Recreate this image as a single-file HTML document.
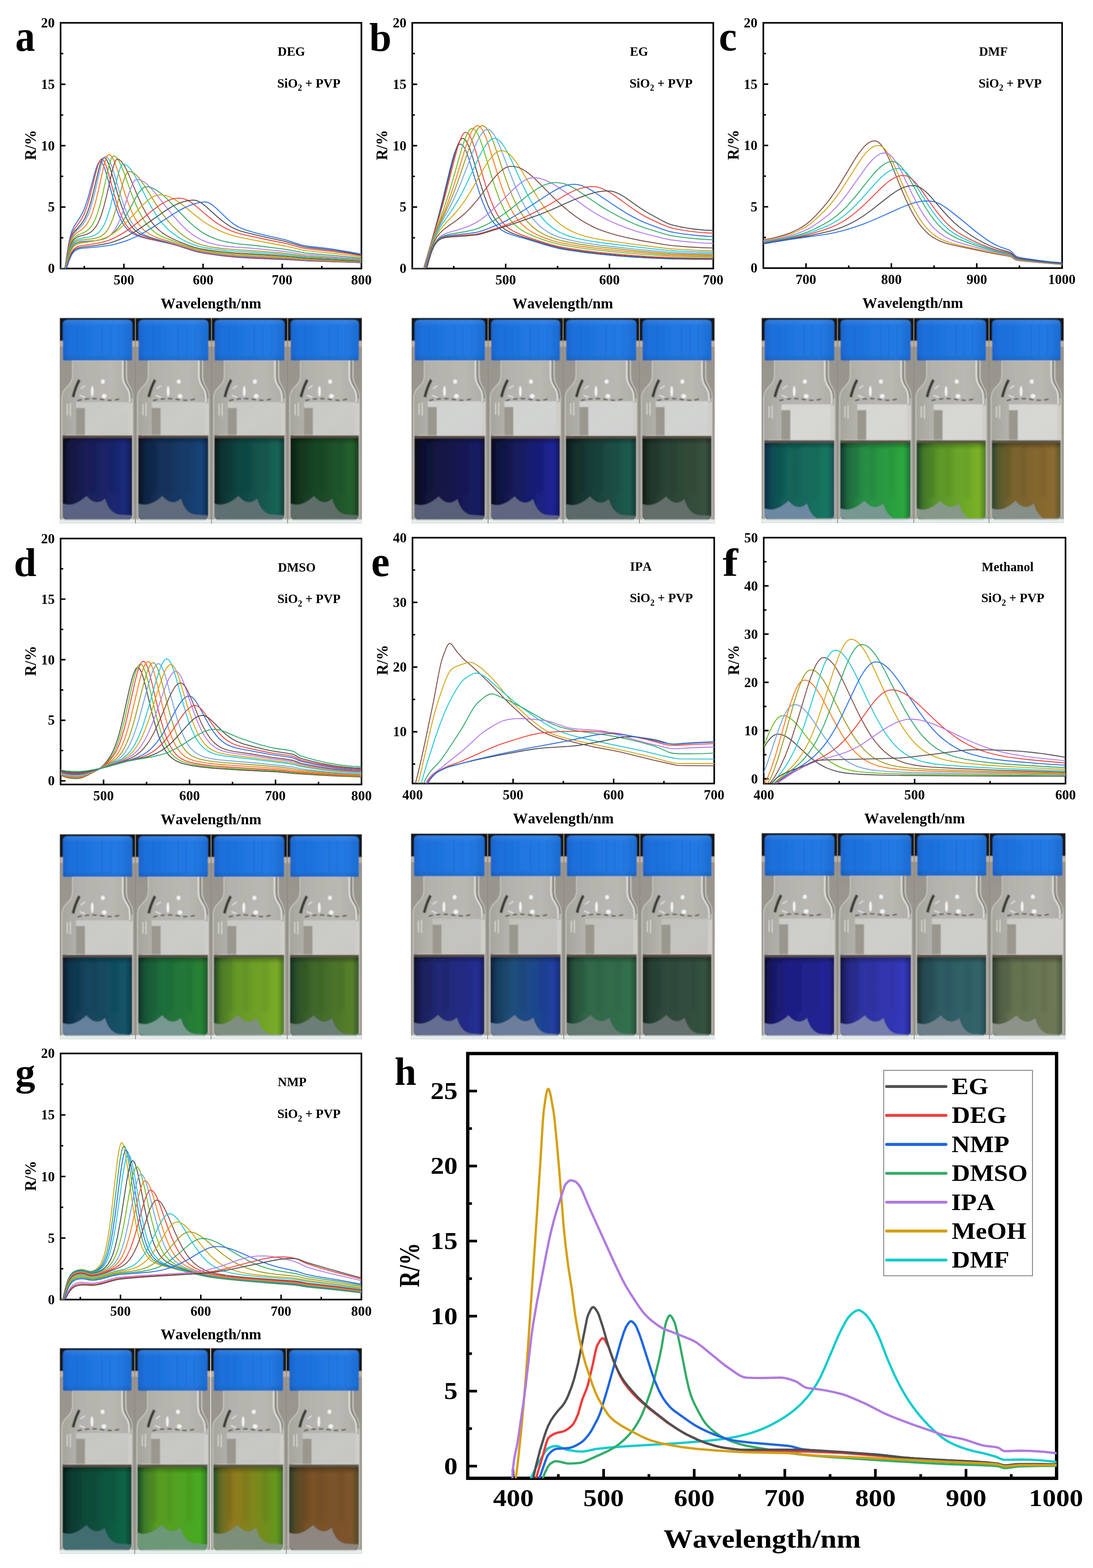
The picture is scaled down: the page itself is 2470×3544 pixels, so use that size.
<!DOCTYPE html>
<html><head><meta charset="utf-8"><title>Figure</title>
<style>
html,body{margin:0;padding:0;background:#fff;}
body{width:2470px;height:3544px;overflow:hidden;position:relative;}
svg{position:absolute;left:0;top:0;display:block;}
text{font-family:'Liberation Serif', 'Times New Roman', serif;font-weight:bold;font-kerning:none;}
</style></head><body>
<svg width="2470" height="3544" viewBox="0 0 2470 3544">
<rect width="2470" height="3544" fill="#fff"/>
<g id="ax-a">
<path d="M280.02,606.90V595.90M458.91,606.90V595.90M637.81,606.90V595.90M190.57,606.90V600.90M369.46,606.90V600.90M548.36,606.90V600.90M727.25,606.90V600.90M136.90,468.07H147.90M136.90,329.25H147.90M136.90,190.43H147.90M136.90,537.49H142.90M136.90,398.66H142.90M136.90,259.84H142.90M136.90,121.01H142.90" stroke="#000" stroke-width="3.4" fill="none"/>
<rect x="136.90" y="51.60" width="679.80" height="555.30" fill="none" stroke="#000" stroke-width="3.6"/>
<text transform="translate(108.26,617.38) scale(0.9700,1)" font-size="32.00" fill="#000">0</text>
<text transform="translate(108.22,478.40) scale(0.9700,1)" font-size="32.00" fill="#000">5</text>
<text transform="translate(92.74,339.73) scale(0.9700,1)" font-size="32.00" fill="#000">10</text>
<text transform="translate(92.70,200.83) scale(0.9700,1)" font-size="32.00" fill="#000">15</text>
<text transform="translate(92.74,62.08) scale(0.9700,1)" font-size="32.00" fill="#000">20</text>
<text transform="translate(256.71,643.18) scale(0.9700,1)" font-size="32.00" fill="#000">500</text>
<text transform="translate(435.69,643.18) scale(0.9700,1)" font-size="32.00" fill="#000">600</text>
<text transform="translate(614.23,643.18) scale(0.9700,1)" font-size="32.00" fill="#000">700</text>
<text transform="translate(793.50,643.18) scale(0.9700,1)" font-size="32.00" fill="#000">800</text>
<text transform="translate(363.01,696.99) scale(0.9880,1)" font-size="34.00" fill="#000">Wavelength/nm</text>
<text transform="translate(80.54,362.07) rotate(-90) scale(0.9640,1)" font-size="35.40">R/%</text>
<text transform="translate(34.62,115.00) scale(0.8933,1)" font-size="100.16" fill="#000">a</text>
<text transform="translate(627.60,126.06) scale(0.9500,1)" font-size="30.00" fill="#000">DEG</text>
<text transform="translate(626.50,197.75) scale(0.96,1)" font-size="30">SiO<tspan font-size="20" dy="7.5">2</tspan><tspan dy="-7.5"> + PVP</tspan></text>
</g>
<g id="ax-b">
<path d="M1142.73,606.90V595.90M1377.31,606.90V595.90M1025.43,606.90V600.90M1260.02,606.90V600.90M1494.61,606.90V600.90M931.60,468.07H942.60M931.60,329.25H942.60M931.60,190.43H942.60M931.60,537.49H937.60M931.60,398.66H937.60M931.60,259.84H937.60M931.60,121.01H937.60" stroke="#000" stroke-width="3.4" fill="none"/>
<rect x="931.60" y="51.60" width="680.30" height="555.30" fill="none" stroke="#000" stroke-width="3.6"/>
<text transform="translate(902.96,617.38) scale(0.9700,1)" font-size="32.00" fill="#000">0</text>
<text transform="translate(902.92,478.40) scale(0.9700,1)" font-size="32.00" fill="#000">5</text>
<text transform="translate(887.44,339.73) scale(0.9700,1)" font-size="32.00" fill="#000">10</text>
<text transform="translate(887.40,200.83) scale(0.9700,1)" font-size="32.00" fill="#000">15</text>
<text transform="translate(887.44,62.08) scale(0.9700,1)" font-size="32.00" fill="#000">20</text>
<text transform="translate(1119.42,643.18) scale(0.9700,1)" font-size="32.00" fill="#000">500</text>
<text transform="translate(1354.09,643.18) scale(0.9700,1)" font-size="32.00" fill="#000">600</text>
<text transform="translate(1588.32,643.18) scale(0.9700,1)" font-size="32.00" fill="#000">700</text>
<text transform="translate(1157.96,696.99) scale(0.9880,1)" font-size="34.00" fill="#000">Wavelength/nm</text>
<text transform="translate(875.24,362.07) rotate(-90) scale(0.9640,1)" font-size="35.40">R/%</text>
<text transform="translate(834.45,115.00) scale(0.9825,1)" font-size="91.88" fill="#000">b</text>
<text transform="translate(1423.51,126.06) scale(0.9500,1)" font-size="30.00" fill="#000">EG</text>
<text transform="translate(1422.40,197.75) scale(0.96,1)" font-size="30">SiO<tspan font-size="20" dy="7.5">2</tspan><tspan dy="-7.5"> + PVP</tspan></text>
</g>
<g id="ax-c">
<path d="M1821.46,606.00V595.00M2014.37,606.00V595.00M2207.29,606.00V595.00M1917.91,606.00V600.00M2110.83,606.00V600.00M2303.74,606.00V600.00M1725.00,467.40H1736.00M1725.00,328.80H1736.00M1725.00,190.20H1736.00M1725.00,536.70H1731.00M1725.00,398.10H1731.00M1725.00,259.50H1731.00M1725.00,120.90H1731.00" stroke="#000" stroke-width="3.4" fill="none"/>
<rect x="1725.00" y="51.60" width="675.20" height="554.40" fill="none" stroke="#000" stroke-width="3.6"/>
<text transform="translate(1696.36,616.48) scale(0.9700,1)" font-size="32.00" fill="#000">0</text>
<text transform="translate(1696.32,477.72) scale(0.9700,1)" font-size="32.00" fill="#000">5</text>
<text transform="translate(1680.84,339.28) scale(0.9700,1)" font-size="32.00" fill="#000">10</text>
<text transform="translate(1680.80,200.61) scale(0.9700,1)" font-size="32.00" fill="#000">15</text>
<text transform="translate(1680.84,62.08) scale(0.9700,1)" font-size="32.00" fill="#000">20</text>
<text transform="translate(1797.88,642.28) scale(0.9700,1)" font-size="32.00" fill="#000">700</text>
<text transform="translate(1991.17,642.28) scale(0.9700,1)" font-size="32.00" fill="#000">800</text>
<text transform="translate(2184.17,642.28) scale(0.9700,1)" font-size="32.00" fill="#000">900</text>
<text transform="translate(2368.51,642.28) scale(0.9700,1)" font-size="32.00" fill="#000">1000</text>
<text transform="translate(1948.81,696.09) scale(0.9880,1)" font-size="34.00" fill="#000">Wavelength/nm</text>
<text transform="translate(1668.64,361.62) rotate(-90) scale(0.9640,1)" font-size="35.40">R/%</text>
<text transform="translate(1624.62,114.40) scale(0.9722,1)" font-size="94.23" fill="#000">c</text>
<text transform="translate(2212.50,125.84) scale(0.9500,1)" font-size="30.00" fill="#000">DMF</text>
<text transform="translate(2211.40,197.75) scale(0.96,1)" font-size="30">SiO<tspan font-size="20" dy="7.5">2</tspan><tspan dy="-7.5"> + PVP</tspan></text>
</g>
<g id="ax-d">
<path d="M234.04,1773.10V1762.10M428.33,1773.10V1762.10M622.61,1773.10V1762.10M331.19,1773.10V1767.10M525.47,1773.10V1767.10M719.76,1773.10V1767.10M136.90,1764.88H147.90M136.90,1627.96H147.90M136.90,1491.04H147.90M136.90,1354.12H147.90M136.90,1696.42H142.90M136.90,1559.50H142.90M136.90,1422.58H142.90M136.90,1285.66H142.90" stroke="#000" stroke-width="3.4" fill="none"/>
<rect x="136.90" y="1217.20" width="680.00" height="555.90" fill="none" stroke="#000" stroke-width="3.6"/>
<text transform="translate(108.26,1775.37) scale(0.9700,1)" font-size="32.00" fill="#000">0</text>
<text transform="translate(108.22,1638.28) scale(0.9700,1)" font-size="32.00" fill="#000">5</text>
<text transform="translate(92.74,1501.53) scale(0.9700,1)" font-size="32.00" fill="#000">10</text>
<text transform="translate(92.70,1364.53) scale(0.9700,1)" font-size="32.00" fill="#000">15</text>
<text transform="translate(92.74,1227.68) scale(0.9700,1)" font-size="32.00" fill="#000">20</text>
<text transform="translate(210.73,1809.38) scale(0.9700,1)" font-size="32.00" fill="#000">500</text>
<text transform="translate(405.11,1809.38) scale(0.9700,1)" font-size="32.00" fill="#000">600</text>
<text transform="translate(599.04,1809.38) scale(0.9700,1)" font-size="32.00" fill="#000">700</text>
<text transform="translate(793.70,1809.38) scale(0.9700,1)" font-size="32.00" fill="#000">800</text>
<text transform="translate(363.11,1863.19) scale(0.9880,1)" font-size="34.00" fill="#000">Wavelength/nm</text>
<text transform="translate(80.54,1527.97) rotate(-90) scale(0.9640,1)" font-size="35.40">R/%</text>
<text transform="translate(31.28,1301.90) scale(1.0075,1)" font-size="91.01" fill="#000">d</text>
<text transform="translate(627.90,1291.66) scale(0.9500,1)" font-size="30.00" fill="#000">DMSO</text>
<text transform="translate(626.80,1363.35) scale(0.96,1)" font-size="30">SiO<tspan font-size="20" dy="7.5">2</tspan><tspan dy="-7.5"> + PVP</tspan></text>
</g>
<g id="ax-e">
<path d="M1159.47,1770.90V1759.90M1386.73,1770.90V1759.90M1045.83,1770.90V1764.90M1273.10,1770.90V1764.90M1500.37,1770.90V1764.90M932.20,1653.93H943.20M932.20,1507.72H943.20M932.20,1361.51H943.20M932.20,1727.04H938.20M932.20,1580.83H938.20M932.20,1434.62H938.20M932.20,1288.41H938.20" stroke="#000" stroke-width="3.4" fill="none"/>
<rect x="932.20" y="1215.30" width="681.80" height="555.60" fill="none" stroke="#000" stroke-width="3.6"/>
<text transform="translate(888.04,1664.42) scale(0.9700,1)" font-size="32.00" fill="#000">10</text>
<text transform="translate(888.04,1518.21) scale(0.9700,1)" font-size="32.00" fill="#000">20</text>
<text transform="translate(888.04,1371.99) scale(0.9700,1)" font-size="32.00" fill="#000">30</text>
<text transform="translate(888.04,1225.78) scale(0.9700,1)" font-size="32.00" fill="#000">40</text>
<text transform="translate(909.30,1807.18) scale(0.9700,1)" font-size="32.00" fill="#000">400</text>
<text transform="translate(1136.16,1807.18) scale(0.9700,1)" font-size="32.00" fill="#000">500</text>
<text transform="translate(1363.51,1807.18) scale(0.9700,1)" font-size="32.00" fill="#000">600</text>
<text transform="translate(1590.42,1807.18) scale(0.9700,1)" font-size="32.00" fill="#000">700</text>
<text transform="translate(1159.31,1860.99) scale(0.9880,1)" font-size="34.00" fill="#000">Wavelength/nm</text>
<text transform="translate(875.84,1525.92) rotate(-90) scale(0.9640,1)" font-size="35.40">R/%</text>
<text transform="translate(838.68,1301.90) scale(0.9769,1)" font-size="96.55" fill="#000">e</text>
<text transform="translate(1423.79,1289.70) scale(0.9500,1)" font-size="30.00" fill="#000">IPA</text>
<text transform="translate(1423.15,1361.45) scale(0.96,1)" font-size="30">SiO<tspan font-size="20" dy="7.5">2</tspan><tspan dy="-7.5"> + PVP</tspan></text>
</g>
<g id="ax-f">
<path d="M2066.90,1771.20V1760.20M1896.40,1771.20V1765.20M2237.40,1771.20V1765.20M1725.90,1760.30H1736.90M1725.90,1651.28H1736.90M1725.90,1542.26H1736.90M1725.90,1433.24H1736.90M1725.90,1324.22H1736.90M1725.90,1705.79H1731.90M1725.90,1596.77H1731.90M1725.90,1487.75H1731.90M1725.90,1378.73H1731.90M1725.90,1269.71H1731.90" stroke="#000" stroke-width="3.4" fill="none"/>
<rect x="1725.90" y="1215.20" width="682.00" height="556.00" fill="none" stroke="#000" stroke-width="3.6"/>
<text transform="translate(1697.26,1770.78) scale(0.9700,1)" font-size="32.00" fill="#000">0</text>
<text transform="translate(1681.74,1661.76) scale(0.9700,1)" font-size="32.00" fill="#000">10</text>
<text transform="translate(1681.74,1552.74) scale(0.9700,1)" font-size="32.00" fill="#000">20</text>
<text transform="translate(1681.74,1443.72) scale(0.9700,1)" font-size="32.00" fill="#000">30</text>
<text transform="translate(1681.74,1334.70) scale(0.9700,1)" font-size="32.00" fill="#000">40</text>
<text transform="translate(1681.74,1225.68) scale(0.9700,1)" font-size="32.00" fill="#000">50</text>
<text transform="translate(1703.00,1807.48) scale(0.9700,1)" font-size="32.00" fill="#000">400</text>
<text transform="translate(2043.59,1807.48) scale(0.9700,1)" font-size="32.00" fill="#000">500</text>
<text transform="translate(2384.68,1807.48) scale(0.9700,1)" font-size="32.00" fill="#000">600</text>
<text transform="translate(1953.11,1861.29) scale(0.9880,1)" font-size="34.00" fill="#000">Wavelength/nm</text>
<text transform="translate(1669.54,1526.02) rotate(-90) scale(0.9640,1)" font-size="35.40">R/%</text>
<text transform="translate(1632.99,1300.60) scale(1.1643,1)" font-size="89.62" fill="#000">f</text>
<text transform="translate(2218.51,1290.62) scale(0.9500,1)" font-size="30.00" fill="#000">Methanol</text>
<text transform="translate(2217.40,1361.35) scale(0.96,1)" font-size="30">SiO<tspan font-size="20" dy="7.5">2</tspan><tspan dy="-7.5"> + PVP</tspan></text>
</g>
<g id="ax-g">
<path d="M272.28,2937.30V2926.30M453.75,2937.30V2926.30M635.23,2937.30V2926.30M181.54,2937.30V2931.30M363.02,2937.30V2931.30M544.49,2937.30V2931.30M725.96,2937.30V2931.30M136.90,2798.23H147.90M136.90,2659.15H147.90M136.90,2520.07H147.90M136.90,2867.76H142.90M136.90,2728.69H142.90M136.90,2589.61H142.90M136.90,2450.54H142.90" stroke="#000" stroke-width="3.4" fill="none"/>
<rect x="136.90" y="2381.00" width="679.80" height="556.30" fill="none" stroke="#000" stroke-width="3.6"/>
<text transform="translate(108.26,2947.78) scale(0.9700,1)" font-size="32.00" fill="#000">0</text>
<text transform="translate(108.22,2808.55) scale(0.9700,1)" font-size="32.00" fill="#000">5</text>
<text transform="translate(92.74,2669.63) scale(0.9700,1)" font-size="32.00" fill="#000">10</text>
<text transform="translate(92.70,2530.48) scale(0.9700,1)" font-size="32.00" fill="#000">15</text>
<text transform="translate(92.74,2391.48) scale(0.9700,1)" font-size="32.00" fill="#000">20</text>
<text transform="translate(248.97,2973.58) scale(0.9700,1)" font-size="32.00" fill="#000">500</text>
<text transform="translate(430.53,2973.58) scale(0.9700,1)" font-size="32.00" fill="#000">600</text>
<text transform="translate(611.65,2973.58) scale(0.9700,1)" font-size="32.00" fill="#000">700</text>
<text transform="translate(793.50,2973.58) scale(0.9700,1)" font-size="32.00" fill="#000">800</text>
<text transform="translate(363.01,3027.39) scale(0.9880,1)" font-size="34.00" fill="#000">Wavelength/nm</text>
<text transform="translate(80.54,2691.97) rotate(-90) scale(0.9640,1)" font-size="35.40">R/%</text>
<text transform="translate(34.52,2452.68) scale(1.0362,1)" font-size="87.07" fill="#000">g</text>
<text transform="translate(627.86,2455.24) scale(0.9500,1)" font-size="30.00" fill="#000">NMP</text>
<text transform="translate(626.80,2527.15) scale(0.96,1)" font-size="30">SiO<tspan font-size="20" dy="7.5">2</tspan><tspan dy="-7.5"> + PVP</tspan></text>
</g>
<g id="ax-h">
<path d="M1159.36,3341.25V3320.25M1364.08,3341.25V3320.25M1568.81,3341.25V3320.25M1773.53,3341.25V3320.25M1978.25,3341.25V3320.25M2182.98,3341.25V3320.25M1261.72,3341.25V3331.75M1466.45,3341.25V3331.75M1671.17,3341.25V3331.75M1875.89,3341.25V3331.75M2080.62,3341.25V3331.75M2285.34,3341.25V3331.75M1057.00,3313.78H1078.00M1057.00,3144.22H1078.00M1057.00,2974.66H1078.00M1057.00,2805.10H1078.00M1057.00,2635.54H1078.00M1057.00,2465.98H1078.00M1057.00,3229.00H1066.50M1057.00,3059.44H1066.50M1057.00,2889.88H1066.50M1057.00,2720.32H1066.50M1057.00,2550.76H1066.50" stroke="#000" stroke-width="6" fill="none"/>
<rect x="1057.00" y="2381.20" width="1330.70" height="960.05" fill="none" stroke="#000" stroke-width="7.5"/>
<text transform="translate(1003.50,3331.67) scale(1.1200,1)" font-size="54.60" fill="#000">0</text>
<text transform="translate(1003.41,3161.83) scale(1.1200,1)" font-size="54.60" fill="#000">5</text>
<text transform="translate(972.93,2992.55) scale(1.1200,1)" font-size="54.60" fill="#000">10</text>
<text transform="translate(972.84,2822.86) scale(1.1200,1)" font-size="54.60" fill="#000">15</text>
<text transform="translate(972.93,2653.43) scale(1.1200,1)" font-size="54.60" fill="#000">20</text>
<text transform="translate(972.84,2483.79) scale(1.1200,1)" font-size="54.60" fill="#000">25</text>
<text transform="translate(1114.14,3403.91) scale(1.1350,1)" font-size="54.00" fill="#000">400</text>
<text transform="translate(1318.06,3403.91) scale(1.1350,1)" font-size="54.00" fill="#000">500</text>
<text transform="translate(1522.96,3403.91) scale(1.1350,1)" font-size="54.00" fill="#000">600</text>
<text transform="translate(1726.98,3403.91) scale(1.1350,1)" font-size="54.00" fill="#000">700</text>
<text transform="translate(1932.44,3403.91) scale(1.1350,1)" font-size="54.00" fill="#000">800</text>
<text transform="translate(2137.34,3403.91) scale(1.1350,1)" font-size="54.00" fill="#000">900</text>
<text transform="translate(2325.12,3403.91) scale(1.1350,1)" font-size="54.00" fill="#000">1000</text>
<text transform="translate(1499.41,3497.84) scale(1.1250,1)" font-size="58.50" fill="#000">Wavelength/nm</text>
<text transform="translate(946.51,2909.46) rotate(-90) scale(0.7600,1)" font-size="66.00">R/%</text>
<text transform="translate(891.80,2452.25) scale(0.9848,1)" font-size="89.72" fill="#000">h</text>
</g>
<clipPath id="cp-a"><rect x="136.9" y="51.6" width="679.8" height="555.3"/></clipPath>
<g clip-path="url(#cp-a)" fill="none" stroke-width="2.1" stroke-linejoin="round" stroke-linecap="round">
<path d="M133.3,606.9 145.8,606.9 147.6,600.3 151.2,574.7 154.8,552.8 158.4,536.1 161.9,524.1 163.7,519.5 167.3,512.1 181.6,489.9 187.0,479.9 190.6,471.8 194.1,462.4 199.5,445.6 213.8,392.1 217.4,380.2 221.0,371.0 222.8,367.9 224.6,366.0 226.3,365.3 228.1,365.8 229.9,367.3 231.7,369.8 233.5,373.1 237.1,382.1 242.4,399.6 253.2,439.4 260.3,463.8 267.5,484.0 272.9,496.3 276.4,503.1 280.0,508.8 283.6,513.7 289.0,519.6 292.5,522.8 297.9,526.6 303.3,529.6 310.4,532.7 319.4,535.9 331.9,539.3 387.4,551.4 401.7,555.6 432.1,565.4 448.2,569.9 457.1,571.7 469.6,573.8 501.8,578.2 535.8,581.6 571.6,583.8 661.1,587.4 696.8,589.7 820.3,593.7" stroke="#2b6fe6"/>
<path d="M133.3,606.9 145.8,606.9 147.6,601.1 151.2,577.3 154.8,557.0 156.6,548.7 160.2,535.5 161.9,530.4 165.5,522.4 169.1,516.5 179.8,501.8 183.4,496.3 188.8,486.3 192.4,478.0 197.7,463.0 203.1,444.6 215.6,393.8 221.0,374.3 224.6,365.0 226.3,362.0 228.1,360.2 229.9,359.8 231.7,360.5 233.5,362.3 235.3,364.9 237.1,368.3 240.7,377.4 246.0,394.9 258.5,441.1 263.9,459.3 271.1,480.1 278.2,496.6 281.8,503.3 285.4,509.0 289.0,513.8 294.3,519.7 297.9,522.8 303.3,526.7 308.6,529.7 315.8,532.8 324.7,535.9 339.1,539.7 378.4,548.5 389.1,551.2 432.1,564.8 448.2,569.3 457.1,571.1 467.9,572.9 500.1,577.3 532.3,580.6 568.0,582.8 659.3,586.7 696.8,589.3 820.3,593.5" stroke="#f0443c"/>
<path d="M133.3,606.9 145.8,606.9 147.6,601.9 151.2,579.4 154.8,560.1 158.4,545.5 161.9,535.0 165.5,527.8 169.1,522.5 181.6,508.6 187.0,501.4 192.4,492.0 195.9,484.2 201.3,469.6 206.7,451.5 212.0,430.3 222.8,384.4 226.3,371.4 229.9,361.7 231.7,358.5 233.5,356.6 235.3,356.2 237.1,356.9 238.9,358.4 240.7,360.7 242.4,363.8 246.0,371.9 251.4,387.6 265.7,437.6 272.9,460.7 280.0,480.2 287.2,495.9 294.3,507.9 297.9,512.7 303.3,518.6 306.9,521.8 312.2,525.9 317.6,529.1 324.7,532.5 335.5,536.3 346.2,539.5 390.9,550.7 430.3,563.3 444.6,567.4 460.7,570.7 494.7,575.6 519.7,578.3 544.8,580.2 657.5,585.6 691.5,588.2 820.3,593.0" stroke="#505050"/>
<path d="M133.3,606.9 145.8,606.9 147.6,602.4 151.2,580.5 154.8,561.7 158.4,547.4 161.9,537.3 165.5,530.4 169.1,525.4 172.7,521.6 183.4,511.5 188.8,505.0 194.1,496.4 199.5,484.8 204.9,469.8 210.2,451.2 215.6,429.4 226.3,382.4 229.9,369.0 233.5,359.1 235.3,355.8 237.1,353.9 238.9,353.4 240.7,354.0 242.4,355.5 244.2,357.6 247.8,363.8 251.4,372.3 256.8,388.3 271.1,437.0 278.2,459.3 285.4,478.4 292.5,493.9 296.1,500.3 301.5,508.5 305.1,513.1 310.4,518.8 314.0,522.0 319.4,526.0 324.7,529.2 331.9,532.6 339.1,535.4 348.0,538.4 389.1,549.4 428.5,562.1 442.8,566.2 458.9,569.7 491.1,574.4 516.2,577.1 541.2,579.1 655.7,584.8 691.5,587.6 820.3,592.7" stroke="#74a4e0"/>
<path d="M133.3,606.9 145.8,606.9 147.6,603.3 153.0,572.9 156.6,557.0 160.2,545.5 163.7,537.6 167.3,532.2 170.9,528.5 174.5,525.6 185.2,518.3 188.8,515.3 192.4,511.6 195.9,507.1 199.5,501.4 204.9,490.4 208.5,481.2 212.0,470.4 217.4,451.1 222.8,428.5 233.5,379.7 237.1,365.9 240.7,355.6 242.4,352.2 244.2,350.2 246.0,349.5 247.8,349.9 249.6,351.0 251.4,352.7 255.0,358.0 258.5,365.4 265.7,385.0 281.8,436.3 289.0,457.1 297.9,479.3 305.1,493.7 308.6,499.8 314.0,507.6 319.4,514.2 324.7,519.5 330.1,523.9 337.3,528.7 342.6,531.6 349.8,534.9 362.3,539.5 389.1,547.4 424.9,559.3 441.0,564.2 450.0,566.4 458.9,568.2 489.3,572.5 512.6,575.1 535.8,577.0 648.5,583.0 666.4,584.2 691.5,586.5 820.3,592.0" stroke="#ff7b1c"/>
<path d="M133.3,606.9 145.8,606.9 147.6,604.4 153.0,575.8 156.6,560.8 160.2,549.9 161.9,545.9 165.5,539.9 169.1,535.9 172.7,533.2 178.0,530.4 190.6,525.2 195.9,522.0 199.5,519.1 203.1,515.5 206.7,511.0 210.2,505.4 213.8,498.4 217.4,490.0 221.0,480.0 226.3,461.9 231.7,440.2 242.4,391.4 247.8,369.6 251.4,359.0 253.2,355.4 255.0,353.3 256.8,352.6 258.5,352.9 260.3,353.7 263.9,356.8 267.5,361.8 272.9,372.2 280.0,389.9 296.1,434.8 305.1,457.8 314.0,477.8 323.0,494.2 326.5,499.7 331.9,507.1 339.1,515.4 344.4,520.6 349.8,525.0 356.9,529.8 364.1,533.8 371.3,537.1 414.2,553.0 439.2,561.2 457.1,565.4 487.5,569.9 507.2,572.0 530.5,573.9 643.2,580.4 664.6,582.0 691.5,584.8 820.3,591.1" stroke="#6cbc22"/>
<path d="M133.3,606.9 145.8,606.9 147.6,605.2 153.0,577.7 156.6,563.3 160.2,552.9 161.9,549.0 165.5,543.2 169.1,539.5 174.5,536.1 179.8,534.1 195.9,529.5 201.3,527.0 204.9,524.8 210.2,520.3 213.8,516.2 217.4,511.2 221.0,504.9 224.6,497.2 228.1,488.1 231.7,477.2 235.3,464.8 240.7,443.4 253.2,387.7 256.8,374.5 260.3,364.9 262.1,361.8 263.9,360.1 265.7,359.8 269.3,360.9 272.9,363.5 276.4,367.5 281.8,375.9 285.4,382.7 290.7,394.3 310.4,441.3 321.2,465.0 326.5,475.5 331.9,485.1 337.3,493.8 342.6,501.6 348.0,508.5 355.2,516.3 360.5,521.2 367.7,526.9 374.8,531.6 383.8,536.5 394.5,541.7 405.2,546.4 428.5,555.2 439.2,558.7 450.0,561.5 458.9,563.4 471.4,565.4 498.3,568.8 532.3,571.7 580.6,574.4 641.4,578.3 662.9,580.2 684.3,582.7 693.3,583.5 820.3,590.3" stroke="#80504a"/>
<path d="M133.3,606.9 145.8,606.9 147.6,606.3 153.0,580.3 156.6,566.6 158.4,561.1 161.9,552.8 163.7,549.8 167.3,545.4 170.9,542.6 176.3,540.2 181.6,538.9 201.3,535.7 208.5,533.8 213.8,531.6 219.2,528.5 222.8,525.6 228.1,519.8 231.7,514.6 235.3,508.1 238.9,500.3 242.4,490.9 246.0,479.8 251.4,460.1 263.9,406.8 269.3,386.5 272.9,376.8 274.6,373.6 276.4,371.6 278.2,370.9 280.0,371.0 283.6,372.1 289.0,375.6 294.3,381.3 299.7,388.7 308.6,404.0 331.9,449.4 344.4,472.3 355.2,489.3 360.5,496.8 367.7,505.7 373.0,511.6 380.2,518.7 387.4,524.9 396.3,531.7 405.2,537.6 414.2,542.7 423.1,547.2 432.1,551.0 446.4,556.0 458.9,559.1 480.4,562.8 503.6,565.6 530.5,567.8 577.0,570.4 639.6,575.2 661.1,577.3 682.5,580.2 693.3,581.2 755.9,584.8 820.3,589.0" stroke="#20c8d4"/>
<path d="M133.3,606.9 147.6,606.9 153.0,582.4 156.6,569.1 158.4,563.8 160.2,559.3 163.7,552.8 165.5,550.4 169.1,547.0 174.5,544.1 179.8,542.7 208.5,539.7 215.6,538.4 222.8,536.2 228.1,533.8 233.5,530.2 238.9,525.0 242.4,520.4 246.0,514.6 251.4,503.3 255.0,494.2 258.5,483.7 265.7,459.1 276.4,418.3 281.8,400.9 285.4,392.6 287.2,389.9 289.0,388.2 290.7,387.6 296.1,388.3 299.7,389.8 303.3,392.0 308.6,396.5 315.8,404.6 321.2,411.9 328.3,422.5 351.6,460.2 364.1,479.0 376.6,495.7 383.8,504.1 390.9,511.8 403.5,523.8 410.6,529.7 417.8,534.9 424.9,539.6 432.1,543.7 439.2,547.2 446.4,550.2 457.1,553.8 471.4,557.2 487.5,559.9 505.4,562.1 532.3,564.3 578.8,567.0 637.8,572.1 659.3,574.5 682.5,577.9 693.3,579.1 755.9,583.0 820.3,587.8" stroke="#9c9c20"/>
<path d="M133.3,606.9 147.6,606.9 154.8,578.0 158.4,566.8 160.2,562.4 163.7,555.9 165.5,553.6 169.1,550.3 174.5,547.5 179.8,546.1 187.0,545.4 215.6,543.7 224.6,542.5 231.7,541.0 238.9,538.5 244.2,535.7 249.6,531.2 253.2,527.5 258.5,520.4 262.1,514.6 267.5,504.1 271.1,496.0 278.2,476.9 292.5,433.3 297.9,419.1 301.5,411.9 303.3,409.2 305.1,407.2 306.9,406.0 308.6,405.6 312.2,405.8 315.8,406.6 319.4,407.9 323.0,409.6 330.1,414.5 337.3,421.0 349.8,435.1 378.4,471.6 394.5,491.2 408.8,507.0 421.3,519.1 433.9,529.3 444.6,536.4 455.3,542.2 467.9,547.2 478.6,550.5 489.3,553.0 501.8,555.3 516.2,557.1 534.0,558.8 560.9,560.4 577.0,561.7 637.8,567.9 657.5,570.5 682.5,574.7 691.5,575.8 757.7,580.7 820.3,586.1" stroke="#b27af0"/>
<path d="M133.3,606.9 147.6,606.9 149.4,602.1 154.8,580.2 156.6,574.2 160.2,564.6 161.9,561.0 165.5,555.6 167.3,553.7 170.9,550.9 176.3,548.5 181.6,547.4 213.8,544.4 222.8,542.9 229.9,541.2 237.1,538.8 244.2,535.5 251.4,530.4 256.8,525.8 262.1,520.4 267.5,514.0 272.9,506.8 278.2,498.7 287.2,483.5 306.9,446.8 314.0,435.2 319.4,428.4 323.0,425.1 326.5,423.0 330.1,422.0 333.7,422.1 337.3,422.7 344.4,425.0 351.6,428.6 358.7,433.3 367.7,440.5 376.6,448.7 387.4,459.7 419.6,493.8 430.3,504.2 441.0,513.5 453.5,522.9 464.3,529.5 476.8,535.7 491.1,541.2 500.1,543.9 509.0,546.1 528.7,549.8 539.4,551.2 578.8,555.1 639.6,562.8 659.3,566.1 687.9,571.5 700.4,572.9 759.5,577.7 820.3,584.0" stroke="#34aa6a"/>
<path d="M133.3,606.9 147.6,606.9 149.4,604.4 154.8,583.5 158.4,572.5 160.2,568.0 161.9,564.3 165.5,558.7 167.3,556.7 170.9,553.7 176.3,551.1 181.6,549.7 208.5,545.6 224.6,542.0 238.9,537.0 244.2,534.7 249.6,531.6 256.8,527.1 263.9,521.9 271.1,516.1 278.2,509.8 292.5,495.5 321.2,464.8 333.7,453.0 340.8,447.7 348.0,443.7 355.2,441.2 360.5,440.3 367.7,440.7 376.6,442.5 383.8,445.1 392.7,449.6 399.9,454.0 408.8,460.4 448.2,492.1 458.9,500.0 469.6,507.2 482.2,514.5 494.7,520.8 509.0,526.8 523.3,531.6 534.0,534.7 543.0,536.7 609.2,549.6 645.0,556.1 687.9,566.0 700.4,567.5 759.5,573.4 820.3,581.0" stroke="#d4a418"/>
<path d="M133.3,606.9 149.4,606.9 154.8,588.3 160.2,573.8 161.9,570.2 165.5,564.7 169.1,561.1 172.7,558.7 178.0,556.5 183.4,555.3 212.0,551.3 229.9,547.8 244.2,543.7 258.5,537.7 274.6,529.0 283.6,523.4 292.5,517.2 308.6,504.9 344.4,475.8 355.2,467.8 364.1,461.7 374.8,455.6 383.8,451.7 389.1,450.0 394.5,448.8 403.5,447.8 410.6,448.2 416.0,449.4 421.3,451.5 428.5,455.3 433.9,458.8 441.0,464.2 473.2,491.7 482.2,498.6 491.1,504.9 501.8,511.6 512.6,517.3 523.3,522.1 534.0,526.0 550.1,530.2 605.6,542.1 645.0,550.0 680.7,559.7 687.9,561.2 698.6,562.8 736.2,566.6 757.7,569.3 788.1,573.5 820.3,578.6" stroke="#f0443c"/>
<path d="M133.3,606.9 149.4,606.9 151.2,602.6 156.6,585.7 160.2,577.0 161.9,573.5 163.7,570.5 167.3,566.1 169.1,564.4 172.7,562.0 178.0,559.9 183.4,558.7 217.4,554.8 238.9,551.1 246.0,549.5 255.0,546.9 271.1,541.0 280.0,537.0 289.0,532.6 308.6,521.3 326.5,509.4 371.3,477.8 382.0,471.0 390.9,465.8 403.5,459.8 414.2,455.9 424.9,453.4 435.7,452.2 439.2,452.4 444.6,453.5 450.0,455.8 455.3,458.9 464.3,465.8 492.9,491.6 507.2,503.0 516.2,509.1 525.1,514.3 534.0,518.7 543.0,522.0 553.7,525.1 584.1,532.5 645.0,545.8 680.7,556.3 687.9,558.0 698.6,559.6 736.2,563.7 755.9,566.3 786.3,570.9 820.3,576.8" stroke="#505050"/>
<path d="M133.3,606.9 149.4,606.9 151.2,604.0 156.6,588.0 160.2,579.6 161.9,576.1 163.7,573.2 167.3,568.8 170.9,565.9 174.5,563.9 179.8,562.2 185.2,561.3 224.6,557.8 247.8,554.5 258.5,552.3 267.5,550.0 285.4,544.2 296.1,539.9 306.9,535.1 317.6,529.7 328.3,523.9 348.0,512.0 392.7,483.1 405.2,475.7 416.0,470.0 428.5,464.4 439.2,460.7 451.8,457.6 462.5,456.3 466.1,456.6 471.4,458.3 475.0,460.1 480.4,463.7 489.3,471.3 514.4,495.3 523.3,502.8 530.5,508.0 535.8,511.3 541.2,514.1 548.4,517.2 555.5,519.8 571.6,524.7 587.7,529.0 645.0,542.1 680.7,553.4 687.9,555.2 698.6,556.9 734.4,560.9 755.9,563.9 786.3,568.9 820.3,575.3" stroke="#2b6fe6"/>
</g>
<clipPath id="cp-b"><rect x="931.6" y="51.6" width="680.3" height="555.3"/></clipPath>
<g clip-path="url(#cp-b)" fill="none" stroke-width="2.1" stroke-linejoin="round" stroke-linecap="round">
<path d="M926.9,606.9 957.4,606.9 973.8,550.4 990.2,491.2 999.6,454.4 1016.1,385.8 1023.1,358.9 1027.8,344.1 1032.5,333.1 1034.8,329.3 1037.2,326.8 1039.5,325.7 1041.9,325.9 1044.2,327.2 1046.5,329.6 1048.9,333.1 1053.6,342.6 1060.6,362.0 1077.0,415.9 1086.4,444.6 1091.1,457.3 1095.8,468.7 1102.8,483.5 1107.5,491.8 1112.2,498.9 1116.9,505.0 1121.6,510.2 1126.3,514.5 1133.3,519.8 1138.0,522.7 1145.1,526.2 1152.1,529.0 1161.5,532.2 1189.6,540.3 1234.2,554.0 1253.0,559.2 1264.7,561.9 1278.8,564.5 1321.0,570.7 1353.9,574.5 1396.1,578.5 1431.3,581.2 1468.8,583.3 1515.7,585.2 1569.7,586.0 1616.6,586.3" stroke="#2b6fe6"/>
<path d="M926.9,606.9 957.4,606.9 985.6,510.7 994.9,477.3 1004.3,441.1 1023.1,364.7 1030.1,339.7 1034.8,326.6 1037.2,321.5 1039.5,317.5 1041.9,314.7 1044.2,313.1 1046.5,312.9 1048.9,313.9 1051.2,315.9 1053.6,319.0 1055.9,323.1 1060.6,333.7 1067.7,354.3 1084.1,409.9 1093.5,439.3 1098.2,452.4 1102.8,464.2 1109.9,479.5 1114.6,488.2 1119.3,495.7 1124.0,502.1 1128.7,507.5 1133.3,512.2 1140.4,517.9 1145.1,520.9 1152.1,524.7 1161.5,528.7 1173.2,532.8 1224.8,549.3 1248.3,556.1 1262.4,559.5 1274.1,561.8 1295.2,565.3 1318.7,568.6 1351.5,572.5 1396.1,576.7 1431.3,579.5 1471.1,582.0 1518.1,584.0 1572.0,584.9 1616.6,585.2" stroke="#505050"/>
<path d="M926.9,606.9 957.4,606.9 959.8,600.0 973.8,551.8 992.6,490.1 999.6,465.9 1009.0,431.1 1027.8,356.5 1034.8,331.2 1039.5,317.3 1044.2,306.8 1046.5,303.1 1048.9,300.6 1051.2,299.2 1053.6,299.1 1055.9,300.1 1058.3,302.1 1060.6,305.3 1063.0,309.3 1067.7,320.0 1074.7,340.7 1093.5,405.5 1100.5,428.2 1109.9,454.6 1114.6,466.0 1119.3,476.1 1124.0,484.9 1128.7,492.7 1133.3,499.3 1138.0,505.0 1142.7,509.9 1149.8,515.9 1154.5,519.2 1161.5,523.2 1175.6,529.5 1194.3,536.4 1222.5,545.9 1245.9,553.0 1260.0,556.6 1271.8,559.0 1295.2,562.9 1318.7,566.3 1351.5,570.2 1398.4,574.8 1436.0,577.8 1478.2,580.5 1522.8,582.4 1574.4,583.4 1616.6,583.7" stroke="#f0443c"/>
<path d="M926.9,606.9 957.4,606.9 959.8,601.0 971.5,561.6 978.5,539.8 1002.0,474.5 1011.4,446.6 1020.7,415.8 1041.9,341.3 1048.9,319.4 1053.6,307.3 1058.3,298.0 1060.6,294.7 1063.0,292.3 1065.3,290.8 1067.7,290.4 1070.0,290.9 1072.4,292.5 1074.7,294.9 1079.4,302.5 1084.1,313.0 1088.8,325.9 1093.5,340.4 1109.9,395.4 1119.3,424.8 1128.7,450.4 1133.3,461.5 1138.0,471.5 1142.7,480.4 1147.4,488.2 1152.1,495.1 1159.1,503.7 1163.8,508.5 1170.9,514.5 1177.9,519.5 1187.3,525.1 1201.4,531.8 1217.8,538.4 1236.6,544.8 1253.0,549.6 1267.1,553.0 1283.5,556.0 1306.9,559.8 1328.1,562.7 1363.2,566.8 1414.8,571.7 1445.3,574.2 1497.0,577.8 1515.7,578.8 1550.9,579.8 1616.6,580.7" stroke="#6cbc22"/>
<path d="M926.9,606.9 957.4,606.9 959.8,601.8 971.5,562.7 980.9,535.1 987.9,517.1 1009.0,466.3 1020.7,434.3 1030.1,405.4 1051.2,335.9 1058.3,315.1 1065.3,298.4 1070.0,290.4 1072.4,287.5 1074.7,285.5 1077.0,284.3 1079.4,284.0 1081.7,284.6 1084.1,286.1 1086.4,288.4 1088.8,291.6 1093.5,300.2 1098.2,311.4 1105.2,331.6 1124.0,392.6 1133.3,421.3 1140.4,440.5 1145.1,452.0 1149.8,462.5 1154.5,471.9 1159.1,480.4 1166.2,491.2 1170.9,497.4 1177.9,505.5 1185.0,512.1 1192.0,517.8 1199.0,522.5 1206.1,526.6 1217.8,532.5 1231.9,538.2 1245.9,543.0 1260.0,547.0 1271.8,549.6 1292.9,553.5 1314.0,556.9 1335.1,559.8 1367.9,563.5 1424.2,569.0 1504.0,575.4 1520.4,576.2 1560.3,577.5 1616.6,578.3" stroke="#ff7b1c"/>
<path d="M926.9,606.9 957.4,606.9 959.8,602.5 971.5,563.2 980.9,536.2 990.2,513.8 1013.7,464.0 1025.4,435.7 1037.2,403.4 1060.6,333.3 1067.7,314.5 1074.7,299.2 1079.4,291.6 1081.7,288.7 1084.1,286.4 1086.4,284.9 1088.8,284.1 1091.1,284.1 1093.5,284.8 1095.8,286.2 1098.2,288.4 1102.8,294.9 1105.2,299.0 1109.9,309.0 1114.6,320.7 1119.3,333.7 1140.4,397.0 1149.8,423.0 1156.8,440.6 1161.5,451.3 1170.9,470.0 1175.6,478.1 1182.6,488.9 1187.3,495.2 1194.3,503.5 1201.4,510.6 1208.4,516.6 1215.4,521.7 1224.8,527.4 1234.2,532.1 1243.6,536.1 1255.3,540.2 1267.1,543.5 1285.8,547.6 1306.9,551.4 1325.7,554.4 1346.8,557.2 1433.6,566.4 1506.3,572.7 1522.8,573.6 1562.6,575.1 1616.6,576.0" stroke="#9c9c20"/>
<path d="M926.9,606.9 957.4,606.9 959.8,603.3 969.1,571.4 973.8,556.8 978.5,543.5 983.2,531.8 992.6,511.8 1016.1,469.2 1023.1,455.3 1030.1,440.3 1041.9,412.5 1067.7,344.8 1077.0,322.5 1084.1,308.7 1088.8,301.5 1093.5,296.3 1095.8,294.5 1098.2,293.3 1100.5,292.7 1102.8,292.7 1105.2,293.3 1107.5,294.5 1109.9,296.3 1114.6,301.7 1116.9,305.1 1121.6,313.5 1126.3,323.3 1133.3,340.2 1154.5,396.1 1166.2,425.3 1177.9,450.9 1185.0,464.4 1189.6,472.6 1194.3,480.1 1201.4,490.2 1208.4,499.0 1215.4,506.6 1222.5,513.1 1229.5,518.7 1236.6,523.5 1243.6,527.5 1253.0,532.0 1262.4,535.7 1271.8,538.6 1283.5,541.6 1299.9,545.2 1318.7,548.7 1356.2,554.1 1438.3,563.2 1511.0,570.1 1567.3,572.6 1616.6,573.5" stroke="#74a4e0"/>
<path d="M926.9,606.9 957.4,606.9 959.8,604.5 966.8,580.3 973.8,558.3 980.9,539.7 987.9,524.8 992.6,516.4 997.3,508.9 1018.4,478.8 1025.4,468.2 1037.2,448.6 1044.2,435.6 1053.6,416.9 1081.7,356.5 1088.8,342.7 1093.5,334.5 1100.5,324.1 1105.2,318.9 1109.9,315.2 1112.2,314.0 1116.9,312.9 1119.3,313.0 1121.6,313.6 1124.0,314.6 1128.7,318.0 1131.0,320.3 1135.7,326.0 1142.7,337.0 1147.4,345.6 1154.5,359.8 1180.3,416.0 1192.0,440.0 1203.7,461.3 1215.4,479.6 1220.1,486.1 1227.2,494.8 1231.9,500.0 1238.9,507.0 1243.6,511.1 1250.6,516.5 1257.7,521.2 1264.7,525.1 1274.1,529.3 1283.5,532.8 1292.9,535.8 1304.6,538.9 1316.3,541.5 1330.4,544.2 1363.2,549.1 1443.0,558.8 1511.0,566.2 1532.1,567.5 1567.3,569.1 1616.6,570.2" stroke="#20c8d4"/>
<path d="M926.9,606.9 957.4,606.9 959.8,605.6 969.1,574.4 976.2,554.2 983.2,538.1 990.2,525.6 994.9,518.9 1002.0,510.2 1023.1,487.8 1032.5,477.1 1039.5,468.3 1046.5,458.8 1053.6,448.5 1063.0,433.6 1095.8,376.8 1102.8,365.7 1107.5,359.1 1114.6,350.6 1121.6,344.5 1126.3,341.9 1128.7,341.1 1133.3,340.4 1135.7,340.5 1140.4,341.6 1142.7,342.6 1147.4,345.4 1154.5,351.6 1159.1,356.8 1163.8,362.8 1170.9,372.9 1177.9,384.1 1206.1,432.1 1217.8,451.0 1231.9,471.3 1243.6,485.7 1255.3,497.9 1267.1,507.8 1278.8,515.7 1292.9,523.2 1304.6,528.1 1316.3,532.2 1328.1,535.5 1342.1,538.8 1367.9,543.2 1433.6,552.3 1501.6,560.9 1518.1,562.6 1572.0,565.6 1616.6,566.7" stroke="#d4a418"/>
<path d="M926.9,606.9 959.8,606.9 969.1,576.7 976.2,557.4 983.2,542.5 987.9,534.8 992.6,528.6 997.3,523.6 1004.3,517.3 1030.1,499.1 1039.5,491.9 1048.9,483.9 1058.3,474.9 1067.7,464.8 1077.0,453.9 1086.4,441.9 1112.2,407.6 1121.6,396.5 1128.7,389.3 1135.7,383.4 1142.7,379.0 1149.8,376.5 1154.5,375.9 1159.1,376.0 1163.8,376.6 1170.9,378.3 1180.3,382.4 1189.6,388.2 1199.0,395.4 1208.4,403.7 1257.7,453.2 1271.8,466.1 1285.8,477.8 1302.2,490.2 1318.7,501.1 1335.1,510.2 1344.5,514.7 1353.9,518.7 1365.6,523.1 1379.7,527.5 1398.4,532.7 1417.2,537.3 1450.0,544.1 1501.6,552.8 1520.4,555.2 1555.6,558.1 1588.4,559.9 1616.6,560.7" stroke="#80504a"/>
<path d="M926.9,606.9 959.8,606.9 962.1,603.1 971.5,573.9 978.5,556.8 980.9,552.2 985.6,544.7 990.2,539.0 994.9,534.7 1002.0,530.2 1009.0,527.1 1016.1,524.7 1041.9,517.4 1058.3,511.5 1072.4,505.0 1081.7,499.5 1088.8,494.7 1095.8,489.3 1109.9,477.2 1126.3,461.8 1159.1,428.9 1173.2,416.3 1182.6,409.6 1189.6,405.8 1196.7,403.1 1203.7,401.8 1208.4,401.7 1213.1,402.1 1222.5,403.9 1231.9,407.0 1243.6,412.4 1255.3,419.1 1267.1,426.8 1283.5,438.4 1323.4,467.8 1337.4,477.2 1349.2,484.4 1363.2,492.2 1377.3,499.1 1398.4,508.3 1419.5,516.4 1438.3,522.8 1457.1,528.3 1499.3,538.7 1515.7,542.1 1539.2,545.1 1567.3,547.8 1593.1,549.5 1616.6,550.3" stroke="#b27af0"/>
<path d="M926.9,606.9 959.8,606.9 962.1,606.3 971.5,576.0 976.2,563.6 978.5,558.4 983.2,549.8 987.9,543.5 992.6,538.9 997.3,535.6 1004.3,532.4 1013.7,529.8 1051.2,523.6 1070.0,519.5 1081.7,515.8 1093.5,510.8 1105.2,504.6 1119.3,496.5 1138.0,484.3 1154.5,472.1 1194.3,440.2 1203.7,433.3 1213.1,427.2 1222.5,421.8 1231.9,417.5 1241.3,414.4 1250.6,412.8 1260.0,412.7 1269.4,414.0 1278.8,416.6 1290.5,421.7 1297.6,425.5 1306.9,431.3 1351.5,462.0 1365.6,471.0 1377.3,477.9 1398.4,489.4 1417.2,498.8 1436.0,507.1 1454.7,514.3 1499.3,528.2 1511.0,531.3 1520.4,533.2 1543.9,536.5 1569.7,539.4 1593.1,541.1 1616.6,541.9" stroke="#34aa6a"/>
<path d="M926.9,606.9 962.1,606.9 964.4,601.2 969.1,585.2 973.8,571.1 976.2,565.1 980.9,555.0 983.2,551.0 987.9,544.8 992.6,540.4 997.3,537.4 1004.3,534.6 1013.7,532.5 1058.3,527.8 1072.4,525.9 1079.4,524.5 1086.4,522.6 1095.8,519.5 1121.6,509.2 1131.0,505.1 1142.7,499.5 1163.8,487.8 1187.3,473.2 1238.9,439.4 1255.3,429.5 1264.7,424.7 1274.1,420.8 1283.5,418.0 1290.5,416.8 1299.9,416.5 1306.9,417.5 1316.3,420.1 1325.7,424.1 1332.7,427.8 1342.1,433.5 1400.8,472.6 1414.8,481.4 1428.9,489.5 1443.0,496.8 1457.1,503.2 1494.6,517.3 1506.3,521.3 1515.7,523.9 1525.1,525.7 1543.9,528.7 1562.6,531.0 1581.4,532.9 1600.2,534.1 1616.6,534.6" stroke="#2b6fe6"/>
<path d="M926.9,606.9 962.1,606.9 964.4,604.3 969.1,587.5 973.8,572.7 976.2,566.4 980.9,556.0 983.2,552.0 987.9,545.7 992.6,541.5 997.3,538.7 1004.3,536.2 1013.7,534.6 1060.6,530.8 1072.4,529.7 1079.4,528.7 1086.4,527.1 1095.8,524.4 1135.7,511.4 1152.1,505.3 1170.9,497.4 1192.0,487.8 1215.4,476.5 1236.6,465.2 1278.8,440.4 1292.9,433.1 1302.2,429.1 1311.6,425.9 1321.0,423.6 1328.1,422.4 1337.4,421.7 1346.8,422.3 1356.2,424.6 1367.9,429.5 1377.3,434.5 1386.7,440.4 1428.9,471.0 1440.7,478.9 1450.0,484.7 1459.4,490.0 1468.8,494.8 1494.6,506.7 1508.7,512.4 1518.1,515.3 1525.1,517.0 1541.5,520.0 1557.9,522.5 1574.4,524.5 1588.4,525.8 1602.5,526.6 1616.6,527.0" stroke="#f0443c"/>
<path d="M926.9,606.9 964.4,606.9 969.1,589.5 973.8,574.0 976.2,567.4 980.9,556.7 983.2,552.6 987.9,546.3 992.6,542.2 997.3,539.6 1004.3,537.4 1013.7,535.9 1053.6,533.1 1074.7,531.3 1084.1,529.6 1093.5,527.1 1149.8,509.6 1220.1,484.7 1245.9,474.2 1295.2,452.2 1318.7,443.2 1330.4,439.2 1342.1,435.8 1351.5,433.6 1360.9,432.2 1370.3,431.5 1379.7,431.8 1384.4,432.6 1389.0,434.0 1398.4,437.9 1405.5,441.7 1412.5,446.1 1447.7,470.8 1464.1,481.2 1497.0,499.2 1506.3,503.7 1515.7,507.4 1522.8,509.4 1536.8,512.6 1550.9,515.2 1565.0,517.4 1590.8,520.1 1616.6,521.1" stroke="#505050"/>
</g>
<clipPath id="cp-c"><rect x="1725.0" y="51.6" width="675.2" height="554.4"/></clipPath>
<g clip-path="url(#cp-c)" fill="none" stroke-width="2.1" stroke-linejoin="round" stroke-linecap="round">
<path d="M1721.1,543.0 1740.4,539.4 1757.8,535.3 1773.2,530.8 1786.7,526.0 1800.2,519.9 1811.8,513.5 1821.5,507.2 1831.1,499.4 1842.7,488.1 1860.0,469.0 1869.7,457.4 1879.3,444.5 1887.0,433.4 1896.7,418.4 1933.3,357.8 1941.1,346.2 1948.8,336.1 1956.5,327.8 1960.4,324.6 1964.2,321.9 1968.1,320.0 1971.9,318.8 1977.7,318.5 1981.6,319.4 1983.5,320.4 1985.4,321.7 1989.3,325.2 1995.1,332.5 1998.9,338.8 2002.8,345.9 2008.6,357.9 2014.4,371.1 2037.5,428.4 2047.2,451.1 2056.8,471.5 2066.5,489.3 2076.1,504.4 2085.7,516.6 2095.4,526.4 2101.2,531.3 2107.0,535.5 2114.7,540.1 2124.3,544.8 2134.0,548.4 2143.6,551.4 2162.9,556.0 2232.4,570.4 2251.7,574.2 2280.6,579.1 2284.5,580.4 2286.4,581.4 2294.1,586.8 2296.0,587.7 2299.9,588.8 2309.5,590.0 2344.3,593.3 2404.1,598.2" stroke="#80504a"/>
<path d="M1721.1,544.2 1740.4,540.7 1757.8,537.0 1773.2,533.0 1788.7,528.0 1802.2,522.6 1813.7,516.9 1825.3,510.0 1835.0,502.8 1846.5,492.7 1863.9,476.0 1873.5,465.5 1885.1,451.4 1894.8,438.3 1904.4,424.1 1941.1,366.8 1948.8,355.8 1956.5,346.1 1964.2,338.2 1968.1,335.0 1971.9,332.5 1975.8,330.5 1979.6,329.3 1985.4,328.7 1989.3,329.4 1991.2,330.1 1993.2,331.2 1997.0,334.2 2002.8,340.8 2006.7,346.5 2010.5,353.0 2016.3,364.0 2022.1,376.3 2047.2,434.5 2056.8,455.6 2066.5,474.7 2076.1,491.3 2085.7,505.4 2095.4,516.9 2105.0,526.2 2110.8,530.8 2116.6,534.8 2124.3,539.3 2132.0,543.0 2141.7,546.8 2151.3,549.9 2166.8,553.9 2232.4,568.9 2253.6,573.3 2280.6,578.2 2284.5,579.5 2286.4,580.6 2294.1,586.2 2296.0,587.1 2299.9,588.2 2311.5,589.7 2346.2,593.1 2404.1,597.9" stroke="#d4a418"/>
<path d="M1721.1,545.9 1744.3,542.0 1765.5,537.7 1784.8,532.9 1800.2,528.2 1813.7,523.2 1825.3,518.0 1836.9,511.3 1850.4,502.1 1863.9,492.2 1875.5,482.5 1885.1,473.3 1896.7,460.7 1906.3,449.0 1917.9,433.7 1956.5,379.1 1964.2,369.3 1971.9,360.8 1979.6,353.8 1983.5,351.0 1987.4,348.8 1991.2,347.1 1995.1,346.1 2000.9,345.7 2004.7,346.4 2006.7,347.1 2012.4,350.9 2018.2,356.9 2025.9,367.9 2031.7,377.8 2037.5,388.8 2062.6,441.0 2072.2,459.9 2083.8,480.4 2093.5,495.1 2103.1,507.5 2112.8,517.8 2122.4,526.2 2132.0,532.9 2139.8,537.4 2149.4,541.9 2159.1,545.6 2170.6,549.3 2207.3,559.6 2236.2,567.2 2253.6,571.3 2276.7,575.7 2282.5,577.2 2286.4,579.1 2294.1,585.1 2296.0,586.1 2299.9,587.2 2313.4,589.0 2348.1,592.6 2404.1,597.3" stroke="#b27af0"/>
<path d="M1721.1,547.6 1750.1,542.8 1775.2,538.0 1796.4,533.1 1813.7,528.3 1825.3,524.3 1836.9,519.4 1862.0,506.7 1871.6,501.2 1883.2,493.4 1892.8,485.9 1902.5,477.4 1914.1,465.9 1923.7,455.3 1933.3,444.0 1971.9,395.7 1979.6,387.0 1987.4,379.4 1995.1,373.1 2002.8,368.4 2006.7,366.8 2010.5,365.7 2014.4,365.1 2018.2,365.1 2020.2,365.4 2024.0,366.5 2029.8,370.0 2035.6,375.4 2043.3,385.1 2049.1,393.9 2054.9,403.5 2080.0,449.1 2089.6,465.7 2101.2,483.8 2110.8,496.9 2120.5,508.1 2130.1,517.6 2139.8,525.4 2149.4,531.8 2159.1,537.0 2170.6,542.1 2188.0,548.6 2209.2,555.9 2228.5,562.0 2245.9,567.0 2259.4,570.3 2276.7,573.9 2282.5,575.5 2286.4,577.5 2294.1,583.9 2296.0,584.9 2299.9,586.2 2313.4,588.1 2348.1,591.9 2377.1,594.6 2404.1,596.7" stroke="#34aa6a"/>
<path d="M1721.1,548.6 1752.0,543.6 1779.0,538.7 1800.2,534.3 1819.5,529.5 1835.0,524.6 1860.0,514.8 1871.6,509.9 1881.3,504.9 1892.8,498.0 1902.5,491.4 1912.1,483.8 1923.7,473.6 1933.3,464.2 1943.0,454.0 1983.5,408.7 1991.2,401.0 1998.9,394.1 2008.6,387.2 2016.3,383.4 2024.0,381.2 2027.9,380.9 2031.7,381.0 2037.5,382.5 2043.3,385.9 2049.1,390.9 2056.8,399.7 2062.6,407.6 2068.4,416.3 2093.5,456.9 2103.1,471.7 2114.7,487.9 2124.3,499.7 2134.0,509.9 2143.6,518.6 2153.3,525.8 2162.9,531.8 2174.5,537.8 2188.0,544.0 2205.4,551.1 2222.7,557.5 2236.2,562.1 2249.7,566.1 2261.3,569.1 2276.7,572.5 2282.5,574.2 2286.4,576.3 2294.1,583.0 2296.0,584.1 2299.9,585.4 2315.3,587.6 2350.0,591.6 2377.1,594.2 2404.1,596.3" stroke="#20c8d4"/>
<path d="M1721.1,549.6 1782.9,539.3 1806.0,534.8 1823.4,531.0 1836.9,527.3 1865.8,518.4 1877.4,514.1 1889.0,509.1 1900.6,503.1 1912.1,496.1 1921.8,489.4 1933.3,480.3 1943.0,472.0 1954.6,461.3 1993.2,423.1 2002.8,414.5 2010.5,408.5 2020.2,402.4 2027.9,399.0 2035.6,397.0 2043.3,396.7 2049.1,397.8 2053.0,399.4 2056.8,401.8 2062.6,406.4 2070.3,414.3 2081.9,429.1 2107.0,465.0 2116.6,478.1 2128.2,492.5 2139.8,504.9 2149.4,513.9 2159.1,521.5 2168.7,528.0 2180.3,534.7 2191.9,540.8 2205.4,547.2 2218.9,553.1 2232.4,558.4 2253.6,565.4 2276.7,571.1 2282.5,572.9 2286.4,575.2 2294.1,582.1 2296.0,583.3 2299.9,584.6 2315.3,587.0 2350.0,591.2 2377.1,593.8 2404.1,595.9" stroke="#f0443c"/>
<path d="M1721.1,550.8 1802.2,537.4 1831.1,532.2 1873.5,523.0 1887.0,519.2 1900.6,514.5 1914.1,508.9 1925.6,503.3 1937.2,496.8 1948.8,489.6 1958.4,483.0 1970.0,474.4 2012.4,441.1 2022.1,434.4 2029.8,429.6 2039.5,424.7 2047.2,421.8 2056.8,419.8 2064.5,419.6 2068.4,419.9 2072.2,420.8 2078.0,423.1 2083.8,426.6 2091.5,432.8 2097.3,438.3 2105.0,446.5 2130.1,475.7 2141.7,488.5 2153.3,500.2 2164.8,510.5 2178.3,521.0 2193.8,531.7 2207.3,540.2 2222.7,548.7 2236.2,555.1 2249.7,560.6 2259.4,563.8 2276.7,568.5 2282.5,570.6 2286.4,573.0 2294.1,580.5 2296.0,581.7 2299.9,583.2 2317.2,586.1 2350.0,590.3 2377.1,593.1 2404.1,595.1" stroke="#505050"/>
<path d="M1721.1,552.1 1752.0,546.6 1782.9,541.6 1865.8,529.8 1883.2,526.5 1902.5,522.0 1929.5,514.1 1956.5,504.4 1981.6,493.9 2033.7,470.4 2045.2,465.6 2056.8,461.3 2068.4,457.8 2080.0,455.3 2089.6,454.3 2099.3,454.4 2107.0,455.2 2114.7,457.1 2122.4,460.2 2132.0,465.6 2139.8,470.9 2149.4,478.1 2174.5,498.1 2207.3,525.1 2226.6,539.4 2240.1,548.0 2251.7,554.2 2261.3,558.4 2278.7,564.5 2282.5,566.3 2286.4,569.1 2294.1,577.7 2298.0,580.0 2301.8,581.3 2311.5,583.2 2346.2,588.4 2375.1,591.8 2404.1,594.0" stroke="#2b6fe6"/>
</g>
<clipPath id="cp-d"><rect x="136.9" y="1217.2" width="680.0" height="555.9"/></clipPath>
<g clip-path="url(#cp-d)" fill="none" stroke-width="2.1" stroke-linejoin="round" stroke-linecap="round">
<path d="M133.0,1750.3 138.8,1753.1 146.6,1756.1 152.4,1757.7 160.2,1759.1 168.0,1759.8 175.8,1759.7 179.6,1759.3 185.5,1757.8 191.3,1755.6 199.1,1751.9 216.6,1742.6 222.4,1738.9 228.2,1734.3 234.0,1728.9 239.9,1722.4 243.8,1717.4 249.6,1708.6 255.4,1697.8 261.2,1683.9 265.1,1672.6 269.0,1659.6 274.8,1637.2 292.3,1558.0 298.2,1534.5 302.0,1522.1 305.9,1513.4 307.9,1510.7 309.8,1509.2 311.8,1508.9 313.7,1509.8 315.6,1511.8 317.6,1515.0 319.5,1519.2 323.4,1530.2 329.2,1551.5 342.8,1608.5 348.7,1631.1 356.4,1657.1 360.3,1668.1 364.2,1677.7 368.1,1686.1 372.0,1693.3 375.9,1699.4 379.8,1704.5 383.6,1708.9 389.5,1714.1 395.3,1718.1 401.1,1721.2 407.0,1723.7 414.7,1726.3 430.3,1729.9 453.6,1733.4 484.7,1736.6 543.0,1740.4 624.6,1744.4 667.3,1748.5 725.6,1752.3 776.1,1754.8 820.8,1756.1" stroke="#505050"/>
<path d="M133.0,1749.8 138.8,1752.5 146.6,1755.4 152.4,1757.0 160.2,1758.4 168.0,1759.0 175.8,1758.9 179.6,1758.5 185.5,1757.1 191.3,1755.0 199.1,1751.4 216.6,1742.5 224.3,1737.7 232.1,1731.7 237.9,1726.4 243.8,1720.3 249.6,1713.0 255.4,1704.3 259.3,1697.0 265.1,1683.5 269.0,1672.6 274.8,1653.1 280.7,1630.2 298.2,1551.0 304.0,1527.5 307.9,1515.1 311.8,1506.2 313.7,1503.4 315.6,1501.7 317.6,1501.2 319.5,1501.8 321.5,1503.7 323.4,1506.6 325.4,1510.6 329.2,1521.3 335.1,1542.4 348.7,1600.1 356.4,1630.7 364.2,1656.5 370.0,1672.4 373.9,1681.3 377.8,1689.0 381.7,1695.5 385.6,1701.1 389.5,1705.7 395.3,1711.4 401.1,1715.7 407.0,1719.0 412.8,1721.6 418.6,1723.7 426.4,1725.8 434.2,1727.5 455.5,1730.9 482.7,1733.8 527.4,1737.0 624.6,1742.4 677.0,1747.5 729.5,1751.3 778.0,1753.9 820.8,1755.2" stroke="#6cbc22"/>
<path d="M133.0,1749.2 138.8,1751.9 146.6,1754.7 152.4,1756.2 160.2,1757.6 168.0,1758.2 175.8,1758.2 181.6,1757.4 187.4,1755.8 197.1,1751.8 216.6,1742.3 226.3,1736.5 234.0,1730.9 241.8,1724.3 249.6,1716.5 255.4,1709.4 261.2,1700.3 265.1,1692.6 271.0,1678.5 274.8,1667.2 280.7,1647.4 286.5,1624.3 304.0,1545.5 309.8,1522.2 313.7,1509.6 317.6,1500.5 319.5,1497.5 321.5,1495.5 323.4,1494.6 325.4,1494.9 327.3,1496.4 329.2,1499.0 333.1,1507.3 337.0,1519.0 342.8,1541.2 356.4,1599.5 362.3,1622.7 370.0,1649.7 373.9,1661.2 377.8,1671.3 381.7,1680.2 385.6,1687.8 389.5,1694.3 393.4,1699.8 397.2,1704.4 403.1,1710.0 407.0,1712.9 412.8,1716.5 418.6,1719.2 424.4,1721.4 438.0,1724.9 457.5,1728.1 482.7,1731.0 519.6,1733.8 624.6,1740.3 642.0,1741.9 679.0,1746.0 733.4,1750.3 780.0,1753.0 820.8,1754.3" stroke="#f0443c"/>
<path d="M133.0,1748.4 138.8,1751.0 146.6,1753.7 152.4,1755.2 160.2,1756.5 168.0,1757.1 175.8,1757.1 179.6,1756.7 185.5,1755.4 191.3,1753.4 199.1,1750.2 218.5,1741.3 226.3,1737.0 237.9,1729.6 247.6,1722.6 255.4,1716.3 261.2,1710.1 267.1,1701.9 272.9,1691.4 278.7,1678.1 282.6,1667.5 288.4,1649.1 294.3,1627.8 313.7,1545.7 319.5,1523.6 323.4,1511.6 327.3,1502.5 329.2,1499.3 331.2,1497.0 333.1,1495.7 335.1,1495.5 337.0,1496.3 339.0,1498.2 340.9,1501.1 342.8,1505.0 346.7,1515.4 350.6,1528.4 354.5,1543.3 368.1,1599.8 373.9,1622.2 381.7,1648.3 385.6,1659.5 389.5,1669.4 393.4,1678.0 397.2,1685.5 401.1,1691.9 405.0,1697.3 408.9,1701.9 414.7,1707.3 418.6,1710.2 424.4,1713.7 434.2,1717.8 447.8,1721.4 465.2,1724.3 486.6,1726.9 511.9,1729.0 576.0,1733.2 626.5,1737.0 661.5,1740.7 680.9,1743.6 737.2,1748.7 780.0,1751.4 820.8,1752.8" stroke="#ff7b1c"/>
<path d="M133.0,1747.6 138.8,1750.1 146.6,1752.6 152.4,1754.0 160.2,1755.3 168.0,1755.9 175.8,1755.9 181.6,1755.2 187.4,1753.8 195.2,1751.0 216.6,1742.0 230.2,1735.2 257.4,1719.3 263.2,1714.7 269.0,1708.8 274.8,1701.1 280.7,1691.3 286.5,1679.1 292.3,1664.3 298.2,1646.8 304.0,1626.7 323.4,1549.9 331.2,1522.6 335.1,1511.9 339.0,1503.9 340.9,1501.1 342.8,1499.1 344.8,1498.1 346.7,1497.9 348.7,1498.8 350.6,1500.7 352.6,1503.5 356.4,1511.7 360.3,1522.9 366.2,1543.6 379.8,1597.5 385.6,1619.2 393.4,1644.6 401.1,1665.3 405.0,1673.9 408.9,1681.4 412.8,1687.8 416.7,1693.2 420.6,1697.8 426.4,1703.4 430.3,1706.3 436.1,1709.8 445.8,1713.9 455.5,1716.7 471.1,1719.8 488.6,1722.0 511.9,1724.2 572.1,1728.6 630.4,1733.6 661.5,1737.2 680.9,1740.7 737.2,1746.6 780.0,1749.7 820.8,1751.2" stroke="#9c9c20"/>
<path d="M133.0,1746.8 138.8,1749.1 146.6,1751.5 152.4,1752.9 160.2,1754.1 168.0,1754.6 175.8,1754.6 181.6,1754.0 187.4,1752.7 197.1,1749.4 220.4,1740.0 257.4,1722.3 263.2,1719.0 267.1,1716.3 272.9,1711.5 276.8,1707.5 282.6,1700.4 288.4,1691.4 294.3,1680.4 300.1,1667.0 305.9,1651.2 313.7,1626.6 335.1,1547.9 342.8,1522.9 346.7,1513.1 350.6,1505.8 352.6,1503.2 354.5,1501.3 356.4,1500.3 358.4,1500.1 360.3,1500.8 362.3,1502.5 364.2,1505.0 368.1,1512.6 372.0,1522.9 377.8,1542.2 391.4,1593.4 399.2,1620.9 407.0,1644.7 412.8,1659.7 416.7,1668.3 420.6,1675.8 424.4,1682.3 428.3,1687.9 432.2,1692.6 438.0,1698.3 441.9,1701.4 447.8,1705.1 457.5,1709.5 467.2,1712.5 478.8,1715.0 494.4,1717.2 515.8,1719.4 568.2,1723.6 638.2,1730.6 663.4,1733.8 680.9,1737.7 710.0,1741.4 737.2,1744.4 780.0,1747.9 801.4,1748.9 820.8,1749.5" stroke="#74a4e0"/>
<path d="M133.0,1745.2 138.8,1747.3 146.6,1749.6 154.4,1751.1 162.2,1752.1 169.9,1752.4 177.7,1752.3 183.5,1751.5 189.4,1750.1 197.1,1747.6 218.5,1739.8 245.7,1728.2 265.1,1720.7 272.9,1716.7 278.7,1712.9 284.6,1708.3 290.4,1702.6 298.2,1693.0 304.0,1683.8 309.8,1672.7 315.6,1659.6 321.5,1644.3 329.2,1620.8 337.0,1594.4 352.6,1538.8 360.3,1514.6 366.2,1500.8 370.0,1494.3 372.0,1492.0 373.9,1490.5 375.9,1489.6 377.8,1489.4 379.8,1490.2 381.7,1491.7 383.6,1494.2 387.5,1501.4 391.4,1511.2 397.2,1529.7 412.8,1586.6 420.6,1613.3 428.3,1636.3 434.2,1650.9 441.9,1666.8 445.8,1673.3 449.7,1678.9 453.6,1683.8 459.4,1689.8 463.3,1693.0 469.1,1697.0 476.9,1701.0 486.6,1704.5 496.3,1706.8 509.9,1709.1 564.3,1715.1 651.8,1725.9 663.4,1727.7 677.0,1731.8 680.9,1732.7 708.1,1736.9 735.3,1740.6 758.6,1743.1 780.0,1744.9 801.4,1746.1 820.8,1746.6" stroke="#20c8d4"/>
<path d="M133.0,1744.7 138.8,1746.7 146.6,1748.9 154.4,1750.4 162.2,1751.3 169.9,1751.7 177.7,1751.5 183.5,1750.8 189.4,1749.5 197.1,1747.2 218.5,1739.7 245.7,1728.9 261.2,1723.7 269.0,1720.6 276.8,1716.9 284.6,1712.3 290.4,1708.1 296.2,1702.9 304.0,1694.2 309.8,1686.0 317.6,1672.5 323.4,1660.2 329.2,1646.1 337.0,1624.5 344.8,1600.4 360.3,1549.8 368.1,1527.6 373.9,1514.4 377.8,1508.0 381.7,1503.8 383.6,1502.6 385.6,1502.0 387.5,1502.2 389.5,1503.1 391.4,1504.8 393.4,1507.2 397.2,1514.1 401.1,1523.4 407.0,1540.4 422.5,1592.5 430.3,1616.8 438.0,1637.9 445.8,1655.4 453.6,1669.3 457.5,1675.0 461.4,1679.9 469.1,1687.9 473.0,1691.0 478.8,1694.8 484.7,1697.8 492.4,1700.7 500.2,1702.9 509.9,1704.8 525.5,1707.1 564.3,1711.6 611.0,1718.0 655.6,1723.7 663.4,1725.0 677.0,1729.5 680.9,1730.5 717.8,1736.6 745.0,1740.2 772.2,1742.9 797.5,1744.7 820.8,1745.4" stroke="#d4a418"/>
<path d="M133.0,1744.1 138.8,1746.0 146.6,1748.0 154.4,1749.4 162.2,1750.3 169.9,1750.7 177.7,1750.6 183.5,1749.9 189.4,1748.7 197.1,1746.6 218.5,1739.6 245.7,1729.6 263.2,1724.1 274.8,1719.9 282.6,1716.5 290.4,1712.4 298.2,1707.4 304.0,1702.7 311.8,1694.9 317.6,1687.6 325.4,1675.7 331.2,1665.0 337.0,1652.6 344.8,1633.9 352.6,1612.8 370.0,1562.5 375.9,1547.2 379.8,1538.1 385.6,1527.1 389.5,1521.8 393.4,1518.5 395.3,1517.7 397.2,1517.3 399.2,1517.6 401.1,1518.6 403.1,1520.3 405.0,1522.6 408.9,1529.0 412.8,1537.4 418.6,1552.6 434.2,1598.8 441.9,1620.5 449.7,1639.5 457.5,1655.4 465.2,1668.2 473.0,1678.1 480.8,1685.5 484.7,1688.4 490.5,1692.0 496.3,1694.8 502.2,1697.0 509.9,1699.2 517.7,1700.8 531.3,1703.0 566.3,1707.5 612.9,1714.6 657.6,1720.6 665.4,1722.3 677.0,1726.8 680.9,1727.8 719.8,1734.7 747.0,1738.6 772.2,1741.3 797.5,1743.1 820.8,1743.9" stroke="#b27af0"/>
<path d="M133.0,1743.6 146.6,1747.4 154.4,1748.7 162.2,1749.6 169.9,1750.0 177.7,1749.9 183.5,1749.3 189.4,1748.2 197.1,1746.2 216.6,1740.4 245.7,1730.4 265.1,1724.8 278.7,1720.4 288.4,1716.7 296.2,1713.3 304.0,1709.1 309.8,1705.2 317.6,1698.9 325.4,1690.9 333.1,1680.9 339.0,1672.0 346.7,1658.2 354.5,1642.2 362.3,1624.5 379.8,1582.5 385.6,1569.7 389.5,1562.1 395.3,1552.7 399.2,1548.1 403.1,1545.1 405.0,1544.1 407.0,1543.6 408.9,1543.6 410.8,1544.2 412.8,1545.3 416.7,1549.2 420.6,1554.9 424.4,1562.1 430.3,1574.9 451.6,1626.9 459.4,1643.3 467.2,1657.2 475.0,1668.6 482.7,1677.4 490.5,1684.1 494.4,1686.8 500.2,1690.0 506.0,1692.6 511.9,1694.6 519.6,1696.7 527.4,1698.3 566.3,1703.9 612.9,1711.5 647.9,1716.1 661.5,1718.4 665.4,1719.5 677.0,1724.3 680.9,1725.5 702.3,1729.7 723.6,1733.5 748.9,1737.2 774.2,1740.1 797.5,1741.8 820.8,1742.6" stroke="#80504a"/>
<path d="M133.0,1742.7 146.6,1746.0 154.4,1747.3 162.2,1748.1 177.7,1748.4 189.4,1746.9 199.1,1744.7 218.5,1739.5 247.6,1730.7 296.2,1716.9 311.8,1711.3 323.4,1705.6 331.2,1700.6 339.0,1694.4 346.7,1686.8 354.5,1677.6 362.3,1666.9 372.0,1651.4 397.2,1605.1 407.0,1589.3 412.8,1581.8 416.7,1577.9 420.6,1575.1 422.5,1574.2 426.4,1573.1 430.3,1573.6 434.2,1575.7 438.0,1579.3 441.9,1584.1 449.7,1596.5 473.0,1639.4 480.8,1651.7 488.6,1662.0 496.3,1670.5 504.1,1677.1 511.9,1682.2 519.6,1686.0 531.3,1689.9 544.9,1693.0 611.0,1705.3 647.9,1710.5 661.5,1712.9 665.4,1714.2 677.0,1719.8 680.9,1721.1 704.2,1726.3 725.6,1730.5 750.8,1734.5 774.2,1737.4 797.5,1739.3 820.8,1740.1" stroke="#2b6fe6"/>
<path d="M133.0,1742.0 148.6,1745.4 164.1,1747.1 177.7,1747.3 183.5,1746.9 191.3,1745.8 218.5,1739.3 278.7,1722.6 307.9,1715.1 321.5,1710.9 333.1,1706.0 342.8,1700.6 350.6,1695.3 358.4,1688.8 366.2,1681.2 373.9,1672.3 381.7,1662.2 389.5,1651.2 408.9,1622.0 418.6,1609.1 424.4,1602.8 430.3,1598.0 436.1,1595.2 440.0,1594.4 443.9,1594.9 447.8,1596.6 451.6,1599.5 455.5,1603.3 463.3,1613.1 478.8,1635.9 486.6,1646.7 494.4,1656.3 502.2,1664.4 508.0,1669.6 515.8,1675.3 523.5,1679.7 531.3,1683.1 539.1,1685.8 550.7,1688.8 599.3,1699.1 618.7,1702.7 647.9,1706.8 661.5,1709.3 665.4,1710.6 677.0,1716.8 680.9,1718.2 704.2,1723.8 727.5,1728.6 752.8,1732.9 776.1,1735.8 799.4,1737.7 820.8,1738.4" stroke="#f0443c"/>
<path d="M133.0,1741.2 148.6,1744.2 164.1,1745.8 179.6,1745.9 193.2,1744.3 214.6,1739.9 236.0,1734.7 286.5,1721.0 323.4,1712.9 335.1,1709.7 344.8,1706.3 354.5,1702.1 364.2,1696.8 373.9,1690.2 381.7,1683.9 389.5,1676.7 397.2,1668.7 426.4,1635.9 432.2,1630.1 438.0,1625.0 443.9,1621.0 447.8,1619.0 453.6,1617.2 457.5,1616.9 461.4,1617.4 465.2,1618.9 469.1,1621.2 473.0,1624.0 480.8,1631.0 504.1,1654.3 511.9,1661.0 517.7,1665.5 525.5,1670.6 533.2,1674.7 541.0,1678.1 548.8,1680.9 572.1,1687.6 603.2,1695.0 620.7,1698.3 647.9,1702.2 661.5,1704.8 665.4,1706.2 677.0,1713.0 680.9,1714.6 704.2,1720.6 727.5,1725.9 752.8,1730.5 776.1,1733.6 799.4,1735.6 820.8,1736.3" stroke="#505050"/>
<path d="M133.0,1739.8 148.6,1742.2 166.0,1743.6 181.6,1743.6 197.1,1742.0 212.7,1739.4 241.8,1733.5 278.7,1722.8 290.4,1719.9 340.9,1711.1 360.3,1706.8 370.0,1703.9 377.8,1701.2 385.6,1697.9 395.3,1693.1 412.8,1683.0 443.9,1662.9 457.5,1655.3 465.2,1652.1 471.1,1650.3 478.8,1648.8 484.7,1648.3 492.4,1649.0 502.2,1651.6 509.9,1654.5 531.3,1663.7 543.0,1668.4 568.2,1677.2 589.6,1683.7 603.2,1687.3 616.8,1690.4 626.5,1692.1 649.8,1695.4 661.5,1697.8 665.4,1699.4 675.1,1706.0 679.0,1708.2 694.5,1713.0 713.9,1718.3 743.1,1724.9 770.3,1729.4 795.5,1732.0 820.8,1733.0" stroke="#34aa6a"/>
</g>
<clipPath id="cp-e"><rect x="932.2" y="1215.3" width="681.8" height="555.6"/></clipPath>
<g clip-path="url(#cp-e)" fill="none" stroke-width="2.1" stroke-linejoin="round" stroke-linecap="round">
<path d="M934.5,1785.7 939.0,1769.8 943.6,1752.1 950.4,1723.3 957.2,1692.4 979.9,1584.3 991.3,1523.1 995.8,1501.7 998.1,1492.9 1000.4,1485.8 1007.2,1467.5 1009.5,1462.3 1011.7,1458.2 1014.0,1455.4 1016.3,1454.2 1018.6,1454.8 1020.8,1456.6 1023.1,1459.4 1032.2,1472.6 1045.8,1487.9 1052.7,1494.3 1068.6,1507.7 1082.2,1520.5 1107.2,1545.1 1143.6,1582.4 1159.5,1598.0 1193.6,1629.6 1204.9,1639.5 1211.7,1644.9 1218.6,1649.7 1225.4,1653.7 1229.9,1656.0 1243.6,1661.7 1259.5,1667.4 1275.4,1672.2 1295.8,1677.6 1339.0,1687.6 1386.7,1696.5 1402.6,1699.8 1475.4,1717.7 1529.9,1729.8 1534.5,1730.3 1550.4,1730.5 1614.0,1730.8" stroke="#80504a"/>
<path d="M941.3,1784.2 950.4,1749.1 973.1,1647.7 982.2,1610.9 989.0,1588.1 1000.4,1554.4 1007.2,1536.2 1011.7,1525.9 1016.3,1517.8 1018.6,1514.6 1020.8,1512.3 1023.1,1510.6 1029.9,1506.8 1036.7,1504.1 1052.7,1498.8 1057.2,1497.7 1061.7,1497.1 1066.3,1497.3 1070.8,1499.1 1082.2,1506.2 1091.3,1513.2 1104.9,1525.7 1114.0,1535.1 1125.4,1548.3 1152.6,1581.4 1161.7,1591.5 1168.6,1598.3 1198.1,1624.7 1216.3,1639.5 1225.4,1646.0 1232.2,1650.4 1241.3,1655.6 1248.1,1658.8 1257.2,1662.2 1266.3,1665.1 1286.7,1670.6 1339.0,1682.0 1391.3,1692.5 1423.1,1699.5 1477.6,1712.4 1507.2,1720.7 1520.8,1723.8 1529.9,1725.2 1534.5,1725.6 1614.0,1725.6" stroke="#d4a418"/>
<path d="M948.1,1782.4 966.3,1721.1 984.5,1664.6 993.6,1638.9 1000.4,1621.1 1007.2,1604.7 1014.0,1590.0 1023.1,1572.6 1032.2,1556.6 1039.0,1546.2 1043.6,1540.4 1048.1,1535.8 1050.4,1534.0 1061.7,1526.4 1068.6,1523.1 1073.1,1521.7 1075.4,1521.4 1079.9,1521.7 1084.5,1523.3 1093.6,1528.0 1098.1,1530.9 1104.9,1536.4 1120.8,1550.8 1164.0,1587.7 1175.4,1596.3 1214.0,1623.8 1229.9,1634.2 1245.8,1643.6 1259.5,1650.4 1273.1,1656.0 1293.6,1662.4 1316.3,1668.1 1379.9,1682.1 1454.9,1697.8 1500.4,1708.9 1520.8,1713.1 1532.2,1715.0 1536.7,1715.3 1614.0,1715.8" stroke="#20c8d4"/>
<path d="M954.9,1778.5 957.2,1770.9 959.5,1765.8 964.0,1756.9 968.6,1749.5 973.1,1743.3 977.7,1737.9 991.3,1723.7 995.8,1718.4 1007.2,1702.5 1023.1,1678.5 1043.6,1646.6 1050.4,1635.0 1064.0,1610.2 1068.6,1602.6 1073.1,1595.9 1077.7,1590.4 1079.9,1588.1 1093.6,1576.3 1098.1,1573.0 1102.7,1570.5 1107.2,1568.9 1109.5,1568.5 1114.0,1568.6 1120.8,1570.5 1145.8,1581.9 1177.6,1597.7 1223.1,1623.6 1239.0,1632.0 1248.1,1636.3 1257.2,1640.1 1266.3,1643.4 1273.1,1645.3 1291.3,1649.4 1309.5,1652.7 1368.6,1661.2 1386.7,1664.1 1402.6,1667.1 1423.1,1671.6 1450.4,1678.4 1477.6,1686.1 1486.7,1689.4 1509.5,1699.4 1516.3,1701.6 1520.8,1702.6 1534.5,1703.6 1559.5,1703.6 1589.0,1703.2 1614.0,1702.2" stroke="#34aa6a"/>
<path d="M957.2,1788.7 959.5,1778.0 961.7,1770.9 966.3,1763.2 970.8,1757.1 975.4,1752.1 979.9,1748.0 995.8,1736.6 1011.7,1723.3 1043.6,1698.3 1054.9,1688.3 1079.9,1665.0 1089.0,1657.2 1095.8,1652.0 1114.0,1640.6 1127.6,1633.1 1139.0,1628.4 1148.1,1626.2 1164.0,1624.2 1179.9,1624.1 1204.9,1625.6 1234.5,1628.9 1245.8,1631.7 1275.4,1642.2 1282.2,1644.3 1289.0,1645.9 1307.2,1648.0 1350.4,1650.9 1359.5,1651.9 1368.6,1653.6 1459.5,1678.8 1500.4,1688.8 1514.0,1691.5 1520.8,1692.1 1527.6,1692.2 1568.5,1689.9 1614.0,1688.4" stroke="#b27af0"/>
<path d="M959.5,1788.6 961.7,1777.8 964.0,1770.9 968.6,1763.5 973.1,1757.5 977.7,1752.5 984.5,1746.7 991.3,1742.3 1002.7,1736.1 1014.0,1731.1 1034.5,1723.9 1045.8,1719.3 1104.9,1692.8 1118.6,1687.0 1132.2,1681.8 1143.6,1677.9 1184.5,1665.2 1200.4,1661.1 1216.3,1657.8 1225.4,1656.5 1239.0,1655.1 1268.6,1653.3 1318.6,1652.6 1348.1,1653.7 1384.5,1656.4 1404.9,1659.4 1461.7,1671.5 1500.4,1682.0 1509.5,1683.8 1516.3,1684.7 1527.6,1685.0 1541.3,1683.9 1568.5,1682.5 1614.0,1680.8" stroke="#f0443c"/>
<path d="M961.7,1788.6 964.0,1777.9 966.3,1770.9 970.8,1763.4 975.4,1757.3 979.9,1752.3 986.7,1746.5 993.6,1742.2 1004.9,1736.7 1014.0,1733.3 1023.1,1730.7 1052.7,1723.0 1077.7,1717.2 1120.8,1708.2 1186.7,1696.1 1209.5,1692.6 1227.6,1690.5 1284.5,1687.0 1304.9,1685.1 1323.1,1682.2 1368.6,1673.6 1400.4,1667.0 1409.5,1665.7 1418.6,1665.0 1429.9,1665.1 1441.3,1666.0 1454.9,1667.8 1477.6,1671.5 1486.7,1673.5 1509.5,1680.3 1516.3,1681.7 1520.8,1682.3 1527.6,1682.3 1541.3,1681.0 1577.6,1678.7 1614.0,1677.3" stroke="#505050"/>
<path d="M961.7,1788.6 964.0,1777.9 966.3,1770.9 970.8,1763.4 977.7,1754.7 984.5,1748.2 991.3,1743.5 1002.7,1737.7 1011.7,1734.1 1023.1,1730.7 1070.8,1718.1 1100.4,1710.9 1132.2,1703.7 1191.3,1691.5 1279.9,1675.2 1325.4,1665.1 1343.6,1661.6 1359.5,1659.4 1373.1,1658.3 1386.7,1658.3 1400.4,1659.4 1418.6,1662.1 1459.5,1669.3 1500.4,1678.9 1509.5,1680.5 1518.5,1681.5 1527.6,1681.6 1541.3,1680.2 1570.8,1678.4 1614.0,1676.6" stroke="#2b6fe6"/>
</g>
<clipPath id="cp-f"><rect x="1725.9" y="1215.2" width="682.0" height="556.0"/></clipPath>
<g clip-path="url(#cp-f)" fill="none" stroke-width="2.1" stroke-linejoin="round" stroke-linecap="round">
<path d="M1719.1,1702.1 1725.9,1690.1 1732.7,1679.2 1739.5,1670.2 1743.0,1666.6 1746.4,1663.7 1749.8,1661.5 1753.2,1660.1 1756.6,1659.5 1760.0,1659.4 1763.4,1659.8 1770.2,1661.7 1777.1,1665.1 1783.9,1669.6 1794.1,1677.9 1821.4,1703.4 1831.6,1712.3 1845.2,1722.8 1855.5,1729.3 1865.7,1734.6 1879.4,1740.1 1893.0,1744.0 1910.0,1747.1 1930.5,1749.3 1954.4,1750.6 1988.5,1751.7 2036.2,1752.6 2186.2,1753.8 2414.7,1754.5" stroke="#505050"/>
<path d="M1719.1,1703.5 1736.1,1660.6 1743.0,1645.6 1749.8,1633.2 1753.2,1628.2 1756.6,1624.0 1760.0,1620.9 1763.4,1618.8 1766.8,1617.8 1770.2,1617.5 1773.6,1617.8 1777.1,1618.7 1780.5,1620.2 1787.3,1624.5 1794.1,1630.4 1800.9,1637.5 1807.7,1645.6 1831.6,1676.3 1845.2,1692.8 1858.9,1707.2 1869.1,1716.2 1879.4,1723.7 1886.2,1727.9 1893.0,1731.5 1899.8,1734.5 1906.6,1737.0 1913.5,1739.1 1923.7,1741.6 1940.7,1744.3 1961.2,1746.2 1991.9,1747.8 2036.2,1749.1 2097.6,1750.1 2216.9,1751.3 2414.7,1752.8" stroke="#6cbc22"/>
<path d="M1719.1,1762.2 1725.9,1746.8 1732.7,1728.9 1756.6,1657.4 1763.4,1638.3 1770.2,1621.6 1777.1,1608.1 1780.5,1602.8 1783.9,1598.5 1787.3,1595.4 1790.7,1593.5 1794.1,1592.7 1797.5,1592.6 1800.9,1593.1 1804.3,1594.3 1807.7,1596.0 1814.6,1601.0 1821.4,1607.8 1828.2,1616.0 1835.0,1625.1 1862.3,1664.9 1872.5,1678.9 1886.2,1695.5 1896.4,1706.0 1903.2,1712.1 1910.0,1717.4 1916.9,1722.1 1923.7,1726.0 1930.5,1729.4 1937.3,1732.2 1951.0,1736.5 1968.0,1739.9 1988.5,1742.3 2015.8,1744.3 2049.8,1745.6 2104.4,1746.9 2237.4,1749.0 2414.7,1751.0" stroke="#74a4e0"/>
<path d="M1719.1,1774.5 1725.9,1774.5 1732.7,1761.8 1736.1,1754.2 1743.0,1736.6 1749.8,1716.1 1756.6,1693.5 1780.5,1609.1 1787.3,1587.3 1794.1,1568.4 1797.5,1560.3 1800.9,1553.3 1804.3,1547.4 1807.7,1542.9 1811.2,1539.6 1814.6,1537.8 1818.0,1537.2 1821.4,1537.4 1824.8,1538.4 1828.2,1540.1 1831.6,1542.5 1838.4,1549.2 1845.2,1558.0 1852.1,1568.5 1858.9,1580.3 1886.2,1631.7 1899.8,1655.7 1906.6,1666.7 1913.5,1676.7 1923.7,1690.1 1933.9,1701.3 1940.7,1707.6 1947.6,1713.1 1954.4,1717.7 1961.2,1721.7 1968.0,1725.0 1978.2,1729.1 1985.1,1731.2 1995.3,1733.8 2012.3,1736.9 2036.2,1739.5 2066.9,1741.4 2114.6,1743.1 2240.8,1746.1 2414.7,1749.0" stroke="#ff7b1c"/>
<path d="M1719.1,1774.5 1732.7,1774.5 1739.5,1762.6 1743.0,1755.4 1749.8,1738.8 1760.0,1708.9 1770.2,1674.4 1794.1,1589.1 1800.9,1567.0 1807.7,1547.7 1814.6,1532.0 1818.0,1525.8 1821.4,1520.9 1824.8,1517.3 1828.2,1515.1 1831.6,1514.3 1835.0,1514.3 1838.4,1515.1 1841.8,1516.7 1845.2,1519.0 1848.7,1522.0 1852.1,1525.6 1855.5,1529.8 1862.3,1539.7 1869.1,1551.2 1875.9,1563.9 1903.2,1618.5 1913.5,1637.9 1927.1,1661.1 1933.9,1671.3 1940.7,1680.6 1951.0,1692.7 1957.8,1699.5 1964.6,1705.5 1971.4,1710.7 1978.2,1715.1 1985.1,1718.9 1995.3,1723.6 2002.1,1726.1 2012.3,1729.2 2029.4,1732.8 2053.3,1735.8 2080.5,1737.8 2121.5,1739.7 2244.2,1743.5 2414.7,1747.2" stroke="#9c9c20"/>
<path d="M1719.1,1774.5 1736.1,1774.5 1743.0,1766.5 1749.8,1757.0 1756.6,1745.8 1763.4,1732.9 1773.6,1710.5 1780.5,1693.3 1787.3,1674.5 1800.9,1632.4 1824.8,1553.2 1831.6,1532.7 1838.4,1514.8 1841.8,1507.2 1845.2,1500.6 1848.7,1495.2 1852.1,1491.0 1855.5,1488.1 1858.9,1486.5 1862.3,1486.3 1865.7,1486.9 1869.1,1488.2 1872.5,1490.3 1875.9,1493.1 1882.8,1500.6 1886.2,1505.2 1893.0,1516.0 1899.8,1528.3 1906.6,1541.9 1933.9,1600.1 1944.1,1620.9 1957.8,1645.9 1964.6,1657.1 1971.4,1667.3 1978.2,1676.6 1985.1,1684.8 1991.9,1692.2 1998.7,1698.7 2005.5,1704.4 2012.3,1709.3 2019.2,1713.5 2026.0,1717.1 2032.8,1720.1 2043.0,1723.8 2049.8,1725.7 2060.1,1728.1 2080.5,1731.4 2107.8,1734.0 2152.2,1736.4 2247.6,1740.5 2414.7,1745.2" stroke="#80504a"/>
<path d="M1719.1,1774.5 1739.5,1774.5 1743.0,1771.4 1749.8,1764.6 1756.6,1757.0 1766.8,1744.1 1777.1,1729.2 1787.3,1711.6 1794.1,1698.1 1800.9,1683.0 1807.7,1666.1 1814.6,1647.6 1824.8,1617.1 1848.7,1540.7 1855.5,1520.4 1862.3,1502.5 1869.1,1487.7 1872.5,1481.8 1875.9,1476.9 1879.4,1473.3 1882.8,1470.9 1886.2,1469.7 1889.6,1469.7 1893.0,1470.5 1896.4,1472.0 1899.8,1474.2 1903.2,1477.0 1906.6,1480.5 1910.0,1484.6 1916.9,1494.3 1923.7,1505.8 1933.9,1525.5 1964.6,1590.8 1978.2,1618.2 1991.9,1642.6 1998.7,1653.6 2005.5,1663.6 2015.8,1676.9 2022.6,1684.6 2029.4,1691.3 2036.2,1697.3 2043.0,1702.4 2049.8,1706.9 2056.7,1710.7 2063.5,1714.0 2073.7,1718.0 2080.5,1720.2 2090.8,1722.9 2111.2,1726.6 2135.1,1729.3 2186.2,1732.9 2251.0,1736.5 2315.8,1739.1 2414.7,1742.5" stroke="#20c8d4"/>
<path d="M1719.1,1774.5 1743.0,1774.5 1753.2,1766.2 1770.2,1751.3 1780.5,1742.1 1790.7,1732.0 1797.5,1724.5 1804.3,1716.0 1814.6,1700.9 1824.8,1682.5 1831.6,1668.1 1838.4,1651.9 1845.2,1634.1 1858.9,1594.2 1886.2,1508.3 1896.4,1480.5 1903.2,1465.4 1906.6,1459.2 1910.0,1454.0 1913.5,1449.9 1916.9,1447.0 1920.3,1445.4 1923.7,1444.9 1927.1,1445.3 1930.5,1446.4 1933.9,1448.2 1937.3,1450.6 1940.7,1453.7 1947.6,1461.7 1951.0,1466.4 1957.8,1477.4 1964.6,1489.9 1974.8,1510.7 2002.1,1571.2 2015.8,1600.1 2029.4,1626.1 2036.2,1637.8 2043.0,1648.6 2053.3,1663.0 2060.1,1671.4 2066.9,1678.9 2073.7,1685.6 2080.5,1691.5 2087.4,1696.6 2094.2,1701.1 2101.0,1704.9 2111.2,1709.7 2118.1,1712.4 2128.3,1715.6 2138.5,1718.2 2152.2,1720.9 2179.4,1724.8 2216.9,1728.4 2264.7,1731.9 2329.5,1735.3 2414.7,1739.2" stroke="#d4a418"/>
<path d="M1719.1,1774.5 1743.0,1774.5 1746.4,1773.2 1794.1,1736.3 1804.3,1727.7 1811.2,1721.2 1818.0,1714.0 1828.2,1701.2 1838.4,1685.8 1845.2,1673.9 1852.1,1660.6 1862.3,1638.1 1875.9,1603.7 1906.6,1518.6 1913.5,1501.4 1920.3,1486.2 1927.1,1473.6 1930.5,1468.5 1933.9,1464.2 1937.3,1460.9 1940.7,1458.6 1944.1,1457.2 1947.6,1456.9 1951.0,1457.2 1954.4,1458.1 1957.8,1459.6 1961.2,1461.7 1964.6,1464.4 1971.4,1471.2 1974.8,1475.3 1981.7,1484.9 1988.5,1495.8 1998.7,1514.4 2029.4,1575.3 2043.0,1601.1 2056.7,1624.6 2070.3,1645.1 2080.5,1658.4 2087.4,1666.2 2094.2,1673.3 2101.0,1679.7 2107.8,1685.3 2114.6,1690.3 2121.5,1694.7 2128.3,1698.6 2138.5,1703.5 2148.7,1707.5 2159.0,1710.7 2179.4,1715.7 2206.7,1720.3 2237.4,1723.9 2274.9,1727.1 2332.9,1730.9 2414.7,1735.5" stroke="#34aa6a"/>
<path d="M1719.1,1774.5 1746.4,1774.5 1780.5,1750.2 1811.2,1730.9 1824.8,1721.5 1838.4,1710.4 1845.2,1704.0 1852.1,1697.0 1862.3,1685.0 1869.1,1675.9 1875.9,1665.9 1886.2,1649.0 1893.0,1636.5 1903.2,1616.3 1937.3,1544.3 1944.1,1531.3 1951.0,1519.8 1957.8,1510.1 1964.6,1502.7 1968.0,1500.0 1971.4,1498.0 1974.8,1496.7 1978.2,1496.1 1981.7,1496.2 1985.1,1496.7 1988.5,1497.6 1995.3,1500.8 2002.1,1505.7 2005.5,1508.7 2012.3,1515.6 2019.2,1523.6 2029.4,1537.2 2039.6,1552.1 2063.5,1588.6 2077.1,1608.7 2090.8,1627.4 2101.0,1640.1 2114.6,1655.2 2121.5,1661.9 2131.7,1670.9 2145.3,1681.0 2152.2,1685.4 2162.4,1691.3 2169.2,1694.7 2179.4,1699.1 2189.7,1702.9 2199.9,1706.1 2220.3,1711.2 2244.2,1715.5 2268.1,1718.6 2302.2,1721.9 2349.9,1725.7 2414.7,1730.2" stroke="#2b6fe6"/>
<path d="M1719.1,1774.5 1746.4,1774.5 1749.8,1773.4 1777.1,1754.7 1790.7,1746.1 1807.7,1736.8 1858.9,1710.6 1872.5,1702.7 1882.8,1695.7 1893.0,1687.7 1903.2,1678.4 1910.0,1671.4 1920.3,1659.9 1927.1,1651.5 1937.3,1638.1 1968.0,1595.3 1974.8,1586.6 1981.7,1578.7 1988.5,1571.9 1991.9,1569.0 1998.7,1564.3 2005.5,1561.1 2012.3,1559.5 2015.8,1559.3 2022.6,1559.8 2026.0,1560.4 2032.8,1562.4 2043.0,1567.1 2053.3,1573.5 2060.1,1578.6 2070.3,1587.2 2080.5,1596.5 2121.5,1635.5 2131.7,1644.4 2145.3,1655.5 2162.4,1668.0 2176.0,1676.7 2189.7,1684.2 2206.7,1692.1 2220.3,1697.3 2237.4,1702.6 2254.5,1706.8 2274.9,1710.7 2298.8,1714.0 2326.1,1717.1 2363.6,1720.6 2414.7,1724.9" stroke="#f0443c"/>
<path d="M1719.1,1774.5 1749.8,1774.5 1790.7,1747.4 1804.3,1739.5 1818.0,1732.4 1835.0,1724.6 1848.7,1719.4 1858.9,1716.0 1886.2,1708.5 1899.8,1704.4 1913.5,1699.5 1923.7,1695.2 1933.9,1690.3 1947.6,1682.4 1961.2,1673.4 1991.9,1652.1 2005.5,1643.7 2015.8,1638.0 2026.0,1633.0 2036.2,1629.1 2046.4,1626.5 2053.3,1625.6 2063.5,1625.6 2077.1,1627.1 2087.4,1629.4 2101.0,1633.6 2114.6,1638.8 2128.3,1644.7 2182.8,1670.7 2206.7,1681.1 2220.3,1686.4 2234.0,1691.2 2257.9,1698.2 2271.5,1701.4 2285.1,1704.2 2319.2,1709.7 2360.2,1714.7 2414.7,1720.1" stroke="#b27af0"/>
<path d="M1739.5,1774.5 1749.8,1763.4 1756.6,1757.3 1763.4,1752.8 1770.2,1749.1 1783.9,1743.1 1814.6,1731.7 1835.0,1722.8 1845.2,1719.5 1852.1,1718.2 1875.9,1717.2 1991.9,1714.8 2032.8,1713.3 2053.3,1711.5 2107.8,1705.0 2169.2,1696.7 2186.2,1695.1 2199.9,1694.6 2230.6,1694.8 2271.5,1696.0 2288.6,1696.7 2309.0,1698.2 2332.9,1700.6 2356.8,1703.5 2380.6,1707.1 2407.9,1711.7" stroke="#505050"/>
</g>
<clipPath id="cp-g"><rect x="136.9" y="2381.0" width="679.8" height="556.3"/></clipPath>
<g clip-path="url(#cp-g)" fill="none" stroke-width="2.1" stroke-linejoin="round" stroke-linecap="round">
<path d="M133.3,2937.3 140.5,2937.3 142.3,2934.0 147.8,2910.7 151.4,2898.1 153.2,2893.0 155.0,2888.7 158.7,2882.1 160.5,2879.6 164.1,2875.9 167.8,2873.5 171.4,2871.9 176.8,2870.3 182.3,2869.3 187.7,2869.6 202.2,2873.3 207.7,2873.2 211.3,2872.1 216.7,2869.2 222.2,2864.4 225.8,2859.7 227.6,2856.6 231.3,2849.0 234.9,2838.7 238.5,2825.1 244.0,2797.4 247.6,2773.6 251.2,2745.8 262.1,2649.2 265.7,2619.9 269.4,2597.2 271.2,2589.5 273.0,2584.5 274.8,2582.7 276.6,2583.7 278.4,2587.3 280.3,2593.2 283.9,2610.9 287.5,2634.3 296.6,2700.7 302.0,2737.3 307.5,2768.3 312.9,2793.0 316.6,2806.1 320.2,2816.9 323.8,2825.6 327.4,2832.6 331.1,2838.2 334.7,2842.7 340.2,2847.9 345.6,2851.8 351.0,2854.7 356.5,2857.2 363.7,2859.8 371.0,2861.9 443.6,2880.6 459.9,2884.3 474.4,2886.9 505.3,2890.9 541.6,2894.6 608.7,2900.5 665.0,2904.8 674.1,2906.0 694.0,2909.2 761.2,2915.9 819.2,2922.6" stroke="#d4a418"/>
<path d="M133.3,2937.3 140.5,2937.3 142.3,2934.3 147.8,2911.2 151.4,2898.7 153.2,2893.6 155.0,2889.3 158.7,2882.6 160.5,2880.2 164.1,2876.5 167.8,2874.1 171.4,2872.5 176.8,2871.0 182.3,2870.0 187.7,2870.3 198.6,2873.4 204.0,2874.5 207.7,2874.4 213.1,2872.8 216.7,2871.2 220.4,2869.0 225.8,2864.1 229.5,2859.3 231.3,2856.4 234.9,2849.0 238.5,2839.2 242.2,2826.4 247.6,2800.7 251.2,2778.8 254.9,2753.1 267.6,2648.2 271.2,2621.8 274.8,2602.1 276.6,2595.5 278.4,2591.6 280.3,2590.5 282.1,2591.8 283.9,2595.4 285.7,2601.1 289.3,2617.8 293.0,2639.5 303.9,2713.3 309.3,2746.6 314.7,2774.7 320.2,2797.1 323.8,2809.2 327.4,2819.1 331.1,2827.2 334.7,2833.8 338.3,2839.1 342.0,2843.4 347.4,2848.4 352.9,2852.2 358.3,2855.2 365.6,2858.2 385.5,2864.3 443.6,2880.1 461.7,2884.2 476.3,2886.7 507.1,2890.6 543.4,2894.3 608.7,2899.9 665.0,2904.2 674.1,2905.4 694.0,2908.6 761.2,2915.4 819.2,2922.1" stroke="#34aa6a"/>
<path d="M133.3,2937.3 140.5,2937.3 142.3,2934.7 147.8,2911.6 151.4,2899.2 153.2,2894.2 155.0,2889.8 158.7,2883.2 160.5,2880.7 164.1,2877.1 167.8,2874.6 171.4,2873.1 176.8,2871.6 182.3,2870.7 187.7,2871.0 200.4,2874.7 204.0,2875.4 209.5,2875.1 214.9,2873.5 218.6,2871.9 222.2,2869.9 227.6,2865.5 233.1,2858.8 236.7,2852.5 238.5,2848.6 242.2,2839.1 244.0,2833.4 247.6,2819.7 251.2,2802.7 254.9,2782.3 260.3,2745.5 273.0,2647.3 276.6,2624.1 280.3,2607.5 282.1,2602.5 283.9,2599.9 285.7,2599.9 287.5,2601.9 289.3,2605.9 291.2,2611.7 294.8,2627.9 298.4,2648.4 309.3,2717.3 314.7,2748.6 320.2,2775.2 325.6,2796.8 329.3,2808.6 332.9,2818.4 336.5,2826.5 340.2,2833.2 343.8,2838.6 349.2,2844.9 352.9,2848.2 358.3,2852.1 365.6,2856.0 372.8,2858.9 385.5,2863.1 407.3,2869.6 429.1,2875.7 447.2,2880.5 461.7,2883.7 476.3,2886.3 505.3,2890.0 541.6,2893.7 606.9,2899.3 666.8,2903.9 694.0,2908.1 761.2,2914.9 819.2,2921.7" stroke="#2b6fe6"/>
<path d="M133.3,2937.3 140.5,2937.3 142.3,2935.0 147.8,2912.2 151.4,2899.8 153.2,2894.7 155.0,2890.4 158.7,2883.8 160.5,2881.3 164.1,2877.6 167.8,2875.2 171.4,2873.7 176.8,2872.2 182.3,2871.3 187.7,2871.7 200.4,2875.5 204.0,2876.2 209.5,2876.1 216.7,2874.2 224.0,2870.7 227.6,2868.3 231.3,2865.1 236.7,2858.5 242.2,2848.8 245.8,2839.9 249.4,2828.6 253.0,2814.5 256.7,2797.3 260.3,2777.1 263.9,2753.9 276.6,2662.5 280.3,2639.5 283.9,2621.7 285.7,2615.4 287.5,2611.3 289.3,2609.5 291.2,2609.8 293.0,2612.0 294.8,2615.9 298.4,2628.3 303.9,2655.3 314.7,2719.2 320.2,2748.8 327.4,2781.8 332.9,2801.4 336.5,2812.1 340.2,2821.1 343.8,2828.6 347.4,2834.8 351.0,2839.9 356.5,2845.9 360.1,2849.0 365.6,2852.8 372.8,2856.6 381.9,2860.2 396.4,2865.2 416.4,2871.4 449.0,2880.4 463.6,2883.6 476.3,2885.8 505.3,2889.6 541.6,2893.3 606.9,2898.8 666.8,2903.3 694.0,2907.5 761.2,2914.4 819.2,2921.3" stroke="#20c8d4"/>
<path d="M133.3,2937.3 140.5,2937.3 142.3,2935.7 147.8,2913.1 153.2,2895.8 155.0,2891.5 158.7,2884.9 160.5,2882.4 164.1,2878.7 167.8,2876.3 171.4,2874.8 176.8,2873.3 182.3,2872.5 187.7,2872.9 200.4,2876.8 205.9,2877.8 209.5,2877.6 213.1,2877.0 220.4,2875.0 225.8,2872.7 229.5,2870.8 233.1,2868.5 236.7,2865.6 240.3,2861.9 244.0,2857.4 249.4,2848.3 254.9,2835.4 258.5,2824.2 262.1,2810.6 265.7,2794.4 273.0,2754.9 285.7,2673.3 291.2,2643.9 294.8,2630.5 296.6,2626.3 298.4,2624.0 300.2,2623.6 302.0,2624.8 303.9,2627.5 305.7,2631.5 309.3,2643.1 314.7,2667.2 327.4,2732.8 332.9,2758.4 340.2,2787.3 345.6,2804.8 349.2,2814.4 352.9,2822.7 356.5,2829.7 361.9,2838.1 365.6,2842.6 371.0,2847.9 376.4,2852.0 381.9,2855.4 389.1,2859.0 400.0,2863.6 412.7,2868.2 427.3,2872.9 441.8,2877.2 454.5,2880.4 467.2,2883.2 478.1,2885.0 507.1,2888.8 541.6,2892.3 605.1,2897.5 666.8,2902.1 694.0,2906.4 763.0,2913.6 819.2,2920.5" stroke="#505050"/>
<path d="M133.3,2937.3 140.5,2937.3 142.3,2936.3 147.8,2914.0 153.2,2896.8 155.0,2892.5 158.7,2885.9 162.3,2881.4 165.9,2878.4 169.6,2876.5 173.2,2875.2 182.3,2873.5 187.7,2874.0 200.4,2878.0 205.9,2879.0 213.1,2878.5 220.4,2876.7 225.8,2874.9 231.3,2872.5 236.7,2869.5 240.3,2867.0 244.0,2864.1 247.6,2860.5 251.2,2856.2 254.9,2850.8 260.3,2840.2 263.9,2831.1 267.6,2820.1 271.2,2807.1 274.8,2792.0 280.3,2765.2 293.0,2692.1 298.4,2663.8 302.0,2649.4 303.9,2644.0 305.7,2640.1 307.5,2637.8 309.3,2637.2 311.1,2637.9 312.9,2639.9 314.7,2643.1 316.6,2647.3 320.2,2658.5 325.6,2680.4 338.3,2738.7 343.8,2761.8 351.0,2788.3 358.3,2809.4 361.9,2818.0 365.6,2825.4 369.2,2831.8 374.6,2839.6 378.3,2843.8 383.7,2849.1 389.1,2853.3 396.4,2857.9 405.5,2862.5 414.6,2866.3 425.4,2870.4 438.1,2874.5 450.8,2878.1 461.7,2880.8 472.6,2883.0 483.5,2884.8 510.7,2888.2 545.2,2891.6 605.1,2896.5 666.8,2901.0 694.0,2905.4 763.0,2912.6 819.2,2919.6" stroke="#6cbc22"/>
<path d="M133.3,2937.3 140.5,2937.3 142.3,2936.8 147.8,2914.9 153.2,2897.9 155.0,2893.6 158.7,2887.0 162.3,2882.4 165.9,2879.5 169.6,2877.5 173.2,2876.3 182.3,2874.6 187.7,2875.1 200.4,2879.1 205.9,2880.2 213.1,2879.8 222.2,2877.8 229.5,2875.4 234.9,2873.1 240.3,2870.4 245.8,2867.1 251.2,2863.1 254.9,2859.7 258.5,2855.7 262.1,2850.9 267.6,2841.6 271.2,2833.8 276.6,2819.0 280.3,2806.8 283.9,2792.7 289.3,2768.3 302.0,2703.5 307.5,2678.7 311.1,2665.9 312.9,2661.1 314.7,2657.4 316.6,2655.1 318.4,2654.2 320.2,2654.5 322.0,2655.8 323.8,2658.1 327.4,2665.4 331.1,2675.7 336.5,2695.1 349.2,2746.2 356.5,2773.1 363.7,2795.9 371.0,2814.3 374.6,2822.0 380.1,2831.7 383.7,2837.1 389.1,2844.0 394.6,2849.5 400.0,2854.1 405.5,2857.9 412.7,2862.1 420.0,2865.6 429.1,2869.4 440.0,2873.3 450.8,2876.6 470.8,2881.5 492.6,2885.0 519.8,2888.2 552.5,2891.3 666.8,2899.9 694.0,2904.3 763.0,2911.7 819.2,2918.8" stroke="#74a4e0"/>
<path d="M133.3,2937.3 142.3,2937.3 147.8,2915.8 153.2,2898.8 155.0,2894.6 158.7,2887.9 162.3,2883.4 165.9,2880.4 169.6,2878.5 173.2,2877.2 182.3,2875.6 187.7,2876.1 200.4,2880.1 205.9,2881.2 213.1,2880.8 224.0,2878.5 231.3,2876.2 238.5,2873.3 245.8,2869.8 251.2,2866.8 256.7,2863.1 260.3,2860.2 265.7,2854.8 269.4,2850.4 274.8,2842.1 278.4,2835.0 283.9,2821.6 287.5,2810.7 291.2,2798.2 296.6,2776.8 311.1,2712.0 316.6,2690.6 320.2,2679.6 322.0,2675.3 323.8,2672.1 325.6,2670.0 327.4,2669.0 329.3,2669.1 331.1,2670.0 332.9,2671.7 336.5,2677.4 340.2,2685.8 345.6,2701.8 361.9,2758.8 369.2,2782.0 376.4,2801.9 380.1,2810.5 385.5,2821.9 389.1,2828.5 394.6,2837.0 398.2,2841.8 403.7,2848.0 409.1,2853.2 414.6,2857.5 420.0,2861.1 427.3,2865.2 441.8,2871.5 450.8,2874.6 459.9,2877.3 476.3,2881.0 499.8,2884.7 527.1,2887.9 561.5,2891.0 666.8,2898.7 674.1,2899.7 694.0,2903.2 763.0,2910.7 819.2,2918.0" stroke="#ff7b1c"/>
<path d="M133.3,2937.3 142.3,2937.3 149.6,2910.7 153.2,2900.1 155.0,2895.9 156.9,2892.2 160.5,2886.7 164.1,2883.0 167.8,2880.6 173.2,2878.4 182.3,2876.8 187.7,2877.3 200.4,2881.3 205.9,2882.4 213.1,2882.1 224.0,2880.0 231.3,2877.8 240.3,2874.5 249.4,2870.7 258.5,2866.3 263.9,2863.1 269.4,2859.5 274.8,2854.9 278.4,2851.0 283.9,2843.6 287.5,2837.4 293.0,2825.9 296.6,2816.9 300.2,2806.6 305.7,2789.2 322.0,2729.4 327.4,2711.6 331.1,2701.9 334.7,2694.8 336.5,2692.4 338.3,2690.8 340.2,2690.1 342.0,2690.2 343.8,2690.9 347.4,2694.0 351.0,2699.4 354.7,2706.6 361.9,2724.8 376.4,2766.7 385.5,2791.1 394.6,2812.0 398.2,2819.2 403.7,2828.9 407.3,2834.6 412.7,2842.1 416.4,2846.5 421.8,2852.2 427.3,2857.0 432.7,2861.0 438.1,2864.5 445.4,2868.4 458.1,2873.6 470.8,2877.4 487.1,2880.8 508.9,2884.1 534.3,2887.0 568.8,2890.1 666.8,2897.1 674.1,2898.1 694.0,2901.7 764.8,2909.6 819.2,2916.9" stroke="#f0443c"/>
<path d="M133.3,2937.3 142.3,2937.3 149.6,2911.9 153.2,2901.5 155.0,2897.2 156.9,2893.6 160.5,2888.1 164.1,2884.4 167.8,2881.9 173.2,2879.8 182.3,2878.2 187.7,2878.6 200.4,2882.5 205.9,2883.6 213.1,2883.4 224.0,2881.4 233.1,2878.8 242.2,2875.7 260.3,2868.8 271.2,2864.3 276.6,2861.6 280.3,2859.2 287.5,2853.1 293.0,2846.8 298.4,2838.7 303.9,2828.8 309.3,2817.0 318.4,2793.2 334.7,2744.8 338.3,2735.1 342.0,2726.6 345.6,2719.8 349.2,2715.1 351.0,2713.6 352.9,2712.8 354.7,2712.6 358.3,2713.6 361.9,2716.4 365.6,2720.7 371.0,2729.7 378.3,2744.8 394.6,2783.5 403.7,2803.5 412.7,2820.9 421.8,2835.3 430.9,2846.9 436.3,2852.7 441.8,2857.6 447.2,2861.8 452.7,2865.3 463.6,2870.9 474.4,2874.9 487.1,2878.2 501.7,2880.9 519.8,2883.5 543.4,2886.1 574.3,2888.9 666.8,2895.4 674.1,2896.4 694.0,2900.2 764.8,2908.2 819.2,2915.7" stroke="#80504a"/>
<path d="M133.3,2937.3 142.3,2937.3 144.2,2933.5 147.8,2920.5 151.4,2909.1 153.2,2904.2 156.9,2896.5 158.7,2893.4 162.3,2888.8 165.9,2885.7 169.6,2883.7 173.2,2882.4 176.8,2881.6 184.1,2880.8 189.5,2881.6 200.4,2884.9 205.9,2886.0 213.1,2885.8 222.2,2884.4 233.1,2881.6 260.3,2873.2 280.3,2868.7 287.5,2866.6 293.0,2864.5 298.4,2861.8 303.9,2858.4 307.5,2855.7 314.7,2849.0 320.2,2842.7 325.6,2835.3 331.1,2826.7 340.2,2810.1 360.1,2769.1 367.4,2756.3 371.0,2751.1 374.6,2747.1 378.3,2744.4 381.9,2743.2 385.5,2743.4 387.3,2744.0 391.0,2745.7 396.4,2750.1 401.9,2756.2 410.9,2769.1 432.7,2805.2 441.8,2819.2 450.8,2831.8 459.9,2842.7 469.0,2851.7 478.1,2858.9 489.0,2865.6 499.8,2870.6 508.9,2873.8 519.8,2876.7 532.5,2879.2 547.0,2881.4 567.0,2883.8 588.8,2885.8 666.8,2891.5 674.1,2892.5 686.8,2895.3 694.0,2896.5 764.8,2905.1 819.2,2913.0" stroke="#20c8d4"/>
<path d="M133.3,2937.3 142.3,2937.3 144.2,2934.6 147.8,2921.9 151.4,2910.7 153.2,2905.9 156.9,2898.2 158.7,2895.2 162.3,2890.6 165.9,2887.5 169.6,2885.4 173.2,2884.1 176.8,2883.2 184.1,2882.5 189.5,2883.3 200.4,2886.3 205.9,2887.4 213.1,2887.3 220.4,2886.3 231.3,2883.7 253.0,2877.1 262.1,2874.8 269.4,2873.3 285.7,2870.9 296.6,2868.4 307.5,2864.7 312.9,2862.1 318.4,2858.9 325.6,2853.6 331.1,2848.7 336.5,2843.1 343.8,2834.2 354.7,2818.3 376.4,2782.8 383.7,2772.8 389.1,2767.1 392.8,2764.4 396.4,2762.6 400.0,2762.0 405.5,2762.9 410.9,2765.2 416.4,2768.9 421.8,2773.7 427.3,2779.5 432.7,2785.9 454.5,2813.8 463.6,2824.8 474.4,2836.7 483.5,2845.2 492.6,2852.6 503.5,2859.8 514.4,2865.6 525.3,2870.1 534.3,2873.0 545.2,2875.8 557.9,2878.4 570.6,2880.4 605.1,2884.1 655.9,2887.8 668.6,2889.1 694.0,2894.1 766.6,2903.3 819.2,2911.3" stroke="#d4a418"/>
<path d="M133.3,2937.3 142.3,2937.3 144.2,2936.1 151.4,2913.2 153.2,2908.5 156.9,2900.9 160.5,2895.4 164.1,2891.5 167.8,2889.0 171.4,2887.3 176.8,2885.8 184.1,2885.0 189.5,2885.7 200.4,2888.5 205.9,2889.5 211.3,2889.5 218.6,2888.7 229.5,2886.4 253.0,2879.6 263.9,2877.0 271.2,2875.9 296.6,2873.2 312.9,2870.4 325.6,2866.9 332.9,2864.1 338.3,2861.5 345.6,2857.4 351.0,2853.7 356.5,2849.5 363.7,2843.0 374.6,2831.6 400.0,2802.1 409.1,2793.2 414.6,2789.0 418.2,2786.8 423.6,2784.8 427.3,2784.2 432.7,2784.7 440.0,2786.7 447.2,2790.1 454.5,2794.6 465.4,2802.9 501.7,2833.6 514.4,2843.1 525.3,2850.3 534.3,2855.5 545.2,2860.9 556.1,2865.4 567.0,2869.2 583.3,2873.6 603.3,2877.4 623.2,2880.1 668.6,2884.5 674.1,2885.5 686.8,2888.7 694.0,2890.1 768.4,2900.3 819.2,2908.5" stroke="#9c9c20"/>
<path d="M133.3,2937.3 144.2,2937.3 151.4,2915.6 156.9,2903.6 158.7,2900.6 162.3,2896.0 165.9,2892.8 169.6,2890.7 173.2,2889.3 176.8,2888.4 184.1,2887.6 189.5,2888.2 200.4,2890.7 205.9,2891.6 211.3,2891.6 216.7,2891.1 229.5,2888.6 253.0,2881.8 263.9,2879.3 271.2,2878.2 302.0,2875.7 320.2,2873.6 336.5,2870.7 349.2,2867.2 358.3,2863.8 365.6,2860.5 372.8,2856.5 381.9,2850.7 394.6,2841.2 423.6,2816.3 430.9,2810.5 436.3,2806.7 441.8,2803.5 447.2,2801.1 452.7,2799.5 456.3,2799.1 463.6,2799.4 470.8,2800.7 478.1,2802.9 487.1,2806.6 501.7,2814.3 539.8,2837.7 559.7,2848.7 570.6,2854.1 581.5,2858.7 592.4,2862.8 603.3,2866.2 616.0,2869.6 628.7,2872.3 670.4,2879.1 686.8,2883.7 695.8,2885.7 772.1,2897.3 819.2,2905.5" stroke="#34aa6a"/>
<path d="M133.3,2937.3 144.2,2937.3 146.0,2933.3 149.6,2922.8 153.2,2913.6 155.0,2909.7 158.7,2903.3 162.3,2898.7 165.9,2895.5 169.6,2893.4 173.2,2891.9 180.5,2890.5 185.9,2890.3 191.3,2891.0 204.0,2893.5 209.5,2893.8 214.9,2893.5 227.6,2891.2 254.9,2883.6 267.6,2881.0 334.7,2875.6 352.9,2873.2 367.4,2870.3 376.4,2867.8 387.3,2864.3 398.2,2860.1 407.3,2856.0 423.6,2847.4 454.5,2829.0 467.2,2822.7 472.6,2820.6 478.1,2818.9 487.1,2817.5 494.4,2817.5 503.5,2818.5 510.7,2819.9 519.8,2822.3 528.9,2825.4 539.8,2829.7 585.1,2849.6 606.9,2857.6 619.6,2861.6 632.3,2865.0 670.4,2873.4 690.4,2880.0 710.4,2884.0 777.5,2895.2 819.2,2903.0" stroke="#2b6fe6"/>
<path d="M133.3,2937.3 146.0,2937.3 153.2,2920.8 156.9,2914.1 160.5,2909.0 164.1,2905.2 167.8,2902.6 171.4,2900.8 176.8,2899.2 182.3,2898.4 185.9,2898.2 205.9,2900.2 214.9,2899.9 227.6,2897.7 256.7,2889.5 263.9,2887.8 271.2,2886.7 309.3,2883.7 412.7,2877.6 432.7,2875.9 449.0,2873.8 469.0,2870.2 487.1,2865.6 503.5,2860.4 538.0,2848.2 554.3,2843.3 568.8,2840.3 583.3,2838.7 597.8,2838.6 612.4,2839.8 628.7,2842.5 646.8,2846.4 659.5,2849.6 668.6,2852.4 674.1,2854.5 686.8,2861.0 692.2,2863.3 714.0,2870.0 741.2,2877.1 819.2,2895.0" stroke="#b27af0"/>
<path d="M133.3,2937.3 146.0,2937.3 147.8,2934.8 155.0,2920.4 160.5,2912.6 164.1,2908.9 167.8,2906.3 171.4,2904.5 176.8,2902.9 185.9,2901.9 207.7,2903.1 218.6,2902.3 231.3,2899.6 253.0,2893.3 262.1,2891.0 271.2,2889.4 283.9,2888.1 325.6,2884.9 438.1,2878.5 456.3,2877.0 472.6,2875.1 490.8,2872.1 508.9,2868.1 561.5,2853.8 592.4,2846.0 608.7,2842.9 625.1,2841.0 636.0,2840.7 646.8,2841.1 657.7,2842.4 666.8,2844.2 674.1,2846.7 686.8,2853.1 694.0,2856.2 724.9,2866.2 752.1,2874.0 819.2,2891.4" stroke="#f0443c"/>
<path d="M133.3,2937.3 146.0,2937.3 147.8,2935.9 153.2,2925.5 156.9,2919.6 162.3,2913.0 165.9,2910.0 169.6,2907.8 173.2,2906.4 178.6,2905.1 187.7,2904.3 209.5,2905.1 218.6,2904.3 231.3,2901.6 254.9,2894.7 263.9,2892.4 271.2,2891.2 287.5,2889.5 331.1,2886.0 449.0,2878.8 467.2,2877.4 483.5,2875.6 499.8,2873.2 519.8,2869.5 616.0,2849.1 634.1,2846.1 648.7,2844.6 663.2,2844.4 672.2,2845.6 677.7,2847.3 688.6,2851.9 695.8,2854.3 741.2,2867.6 819.2,2889.1" stroke="#505050"/>
</g>
<clipPath id="cp-h"><rect x="1057.0" y="2381.2" width="1330.7" height="960.1"/></clipPath>
<g clip-path="url(#cp-h)" fill="none" stroke-width="5.2" stroke-linejoin="round" stroke-linecap="round">
<path d="M1198.3,3345.0 1206.4,3326.7 1214.6,3310.4 1220.8,3299.5 1233.1,3279.4 1237.2,3274.6 1239.2,3273.1 1245.3,3270.5 1249.4,3269.3 1255.6,3268.4 1259.7,3268.6 1263.8,3269.8 1276.1,3275.2 1280.1,3276.6 1300.6,3280.0 1308.8,3280.7 1317.0,3280.8 1325.2,3279.7 1345.7,3275.1 1376.4,3271.8 1411.2,3269.2 1536.1,3261.7 1597.5,3256.6 1622.0,3253.9 1644.6,3250.9 1663.0,3247.5 1681.4,3243.3 1697.8,3238.7 1714.2,3233.0 1728.5,3227.3 1742.8,3220.4 1757.2,3212.6 1771.5,3204.0 1783.8,3195.6 1794.0,3187.8 1804.2,3179.0 1812.4,3171.1 1822.7,3159.8 1830.9,3149.6 1839.0,3138.1 1845.2,3128.5 1851.3,3117.9 1855.4,3109.9 1863.6,3091.7 1894.3,3019.6 1900.5,3006.8 1910.7,2987.3 1916.8,2978.1 1925.0,2969.2 1931.2,2964.5 1935.3,2962.4 1939.4,2961.1 1941.4,2961.2 1945.5,2962.8 1949.6,2965.6 1957.8,2972.6 1963.9,2980.5 1970.1,2989.9 1974.2,2996.9 1980.3,3009.1 1988.5,3027.2 2004.9,3070.0 2013.1,3089.3 2021.2,3107.4 2029.4,3124.1 2037.6,3139.5 2045.8,3153.7 2054.0,3166.7 2062.2,3178.6 2070.4,3189.5 2078.6,3199.7 2088.8,3211.4 2099.0,3222.2 2107.2,3230.2 2119.5,3241.3 2129.7,3249.7 2137.9,3255.4 2148.2,3261.1 2158.4,3266.0 2172.7,3271.5 2185.0,3275.6 2197.3,3279.2 2223.9,3285.0 2240.3,3289.4 2250.5,3292.5 2262.8,3297.8 2266.9,3299.1 2273.1,3299.5 2307.9,3298.9 2332.4,3299.5 2361.1,3301.5 2389.7,3304.6" stroke="#10cccc"/>
<path d="M1225.3,3345.0 1231.4,3328.6 1237.6,3315.9 1241.7,3310.2 1243.7,3308.3 1249.8,3304.5 1253.9,3302.9 1256.0,3302.6 1260.1,3302.8 1264.2,3303.5 1280.6,3307.6 1288.7,3308.0 1309.2,3306.7 1315.4,3305.3 1321.5,3303.3 1368.6,3282.2 1378.8,3277.0 1389.1,3271.0 1399.3,3263.8 1409.5,3255.1 1419.8,3244.9 1428.0,3235.4 1434.1,3226.9 1440.2,3217.2 1446.4,3206.2 1450.5,3198.0 1458.7,3177.8 1471.0,3142.7 1475.0,3129.6 1479.1,3114.9 1489.4,3072.5 1495.5,3042.9 1501.7,3005.0 1503.7,2994.3 1505.8,2986.6 1509.8,2977.1 1511.9,2974.0 1513.9,2973.0 1516.0,2974.0 1518.0,2976.5 1520.1,2979.9 1524.2,2988.3 1526.2,2994.6 1530.3,3011.3 1536.5,3039.4 1550.8,3112.4 1556.9,3139.1 1561.0,3153.0 1565.1,3163.7 1569.2,3172.9 1579.5,3192.7 1587.6,3207.3 1593.8,3216.5 1599.9,3223.4 1606.1,3229.4 1612.2,3234.7 1624.5,3243.7 1636.8,3250.7 1653.2,3257.9 1669.5,3263.4 1688.0,3268.0 1773.9,3282.8 1792.4,3285.5 1808.7,3287.4 1839.5,3290.3 1872.2,3293.0 2001.2,3301.4 2089.2,3306.6 2144.5,3309.3 2210.0,3311.3 2238.7,3312.6 2255.0,3313.9 2259.1,3315.0 2265.3,3317.2 2269.4,3318.1 2277.6,3317.8 2296.0,3315.1 2302.1,3314.5 2345.1,3313.5 2388.1,3313.1" stroke="#34ac6a"/>
<path d="M1215.7,3345.0 1219.8,3338.0 1221.8,3333.3 1232.0,3303.5 1236.1,3293.1 1238.2,3289.2 1240.2,3286.5 1246.4,3280.4 1250.5,3277.3 1254.6,3275.3 1260.7,3274.3 1279.1,3273.3 1287.3,3272.5 1293.5,3270.8 1301.6,3267.2 1311.9,3261.3 1316.0,3258.2 1320.1,3254.5 1324.2,3250.2 1330.3,3242.9 1336.4,3233.7 1350.8,3206.8 1354.9,3197.3 1359.0,3185.6 1373.3,3137.7 1402.0,3035.4 1410.1,3010.3 1414.2,3000.2 1418.3,2993.4 1422.4,2988.0 1424.5,2986.5 1426.5,2986.2 1428.6,2987.1 1430.6,2988.7 1434.7,2993.3 1436.8,2996.4 1438.8,3000.6 1445.0,3015.7 1449.0,3027.1 1473.6,3103.9 1479.8,3121.3 1487.9,3140.3 1494.1,3152.6 1500.2,3162.8 1506.4,3171.3 1514.6,3180.8 1522.7,3188.2 1557.5,3212.9 1569.8,3221.0 1584.2,3228.9 1600.5,3236.6 1614.9,3242.5 1635.3,3249.7 1645.6,3252.9 1653.8,3255.0 1670.1,3257.7 1698.8,3260.8 1778.6,3267.6 1788.9,3269.2 1807.3,3274.2 1813.5,3275.5 1831.9,3277.7 1854.4,3279.8 1897.4,3282.8 1952.7,3285.5 1975.2,3286.9 1993.6,3288.7 2040.7,3294.2 2067.3,3296.4 2227.0,3305.4 2253.6,3308.0 2257.7,3308.8 2265.9,3311.4 2270.0,3312.1 2278.2,3311.8 2294.6,3310.2 2302.7,3309.7 2351.9,3309.8 2388.7,3310.4" stroke="#1f66e0"/>
<path d="M1210.3,3345.0 1226.7,3289.8 1234.9,3260.3 1237.0,3254.7 1239.0,3250.7 1241.0,3248.4 1245.1,3245.0 1251.3,3241.3 1259.5,3238.3 1269.7,3236.1 1273.8,3234.9 1277.9,3233.1 1282.0,3230.7 1288.1,3226.1 1294.3,3220.1 1296.3,3217.3 1300.4,3210.0 1306.6,3195.4 1314.7,3167.0 1316.8,3160.8 1325.0,3140.8 1329.1,3128.1 1339.3,3085.0 1345.5,3055.8 1347.5,3047.4 1349.5,3041.3 1355.7,3030.2 1357.7,3027.6 1359.8,3025.7 1361.8,3024.9 1363.9,3025.4 1365.9,3027.3 1368.0,3030.3 1376.2,3046.4 1388.4,3080.6 1398.7,3104.3 1404.8,3116.3 1411.0,3126.2 1419.2,3137.2 1429.4,3149.0 1441.7,3161.4 1464.2,3181.4 1480.6,3194.5 1509.2,3216.1 1531.8,3230.8 1552.2,3242.5 1576.8,3254.3 1593.2,3260.8 1615.7,3267.8 1628.0,3270.8 1638.2,3272.7 1666.9,3276.2 1693.5,3278.6 1720.1,3279.8 1826.6,3281.0 1865.5,3282.3 1902.3,3284.0 2123.4,3301.0 2154.1,3302.8 2211.4,3305.3 2234.0,3306.7 2254.4,3308.7 2258.5,3309.9 2266.7,3313.2 2270.8,3313.8 2279.0,3313.2 2293.3,3311.2 2301.5,3310.4 2350.6,3310.5 2389.5,3311.1" stroke="#f03c3c"/>
<path d="M1204.0,3345.0 1212.2,3309.2 1220.4,3277.8 1230.6,3244.6 1234.7,3232.9 1238.8,3222.5 1244.9,3210.6 1251.1,3201.3 1259.3,3190.6 1271.5,3177.0 1275.6,3171.1 1279.7,3163.6 1283.8,3154.8 1292.0,3133.8 1298.2,3113.9 1306.4,3081.4 1326.8,2979.3 1328.9,2972.3 1335.0,2959.4 1337.1,2956.5 1339.1,2954.7 1341.2,2954.4 1343.2,2955.5 1347.3,2960.7 1351.4,2967.5 1353.4,2972.4 1361.6,2996.9 1371.9,3032.5 1378.0,3051.8 1384.1,3069.7 1390.3,3084.8 1398.5,3102.1 1404.6,3113.1 1410.8,3122.4 1419.0,3133.0 1429.2,3144.8 1439.4,3156.0 1449.7,3166.3 1459.9,3175.9 1472.2,3186.3 1511.1,3216.6 1531.5,3230.4 1541.8,3236.7 1552.0,3242.4 1576.6,3254.2 1595.0,3261.4 1615.5,3267.7 1629.8,3271.2 1652.3,3274.6 1670.8,3276.5 1681.0,3276.8 1724.0,3276.5 1807.9,3276.8 1828.4,3277.4 1850.9,3278.6 1912.3,3282.4 1959.4,3286.0 1986.0,3288.4 2039.3,3294.1 2065.9,3296.3 2119.1,3299.6 2201.0,3303.4 2229.7,3305.3 2254.2,3308.0 2266.5,3311.6 2270.6,3312.1 2276.7,3311.8 2295.2,3309.5 2303.4,3309.0 2352.5,3309.2 2389.3,3310.0" stroke="#505050"/>
<path d="M1165.3,3345.0 1171.4,3294.6 1177.6,3235.6 1183.7,3169.1 1187.8,3118.4 1194.0,3032.8 1210.3,2791.0 1220.6,2636.2 1226.7,2534.5 1228.8,2510.3 1232.9,2481.6 1234.9,2470.5 1237.0,2463.2 1239.0,2460.9 1241.0,2463.6 1243.1,2470.1 1245.1,2479.4 1251.3,2514.9 1253.3,2531.3 1257.4,2572.9 1263.6,2642.5 1273.8,2773.1 1277.9,2812.9 1284.0,2861.3 1292.2,2913.2 1298.4,2962.1 1302.5,2988.8 1308.6,3022.4 1316.8,3058.8 1322.9,3081.5 1339.3,3131.0 1345.5,3146.8 1349.5,3155.9 1353.6,3163.8 1365.9,3184.8 1372.1,3194.5 1376.2,3199.8 1380.3,3204.3 1384.4,3208.2 1390.5,3213.2 1404.8,3222.8 1421.2,3232.0 1451.9,3247.7 1462.1,3252.3 1470.3,3255.4 1490.8,3261.3 1515.4,3266.5 1544.0,3271.2 1572.7,3274.6 1617.7,3278.4 1671.0,3281.8 1695.5,3282.7 1771.3,3284.1 1795.8,3284.9 1802.0,3285.5 1816.3,3287.9 1859.3,3290.8 1965.8,3295.2 2143.9,3304.2 2223.7,3307.3 2254.4,3309.7 2258.5,3310.6 2266.7,3313.5 2270.8,3314.1 2279.0,3313.7 2295.4,3312.0 2303.6,3311.4 2389.5,3311.4" stroke="#d4a012"/>
<path d="M1157.7,3345.0 1159.8,3314.5 1161.8,3298.8 1163.9,3287.5 1168.0,3268.8 1170.0,3256.9 1182.3,3174.5 1188.4,3128.2 1200.7,3021.9 1204.8,2992.7 1213.0,2945.3 1235.5,2828.9 1243.7,2789.5 1251.9,2757.2 1260.1,2729.2 1274.4,2685.2 1276.5,2680.0 1278.5,2676.2 1280.6,2673.8 1284.7,2670.0 1286.7,2668.7 1288.7,2667.9 1290.8,2667.8 1292.8,2668.1 1296.9,2669.3 1301.0,2671.1 1303.1,2672.6 1309.2,2679.8 1313.3,2686.7 1317.4,2695.4 1329.7,2725.0 1348.1,2765.7 1389.1,2855.9 1405.4,2890.0 1413.6,2905.5 1423.9,2922.5 1444.3,2953.6 1454.6,2967.5 1462.8,2976.2 1473.0,2985.2 1485.3,2994.8 1495.5,3001.3 1503.7,3005.1 1518.0,3010.3 1559.0,3026.7 1567.2,3030.6 1573.3,3034.0 1585.6,3043.0 1636.8,3085.0 1663.4,3103.7 1671.6,3108.8 1679.8,3112.4 1683.9,3113.4 1688.0,3113.8 1706.4,3114.5 1722.8,3114.7 1763.7,3113.7 1767.8,3113.9 1773.9,3114.7 1784.2,3117.3 1798.5,3122.2 1804.6,3125.8 1814.9,3133.2 1821.0,3136.3 1827.2,3137.6 1847.6,3139.8 1866.1,3142.8 1884.5,3146.5 1902.9,3151.1 1911.1,3153.7 1921.3,3157.6 1952.0,3170.9 1964.3,3176.9 1990.9,3190.8 2007.3,3198.3 2031.9,3208.3 2062.6,3219.7 2124.0,3240.9 2134.3,3244.1 2144.5,3246.5 2167.0,3250.7 2177.2,3253.0 2187.5,3256.1 2210.0,3263.8 2220.2,3266.7 2228.4,3268.2 2248.9,3270.5 2255.0,3271.7 2259.1,3273.8 2265.3,3278.1 2269.4,3279.8 2277.6,3279.8 2302.1,3278.9 2328.7,3279.4 2359.4,3281.4 2388.1,3284.7" stroke="#b07ae0"/>
</g>
<rect x="1997" y="2419.2" width="336.3" height="464.3" fill="none" stroke="#666" stroke-width="1.6"/>
<path d="M2003.5,2455.8H2137.7" stroke="#505050" stroke-width="6.6" stroke-linecap="round"/>
<text transform="translate(2150.72,2473.25) scale(1.0700,1)" font-size="53.50" fill="#000">EG</text>
<path d="M2003.5,2521.0H2137.7" stroke="#f03c3c" stroke-width="6.6" stroke-linecap="round"/>
<text transform="translate(2150.69,2538.45) scale(1.0700,1)" font-size="53.50" fill="#000">DEG</text>
<path d="M2003.5,2586.6H2137.7" stroke="#1f66e0" stroke-width="6.6" stroke-linecap="round"/>
<text transform="translate(2150.61,2604.12) scale(1.0700,1)" font-size="53.50" fill="#000">NMP</text>
<path d="M2003.5,2652.0H2137.7" stroke="#34ac6a" stroke-width="6.6" stroke-linecap="round"/>
<text transform="translate(2150.69,2669.45) scale(1.0700,1)" font-size="53.50" fill="#000">DMSO</text>
<path d="M2003.5,2717.2H2137.7" stroke="#b07ae0" stroke-width="6.6" stroke-linecap="round"/>
<text transform="translate(2149.77,2734.86) scale(1.0700,1)" font-size="53.50" fill="#000">IPA</text>
<path d="M2003.5,2782.4H2137.7" stroke="#d4a012" stroke-width="6.6" stroke-linecap="round"/>
<text transform="translate(2150.72,2799.85) scale(1.0700,1)" font-size="53.50" fill="#000">MeOH</text>
<path d="M2003.5,2848.0H2137.7" stroke="#10cccc" stroke-width="6.6" stroke-linecap="round"/>
<text transform="translate(2150.69,2865.46) scale(1.0700,1)" font-size="53.50" fill="#000">DMF</text>
<defs>
<linearGradient id="capg" x1="0" y1="0" x2="1" y2="0"><stop offset="0" stop-color="#1964c8"/><stop offset="0.1" stop-color="#1d6fda"/><stop offset="0.45" stop-color="#2076e0"/><stop offset="0.8" stop-color="#237ae4"/><stop offset="1" stop-color="#1c6bd0"/></linearGradient>
<linearGradient id="capv" x1="0" y1="0" x2="0" y2="1"><stop offset="0" stop-color="#fff" stop-opacity="0.10"/><stop offset="0.15" stop-color="#fff" stop-opacity="0"/><stop offset="0.85" stop-color="#000" stop-opacity="0"/><stop offset="1" stop-color="#000" stop-opacity="0.10"/></linearGradient>
<linearGradient id="wallg" x1="0" y1="0" x2="0" y2="1"><stop offset="0" stop-color="#96938c"/><stop offset="1" stop-color="#a29e96"/></linearGradient>
<linearGradient id="glassg" x1="0" y1="0" x2="1" y2="0"><stop offset="0" stop-color="#a6a49e"/><stop offset="0.25" stop-color="#b4b2ac"/><stop offset="0.7" stop-color="#bab8b2"/><stop offset="1" stop-color="#aeaca6"/></linearGradient>
<linearGradient id="labg" x1="0" y1="0" x2="1" y2="1"><stop offset="0" stop-color="#d2d2ce"/><stop offset="0.5" stop-color="#dcdcd8"/><stop offset="1" stop-color="#d0d0cc"/></linearGradient>
<linearGradient id="menis" x1="0" y1="0" x2="0" y2="1"><stop offset="0" stop-color="#000" stop-opacity="0.35"/><stop offset="1" stop-color="#000" stop-opacity="0"/></linearGradient>
<filter id="blur4" x="-50%" y="-10%" width="200%" height="120%"><feGaussianBlur stdDeviation="4"/></filter>
<filter id="soft" x="0" y="0" width="100%" height="100%"><feGaussianBlur stdDeviation="0.9"/></filter>
</defs>
<clipPath id="clp1"><rect x="135.0" y="718.5" width="171.0" height="464.5"/></clipPath>
<g clip-path="url(#clp1)"><g filter="url(#soft)">
<rect x="132.0" y="715.5" width="177.0" height="470.5" fill="url(#wallg)"/>
<rect x="135.0" y="718.5" width="171.0" height="52" fill="#161514"/>
<rect x="135.0" y="770.5" width="171.0" height="13" fill="#bdb2a0"/>
<path d="M164.0,815.0 L286.0,815.0 L286.0,846.5 C286.0,876.5 300.0,871.5 300.0,900.5 L300.0,1164.0 Q300.0,1176.0 286.0,1176.0 L154.0,1176.0 Q140.0,1176.0 140.0,1164.0 L140.0,900.5 C140.0,871.5 164.0,876.5 164.0,846.5 Z" fill="url(#glassg)" stroke="#dcdad4" stroke-width="1.4"/>
<path d="M277.0,815.0 L277.0,846.5 C277.0,876.5 293.0,871.5 293.0,900.5 L293.0,909.0" fill="none" stroke="#ecebe6" stroke-width="2.4"/>
<path d="M282.0,815.0 L282.0,846.5 C282.0,876.5 298.0,871.5 298.0,900.5" fill="none" stroke="#46433f" stroke-width="1.5"/>
<path d="M177.0,856.5 q-9,16 -15,40 l6,2 q5,-22 14,-38 z" fill="#3a3733"/>
<path d="M175.0,905.5 q30,-8 60,-2 q20,3 36,-2" stroke="#5a5650" stroke-width="3" fill="none" stroke-dasharray="10 7"/>
<ellipse cx="208.5" cy="884.5" rx="3" ry="12" fill="#f4f4f2"/>
<ellipse cx="232.5" cy="862.5" rx="4.5" ry="5" fill="#eef3f4"/>
<ellipse cx="235.5" cy="895.5" rx="5.5" ry="5" fill="#eef3f4"/>
<path d="M182.5,878.5 l10,-7 M180.5,893.5 l12,5" stroke="#eeeeea" stroke-width="2"/>
<rect x="172.0" y="909.0" width="119.0" height="79.0" fill="#c6c6c1"/>
<rect x="172.0" y="909.0" width="119.0" height="79.0" fill="url(#labg)" opacity="0.25"/>
<rect x="172.0" y="922.0" width="20" height="66.0" fill="#9a978f"/>
<rect x="291.0" y="911.0" width="8" height="229.0" fill="#cfcec9"/>
<path d="M152.0,913.0v26 M159.0,911.0v30" stroke="#dedcd6" stroke-width="2.2"/>
<linearGradient id="lq1" x1="0" y1="0" x2="1" y2="0"><stop offset="0" stop-color="rgb(10,12,30)"/><stop offset="0.1" stop-color="rgb(20,23,62)"/><stop offset="0.28" stop-color="rgb(26,30,84)"/><stop offset="0.62" stop-color="rgb(26,36,104)"/><stop offset="0.9" stop-color="rgb(26,42,124)"/><stop offset="1" stop-color="rgb(18,27,77)"/></linearGradient>
<path d="M141.0,988.0 L299.0,988.0 L299.0,1164.0 Q299.0,1175.0 285.0,1175.0 L155.0,1175.0 Q141.0,1175.0 141.0,1164.0 Z" fill="url(#lq1)"/>
<rect x="172.6" y="998.0" width="12.6" height="115" fill="#000" opacity="0.07" filter="url(#blur4)"/>
<rect x="207.4" y="998.0" width="12.6" height="115" fill="#000" opacity="0.05" filter="url(#blur4)"/>
<rect x="251.6" y="998.0" width="12.6" height="115" fill="#000" opacity="0.05" filter="url(#blur4)"/>
<rect x="141.0" y="988.0" width="158.0" height="16" fill="url(#menis)"/>
<rect x="141.0" y="984.0" width="158.0" height="6" fill="rgb(85,72,66)"/>
<path d="M149.0,983.0 L291.0,983.0" stroke="#d8d4cc" stroke-width="1.5" opacity="0.7"/>
<path d="M141.0,1164.0 L141.0,1138.0 Q166.3,1148.0 195.5,1121.0 Q216.4,1146.0 237.4,1127.0 Q246.9,1160.0 269.0,1163.0 L299.0,1165.0 L299.0,1164.0 Q299.0,1173.0 285.0,1173.0 L155.0,1173.0 Q141.0,1173.0 141.0,1164.0 Z" fill="rgb(90,100,130)"/>
<rect x="135.0" y="1174.0" width="171.0" height="9" fill="#e6eeee"/>
<path d="M146.0,1175.0 L294.0,1175.0" stroke="#c4cccc" stroke-width="2.5"/>
<path d="M142.0,733.0 Q142.0,723.0 152.0,723.0 L289.0,723.0 Q299.0,723.0 299.0,733.0 L299.0,811.0 Q299.0,815.0 295.0,815.0 L146.0,815.0 Q142.0,815.0 142.0,811.0 Z" fill="url(#capg)"/>
<path d="M142.0,733.0 Q142.0,723.0 152.0,723.0 L289.0,723.0 Q299.0,723.0 299.0,733.0 L299.0,811.0 Q299.0,815.0 295.0,815.0 L146.0,815.0 Q142.0,815.0 142.0,811.0 Z" fill="url(#capv)"/>
<rect x="173.4" y="733.0" width="2.2" height="74" fill="#1558b8" opacity="0.25"/>
<rect x="189.1" y="733.0" width="2.2" height="74" fill="#1558b8" opacity="0.25"/>
<rect x="229.9" y="733.0" width="2.2" height="74" fill="#1558b8" opacity="0.25"/>
<rect x="248.8" y="733.0" width="2.2" height="74" fill="#1558b8" opacity="0.25"/>
<rect x="267.6" y="733.0" width="2.2" height="74" fill="#1558b8" opacity="0.25"/>
</g></g>
<clipPath id="clp2"><rect x="306.0" y="718.5" width="172.0" height="464.5"/></clipPath>
<g clip-path="url(#clp2)"><g filter="url(#soft)">
<rect x="303.0" y="715.5" width="178.0" height="470.5" fill="url(#wallg)"/>
<rect x="306.0" y="718.5" width="172.0" height="52" fill="#161514"/>
<rect x="306.0" y="770.5" width="172.0" height="13" fill="#bdb2a0"/>
<path d="M335.0,815.0 L458.0,815.0 L458.0,846.5 C458.0,876.5 472.0,871.5 472.0,900.5 L472.0,1164.0 Q472.0,1176.0 458.0,1176.0 L325.0,1176.0 Q311.0,1176.0 311.0,1164.0 L311.0,900.5 C311.0,871.5 335.0,876.5 335.0,846.5 Z" fill="url(#glassg)" stroke="#dcdad4" stroke-width="1.4"/>
<path d="M449.0,815.0 L449.0,846.5 C449.0,876.5 465.0,871.5 465.0,900.5 L465.0,909.0" fill="none" stroke="#ecebe6" stroke-width="2.4"/>
<path d="M454.0,815.0 L454.0,846.5 C454.0,876.5 470.0,871.5 470.0,900.5" fill="none" stroke="#46433f" stroke-width="1.5"/>
<path d="M348.0,856.5 q-9,16 -15,40 l6,2 q5,-22 14,-38 z" fill="#3a3733"/>
<path d="M346.0,905.5 q30,-8 60,-2 q20,3 36,-2" stroke="#5a5650" stroke-width="3" fill="none" stroke-dasharray="10 7"/>
<ellipse cx="380.0" cy="884.5" rx="3" ry="12" fill="#f4f4f2"/>
<ellipse cx="404.0" cy="862.5" rx="4.5" ry="5" fill="#eef3f4"/>
<ellipse cx="407.0" cy="895.5" rx="5.5" ry="5" fill="#eef3f4"/>
<path d="M354.0,878.5 l10,-7 M352.0,893.5 l12,5" stroke="#eeeeea" stroke-width="2"/>
<rect x="343.0" y="909.0" width="120.0" height="79.0" fill="#c6c6c1"/>
<rect x="343.0" y="909.0" width="120.0" height="79.0" fill="url(#labg)" opacity="0.25"/>
<rect x="343.0" y="922.0" width="20" height="66.0" fill="#9a978f"/>
<rect x="463.0" y="911.0" width="8" height="229.0" fill="#cfcec9"/>
<path d="M323.0,913.0v26 M330.0,911.0v30" stroke="#dedcd6" stroke-width="2.2"/>
<linearGradient id="lq2" x1="0" y1="0" x2="1" y2="0"><stop offset="0" stop-color="rgb(8,16,30)"/><stop offset="0.1" stop-color="rgb(15,35,65)"/><stop offset="0.28" stop-color="rgb(20,48,88)"/><stop offset="0.62" stop-color="rgb(20,58,104)"/><stop offset="0.9" stop-color="rgb(20,68,120)"/><stop offset="1" stop-color="rgb(14,42,75)"/></linearGradient>
<path d="M312.0,988.0 L471.0,988.0 L471.0,1164.0 Q471.0,1175.0 457.0,1175.0 L326.0,1175.0 Q312.0,1175.0 312.0,1164.0 Z" fill="url(#lq2)"/>
<rect x="343.8" y="998.0" width="12.7" height="115" fill="#000" opacity="0.07" filter="url(#blur4)"/>
<rect x="378.8" y="998.0" width="12.7" height="115" fill="#000" opacity="0.05" filter="url(#blur4)"/>
<rect x="423.3" y="998.0" width="12.7" height="115" fill="#000" opacity="0.05" filter="url(#blur4)"/>
<rect x="312.0" y="988.0" width="159.0" height="16" fill="url(#menis)"/>
<rect x="312.0" y="984.0" width="159.0" height="6" fill="rgb(84,73,66)"/>
<path d="M320.0,983.0 L463.0,983.0" stroke="#d8d4cc" stroke-width="1.5" opacity="0.7"/>
<path d="M312.0,1164.0 L312.0,1138.0 Q337.4,1148.0 366.9,1121.0 Q387.9,1146.0 409.0,1127.0 Q418.5,1160.0 440.8,1163.0 L471.0,1165.0 L471.0,1164.0 Q471.0,1173.0 457.0,1173.0 L326.0,1173.0 Q312.0,1173.0 312.0,1164.0 Z" fill="rgb(94,107,123)"/>
<rect x="306.0" y="1174.0" width="172.0" height="9" fill="#e6eeee"/>
<path d="M317.0,1175.0 L466.0,1175.0" stroke="#c4cccc" stroke-width="2.5"/>
<path d="M313.0,733.0 Q313.0,723.0 323.0,723.0 L461.0,723.0 Q471.0,723.0 471.0,733.0 L471.0,811.0 Q471.0,815.0 467.0,815.0 L317.0,815.0 Q313.0,815.0 313.0,811.0 Z" fill="url(#capg)"/>
<path d="M313.0,733.0 Q313.0,723.0 323.0,723.0 L461.0,723.0 Q471.0,723.0 471.0,733.0 L471.0,811.0 Q471.0,815.0 467.0,815.0 L317.0,815.0 Q313.0,815.0 313.0,811.0 Z" fill="url(#capv)"/>
<rect x="344.6" y="733.0" width="2.2" height="74" fill="#1558b8" opacity="0.25"/>
<rect x="360.4" y="733.0" width="2.2" height="74" fill="#1558b8" opacity="0.25"/>
<rect x="401.5" y="733.0" width="2.2" height="74" fill="#1558b8" opacity="0.25"/>
<rect x="420.4" y="733.0" width="2.2" height="74" fill="#1558b8" opacity="0.25"/>
<rect x="439.4" y="733.0" width="2.2" height="74" fill="#1558b8" opacity="0.25"/>
</g></g>
<clipPath id="clp3"><rect x="478.0" y="718.5" width="172.0" height="464.5"/></clipPath>
<g clip-path="url(#clp3)"><g filter="url(#soft)">
<rect x="475.0" y="715.5" width="178.0" height="470.5" fill="url(#wallg)"/>
<rect x="478.0" y="718.5" width="172.0" height="52" fill="#161514"/>
<rect x="478.0" y="770.5" width="172.0" height="13" fill="#bdb2a0"/>
<path d="M507.0,815.0 L630.0,815.0 L630.0,846.5 C630.0,876.5 644.0,871.5 644.0,900.5 L644.0,1164.0 Q644.0,1176.0 630.0,1176.0 L497.0,1176.0 Q483.0,1176.0 483.0,1164.0 L483.0,900.5 C483.0,871.5 507.0,876.5 507.0,846.5 Z" fill="url(#glassg)" stroke="#dcdad4" stroke-width="1.4"/>
<path d="M621.0,815.0 L621.0,846.5 C621.0,876.5 637.0,871.5 637.0,900.5 L637.0,909.0" fill="none" stroke="#ecebe6" stroke-width="2.4"/>
<path d="M626.0,815.0 L626.0,846.5 C626.0,876.5 642.0,871.5 642.0,900.5" fill="none" stroke="#46433f" stroke-width="1.5"/>
<path d="M520.0,856.5 q-9,16 -15,40 l6,2 q5,-22 14,-38 z" fill="#3a3733"/>
<path d="M518.0,905.5 q30,-8 60,-2 q20,3 36,-2" stroke="#5a5650" stroke-width="3" fill="none" stroke-dasharray="10 7"/>
<ellipse cx="552.0" cy="884.5" rx="3" ry="12" fill="#f4f4f2"/>
<ellipse cx="576.0" cy="862.5" rx="4.5" ry="5" fill="#eef3f4"/>
<ellipse cx="579.0" cy="895.5" rx="5.5" ry="5" fill="#eef3f4"/>
<path d="M526.0,878.5 l10,-7 M524.0,893.5 l12,5" stroke="#eeeeea" stroke-width="2"/>
<rect x="515.0" y="909.0" width="120.0" height="79.0" fill="#c6c6c1"/>
<rect x="515.0" y="909.0" width="120.0" height="79.0" fill="url(#labg)" opacity="0.25"/>
<rect x="515.0" y="922.0" width="20" height="66.0" fill="#9a978f"/>
<rect x="635.0" y="911.0" width="8" height="229.0" fill="#cfcec9"/>
<path d="M495.0,913.0v26 M502.0,911.0v30" stroke="#dedcd6" stroke-width="2.2"/>
<linearGradient id="lq3" x1="0" y1="0" x2="1" y2="0"><stop offset="0" stop-color="rgb(8,24,26)"/><stop offset="0.1" stop-color="rgb(13,49,49)"/><stop offset="0.28" stop-color="rgb(16,66,64)"/><stop offset="0.62" stop-color="rgb(19,83,75)"/><stop offset="0.9" stop-color="rgb(22,100,86)"/><stop offset="1" stop-color="rgb(15,62,56)"/></linearGradient>
<path d="M484.0,988.0 L643.0,988.0 L643.0,1164.0 Q643.0,1175.0 629.0,1175.0 L498.0,1175.0 Q484.0,1175.0 484.0,1164.0 Z" fill="url(#lq3)"/>
<rect x="515.8" y="998.0" width="12.7" height="115" fill="#000" opacity="0.07" filter="url(#blur4)"/>
<rect x="550.8" y="998.0" width="12.7" height="115" fill="#000" opacity="0.05" filter="url(#blur4)"/>
<rect x="595.3" y="998.0" width="12.7" height="115" fill="#000" opacity="0.05" filter="url(#blur4)"/>
<rect x="484.0" y="988.0" width="159.0" height="16" fill="url(#menis)"/>
<rect x="484.0" y="984.0" width="159.0" height="6" fill="rgb(84,75,65)"/>
<path d="M492.0,983.0 L635.0,983.0" stroke="#d8d4cc" stroke-width="1.5" opacity="0.7"/>
<path d="M484.0,1164.0 L484.0,1138.0 Q509.4,1148.0 538.9,1121.0 Q559.9,1146.0 581.0,1127.0 Q590.5,1160.0 612.8,1163.0 L643.0,1165.0 L643.0,1164.0 Q643.0,1173.0 629.0,1173.0 L498.0,1173.0 Q484.0,1173.0 484.0,1164.0 Z" fill="rgb(94,112,115)"/>
<rect x="478.0" y="1174.0" width="172.0" height="9" fill="#e6eeee"/>
<path d="M489.0,1175.0 L638.0,1175.0" stroke="#c4cccc" stroke-width="2.5"/>
<path d="M485.0,733.0 Q485.0,723.0 495.0,723.0 L633.0,723.0 Q643.0,723.0 643.0,733.0 L643.0,811.0 Q643.0,815.0 639.0,815.0 L489.0,815.0 Q485.0,815.0 485.0,811.0 Z" fill="url(#capg)"/>
<path d="M485.0,733.0 Q485.0,723.0 495.0,723.0 L633.0,723.0 Q643.0,723.0 643.0,733.0 L643.0,811.0 Q643.0,815.0 639.0,815.0 L489.0,815.0 Q485.0,815.0 485.0,811.0 Z" fill="url(#capv)"/>
<rect x="516.6" y="733.0" width="2.2" height="74" fill="#1558b8" opacity="0.25"/>
<rect x="532.4" y="733.0" width="2.2" height="74" fill="#1558b8" opacity="0.25"/>
<rect x="573.5" y="733.0" width="2.2" height="74" fill="#1558b8" opacity="0.25"/>
<rect x="592.4" y="733.0" width="2.2" height="74" fill="#1558b8" opacity="0.25"/>
<rect x="611.4" y="733.0" width="2.2" height="74" fill="#1558b8" opacity="0.25"/>
</g></g>
<clipPath id="clp4"><rect x="650.0" y="718.5" width="168.0" height="464.5"/></clipPath>
<g clip-path="url(#clp4)"><g filter="url(#soft)">
<rect x="647.0" y="715.5" width="174.0" height="470.5" fill="url(#wallg)"/>
<rect x="650.0" y="718.5" width="168.0" height="52" fill="#161514"/>
<rect x="650.0" y="770.5" width="168.0" height="13" fill="#bdb2a0"/>
<path d="M679.0,815.0 L798.0,815.0 L798.0,846.5 C798.0,876.5 812.0,871.5 812.0,900.5 L812.0,1164.0 Q812.0,1176.0 798.0,1176.0 L669.0,1176.0 Q655.0,1176.0 655.0,1164.0 L655.0,900.5 C655.0,871.5 679.0,876.5 679.0,846.5 Z" fill="url(#glassg)" stroke="#dcdad4" stroke-width="1.4"/>
<path d="M789.0,815.0 L789.0,846.5 C789.0,876.5 805.0,871.5 805.0,900.5 L805.0,909.0" fill="none" stroke="#ecebe6" stroke-width="2.4"/>
<path d="M794.0,815.0 L794.0,846.5 C794.0,876.5 810.0,871.5 810.0,900.5" fill="none" stroke="#46433f" stroke-width="1.5"/>
<path d="M692.0,856.5 q-9,16 -15,40 l6,2 q5,-22 14,-38 z" fill="#3a3733"/>
<path d="M690.0,905.5 q30,-8 60,-2 q20,3 36,-2" stroke="#5a5650" stroke-width="3" fill="none" stroke-dasharray="10 7"/>
<ellipse cx="722.0" cy="884.5" rx="3" ry="12" fill="#f4f4f2"/>
<ellipse cx="746.0" cy="862.5" rx="4.5" ry="5" fill="#eef3f4"/>
<ellipse cx="749.0" cy="895.5" rx="5.5" ry="5" fill="#eef3f4"/>
<path d="M696.0,878.5 l10,-7 M694.0,893.5 l12,5" stroke="#eeeeea" stroke-width="2"/>
<rect x="687.0" y="909.0" width="116.0" height="79.0" fill="#c6c6c1"/>
<rect x="687.0" y="909.0" width="116.0" height="79.0" fill="url(#labg)" opacity="0.25"/>
<rect x="687.0" y="922.0" width="20" height="66.0" fill="#9a978f"/>
<rect x="803.0" y="911.0" width="8" height="229.0" fill="#cfcec9"/>
<path d="M667.0,913.0v26 M674.0,911.0v30" stroke="#dedcd6" stroke-width="2.2"/>
<linearGradient id="lq4" x1="0" y1="0" x2="1" y2="0"><stop offset="0" stop-color="rgb(10,26,16)"/><stop offset="0.1" stop-color="rgb(17,50,28)"/><stop offset="0.28" stop-color="rgb(22,66,36)"/><stop offset="0.62" stop-color="rgb(29,81,41)"/><stop offset="0.9" stop-color="rgb(36,96,46)"/><stop offset="1" stop-color="rgb(23,61,31)"/></linearGradient>
<path d="M656.0,988.0 L811.0,988.0 L811.0,1164.0 Q811.0,1175.0 797.0,1175.0 L670.0,1175.0 Q656.0,1175.0 656.0,1164.0 Z" fill="url(#lq4)"/>
<rect x="687.0" y="998.0" width="12.4" height="115" fill="#000" opacity="0.07" filter="url(#blur4)"/>
<rect x="721.1" y="998.0" width="12.4" height="115" fill="#000" opacity="0.05" filter="url(#blur4)"/>
<rect x="764.5" y="998.0" width="12.4" height="115" fill="#000" opacity="0.05" filter="url(#blur4)"/>
<rect x="656.0" y="988.0" width="155.0" height="16" fill="url(#menis)"/>
<rect x="656.0" y="984.0" width="155.0" height="6" fill="rgb(85,76,62)"/>
<path d="M664.0,983.0 L803.0,983.0" stroke="#d8d4cc" stroke-width="1.5" opacity="0.7"/>
<path d="M656.0,1164.0 L656.0,1138.0 Q680.8,1148.0 709.5,1121.0 Q730.0,1146.0 750.5,1127.0 Q759.8,1160.0 781.5,1163.0 L811.0,1165.0 L811.0,1164.0 Q811.0,1173.0 797.0,1173.0 L670.0,1173.0 Q656.0,1173.0 656.0,1164.0 Z" fill="rgb(94,109,103)"/>
<rect x="650.0" y="1174.0" width="168.0" height="9" fill="#e6eeee"/>
<path d="M661.0,1175.0 L806.0,1175.0" stroke="#c4cccc" stroke-width="2.5"/>
<path d="M657.0,733.0 Q657.0,723.0 667.0,723.0 L801.0,723.0 Q811.0,723.0 811.0,733.0 L811.0,811.0 Q811.0,815.0 807.0,815.0 L661.0,815.0 Q657.0,815.0 657.0,811.0 Z" fill="url(#capg)"/>
<path d="M657.0,733.0 Q657.0,723.0 667.0,723.0 L801.0,723.0 Q811.0,723.0 811.0,733.0 L811.0,811.0 Q811.0,815.0 807.0,815.0 L661.0,815.0 Q657.0,815.0 657.0,811.0 Z" fill="url(#capv)"/>
<rect x="687.8" y="733.0" width="2.2" height="74" fill="#1558b8" opacity="0.25"/>
<rect x="703.2" y="733.0" width="2.2" height="74" fill="#1558b8" opacity="0.25"/>
<rect x="743.2" y="733.0" width="2.2" height="74" fill="#1558b8" opacity="0.25"/>
<rect x="761.7" y="733.0" width="2.2" height="74" fill="#1558b8" opacity="0.25"/>
<rect x="780.2" y="733.0" width="2.2" height="74" fill="#1558b8" opacity="0.25"/>
</g></g>
<rect x="305.2" y="718.5" width="1.6" height="464.5" fill="#8a8a86"/>
<rect x="477.2" y="718.5" width="1.6" height="464.5" fill="#8a8a86"/>
<rect x="649.2" y="718.5" width="1.6" height="464.5" fill="#8a8a86"/>
<clipPath id="clp5"><rect x="930.0" y="718.5" width="173.0" height="464.5"/></clipPath>
<g clip-path="url(#clp5)"><g filter="url(#soft)">
<rect x="927.0" y="715.5" width="179.0" height="470.5" fill="url(#wallg)"/>
<rect x="930.0" y="718.5" width="173.0" height="52" fill="#161514"/>
<rect x="930.0" y="770.5" width="173.0" height="13" fill="#bdb2a0"/>
<path d="M959.0,815.0 L1083.0,815.0 L1083.0,846.5 C1083.0,876.5 1097.0,871.5 1097.0,900.5 L1097.0,1164.0 Q1097.0,1176.0 1083.0,1176.0 L949.0,1176.0 Q935.0,1176.0 935.0,1164.0 L935.0,900.5 C935.0,871.5 959.0,876.5 959.0,846.5 Z" fill="url(#glassg)" stroke="#dcdad4" stroke-width="1.4"/>
<path d="M1074.0,815.0 L1074.0,846.5 C1074.0,876.5 1090.0,871.5 1090.0,900.5 L1090.0,907.0" fill="none" stroke="#ecebe6" stroke-width="2.4"/>
<path d="M1079.0,815.0 L1079.0,846.5 C1079.0,876.5 1095.0,871.5 1095.0,900.5" fill="none" stroke="#46433f" stroke-width="1.5"/>
<path d="M972.0,856.5 q-9,16 -15,40 l6,2 q5,-22 14,-38 z" fill="#3a3733"/>
<path d="M970.0,905.5 q30,-8 60,-2 q20,3 36,-2" stroke="#5a5650" stroke-width="3" fill="none" stroke-dasharray="10 7"/>
<ellipse cx="1004.5" cy="884.5" rx="3" ry="12" fill="#f4f4f2"/>
<ellipse cx="1028.5" cy="862.5" rx="4.5" ry="5" fill="#eef3f4"/>
<ellipse cx="1031.5" cy="895.5" rx="5.5" ry="5" fill="#eef3f4"/>
<path d="M978.5,878.5 l10,-7 M976.5,893.5 l12,5" stroke="#eeeeea" stroke-width="2"/>
<rect x="967.0" y="907.0" width="121.0" height="82.0" fill="#cfd1d0"/>
<rect x="967.0" y="907.0" width="121.0" height="82.0" fill="url(#labg)" opacity="0.25"/>
<rect x="967.0" y="920.0" width="20" height="69.0" fill="#9a978f"/>
<rect x="1088.0" y="909.0" width="8" height="232.0" fill="#cfcec9"/>
<path d="M947.0,911.0v26 M954.0,909.0v30" stroke="#dedcd6" stroke-width="2.2"/>
<linearGradient id="lq5" x1="0" y1="0" x2="1" y2="0"><stop offset="0" stop-color="rgb(8,8,22)"/><stop offset="0.1" stop-color="rgb(15,16,47)"/><stop offset="0.28" stop-color="rgb(20,22,64)"/><stop offset="0.62" stop-color="rgb(21,25,82)"/><stop offset="0.9" stop-color="rgb(22,28,100)"/><stop offset="1" stop-color="rgb(15,18,61)"/></linearGradient>
<path d="M936.0,989.0 L1096.0,989.0 L1096.0,1164.0 Q1096.0,1175.0 1082.0,1175.0 L950.0,1175.0 Q936.0,1175.0 936.0,1164.0 Z" fill="url(#lq5)"/>
<rect x="968.0" y="999.0" width="12.8" height="115" fill="#000" opacity="0.07" filter="url(#blur4)"/>
<rect x="1003.2" y="999.0" width="12.8" height="115" fill="#000" opacity="0.05" filter="url(#blur4)"/>
<rect x="1048.0" y="999.0" width="12.8" height="115" fill="#000" opacity="0.05" filter="url(#blur4)"/>
<rect x="936.0" y="989.0" width="160.0" height="16" fill="url(#menis)"/>
<rect x="936.0" y="985.0" width="160.0" height="6" fill="rgb(84,71,64)"/>
<path d="M944.0,984.0 L1088.0,984.0" stroke="#d8d4cc" stroke-width="1.5" opacity="0.7"/>
<path d="M936.0,1164.0 L936.0,1139.0 Q961.6,1149.0 991.2,1122.0 Q1012.4,1147.0 1033.6,1128.0 Q1043.2,1161.0 1065.6,1164.0 L1096.0,1166.0 L1096.0,1164.0 Q1096.0,1173.0 1082.0,1173.0 L950.0,1173.0 Q936.0,1173.0 936.0,1164.0 Z" fill="rgb(89,95,120)"/>
<rect x="930.0" y="1174.0" width="173.0" height="9" fill="#e6eeee"/>
<path d="M941.0,1175.0 L1091.0,1175.0" stroke="#c4cccc" stroke-width="2.5"/>
<path d="M937.0,733.0 Q937.0,723.0 947.0,723.0 L1086.0,723.0 Q1096.0,723.0 1096.0,733.0 L1096.0,811.0 Q1096.0,815.0 1092.0,815.0 L941.0,815.0 Q937.0,815.0 937.0,811.0 Z" fill="url(#capg)"/>
<path d="M937.0,733.0 Q937.0,723.0 947.0,723.0 L1086.0,723.0 Q1096.0,723.0 1096.0,733.0 L1096.0,811.0 Q1096.0,815.0 1092.0,815.0 L941.0,815.0 Q937.0,815.0 937.0,811.0 Z" fill="url(#capv)"/>
<rect x="968.8" y="733.0" width="2.2" height="74" fill="#1558b8" opacity="0.25"/>
<rect x="984.7" y="733.0" width="2.2" height="74" fill="#1558b8" opacity="0.25"/>
<rect x="1026.0" y="733.0" width="2.2" height="74" fill="#1558b8" opacity="0.25"/>
<rect x="1045.1" y="733.0" width="2.2" height="74" fill="#1558b8" opacity="0.25"/>
<rect x="1064.2" y="733.0" width="2.2" height="74" fill="#1558b8" opacity="0.25"/>
</g></g>
<clipPath id="clp6"><rect x="1103.0" y="718.5" width="169.5" height="464.5"/></clipPath>
<g clip-path="url(#clp6)"><g filter="url(#soft)">
<rect x="1100.0" y="715.5" width="175.5" height="470.5" fill="url(#wallg)"/>
<rect x="1103.0" y="718.5" width="169.5" height="52" fill="#161514"/>
<rect x="1103.0" y="770.5" width="169.5" height="13" fill="#bdb2a0"/>
<path d="M1132.0,815.0 L1252.5,815.0 L1252.5,846.5 C1252.5,876.5 1266.5,871.5 1266.5,900.5 L1266.5,1164.0 Q1266.5,1176.0 1252.5,1176.0 L1122.0,1176.0 Q1108.0,1176.0 1108.0,1164.0 L1108.0,900.5 C1108.0,871.5 1132.0,876.5 1132.0,846.5 Z" fill="url(#glassg)" stroke="#dcdad4" stroke-width="1.4"/>
<path d="M1243.5,815.0 L1243.5,846.5 C1243.5,876.5 1259.5,871.5 1259.5,900.5 L1259.5,907.0" fill="none" stroke="#ecebe6" stroke-width="2.4"/>
<path d="M1248.5,815.0 L1248.5,846.5 C1248.5,876.5 1264.5,871.5 1264.5,900.5" fill="none" stroke="#46433f" stroke-width="1.5"/>
<path d="M1145.0,856.5 q-9,16 -15,40 l6,2 q5,-22 14,-38 z" fill="#3a3733"/>
<path d="M1143.0,905.5 q30,-8 60,-2 q20,3 36,-2" stroke="#5a5650" stroke-width="3" fill="none" stroke-dasharray="10 7"/>
<ellipse cx="1175.8" cy="884.5" rx="3" ry="12" fill="#f4f4f2"/>
<ellipse cx="1199.8" cy="862.5" rx="4.5" ry="5" fill="#eef3f4"/>
<ellipse cx="1202.8" cy="895.5" rx="5.5" ry="5" fill="#eef3f4"/>
<path d="M1149.8,878.5 l10,-7 M1147.8,893.5 l12,5" stroke="#eeeeea" stroke-width="2"/>
<rect x="1140.0" y="907.0" width="117.5" height="82.0" fill="#cfd1d0"/>
<rect x="1140.0" y="907.0" width="117.5" height="82.0" fill="url(#labg)" opacity="0.25"/>
<rect x="1140.0" y="920.0" width="20" height="69.0" fill="#9a978f"/>
<rect x="1257.5" y="909.0" width="8" height="232.0" fill="#cfcec9"/>
<path d="M1120.0,911.0v26 M1127.0,909.0v30" stroke="#dedcd6" stroke-width="2.2"/>
<linearGradient id="lq6" x1="0" y1="0" x2="1" y2="0"><stop offset="0" stop-color="rgb(8,10,30)"/><stop offset="0.1" stop-color="rgb(15,20,62)"/><stop offset="0.28" stop-color="rgb(20,26,84)"/><stop offset="0.62" stop-color="rgb(25,31,117)"/><stop offset="0.9" stop-color="rgb(30,36,150)"/><stop offset="1" stop-color="rgb(19,23,90)"/></linearGradient>
<path d="M1109.0,989.0 L1265.5,989.0 L1265.5,1164.0 Q1265.5,1175.0 1251.5,1175.0 L1123.0,1175.0 Q1109.0,1175.0 1109.0,1164.0 Z" fill="url(#lq6)"/>
<rect x="1140.3" y="999.0" width="12.5" height="115" fill="#000" opacity="0.07" filter="url(#blur4)"/>
<rect x="1174.7" y="999.0" width="12.5" height="115" fill="#000" opacity="0.05" filter="url(#blur4)"/>
<rect x="1218.5" y="999.0" width="12.5" height="115" fill="#000" opacity="0.05" filter="url(#blur4)"/>
<rect x="1109.0" y="989.0" width="156.5" height="16" fill="url(#menis)"/>
<rect x="1109.0" y="985.0" width="156.5" height="6" fill="rgb(84,72,66)"/>
<path d="M1117.0,984.0 L1257.5,984.0" stroke="#d8d4cc" stroke-width="1.5" opacity="0.7"/>
<path d="M1109.0,1164.0 L1109.0,1139.0 Q1134.0,1149.0 1163.0,1122.0 Q1183.7,1147.0 1204.5,1128.0 Q1213.9,1161.0 1235.8,1164.0 L1265.5,1166.0 L1265.5,1164.0 Q1265.5,1173.0 1251.5,1173.0 L1123.0,1173.0 Q1109.0,1173.0 1109.0,1164.0 Z" fill="rgb(96,102,130)"/>
<rect x="1103.0" y="1174.0" width="169.5" height="9" fill="#e6eeee"/>
<path d="M1114.0,1175.0 L1260.5,1175.0" stroke="#c4cccc" stroke-width="2.5"/>
<path d="M1110.0,733.0 Q1110.0,723.0 1120.0,723.0 L1255.5,723.0 Q1265.5,723.0 1265.5,733.0 L1265.5,811.0 Q1265.5,815.0 1261.5,815.0 L1114.0,815.0 Q1110.0,815.0 1110.0,811.0 Z" fill="url(#capg)"/>
<path d="M1110.0,733.0 Q1110.0,723.0 1120.0,723.0 L1255.5,723.0 Q1265.5,723.0 1265.5,733.0 L1265.5,811.0 Q1265.5,815.0 1261.5,815.0 L1114.0,815.0 Q1110.0,815.0 1110.0,811.0 Z" fill="url(#capv)"/>
<rect x="1141.1" y="733.0" width="2.2" height="74" fill="#1558b8" opacity="0.25"/>
<rect x="1156.7" y="733.0" width="2.2" height="74" fill="#1558b8" opacity="0.25"/>
<rect x="1197.1" y="733.0" width="2.2" height="74" fill="#1558b8" opacity="0.25"/>
<rect x="1215.7" y="733.0" width="2.2" height="74" fill="#1558b8" opacity="0.25"/>
<rect x="1234.4" y="733.0" width="2.2" height="74" fill="#1558b8" opacity="0.25"/>
</g></g>
<clipPath id="clp7"><rect x="1272.5" y="718.5" width="172.5" height="464.5"/></clipPath>
<g clip-path="url(#clp7)"><g filter="url(#soft)">
<rect x="1269.5" y="715.5" width="178.5" height="470.5" fill="url(#wallg)"/>
<rect x="1272.5" y="718.5" width="172.5" height="52" fill="#161514"/>
<rect x="1272.5" y="770.5" width="172.5" height="13" fill="#bdb2a0"/>
<path d="M1301.5,815.0 L1425.0,815.0 L1425.0,846.5 C1425.0,876.5 1439.0,871.5 1439.0,900.5 L1439.0,1164.0 Q1439.0,1176.0 1425.0,1176.0 L1291.5,1176.0 Q1277.5,1176.0 1277.5,1164.0 L1277.5,900.5 C1277.5,871.5 1301.5,876.5 1301.5,846.5 Z" fill="url(#glassg)" stroke="#dcdad4" stroke-width="1.4"/>
<path d="M1416.0,815.0 L1416.0,846.5 C1416.0,876.5 1432.0,871.5 1432.0,900.5 L1432.0,907.0" fill="none" stroke="#ecebe6" stroke-width="2.4"/>
<path d="M1421.0,815.0 L1421.0,846.5 C1421.0,876.5 1437.0,871.5 1437.0,900.5" fill="none" stroke="#46433f" stroke-width="1.5"/>
<path d="M1314.5,856.5 q-9,16 -15,40 l6,2 q5,-22 14,-38 z" fill="#3a3733"/>
<path d="M1312.5,905.5 q30,-8 60,-2 q20,3 36,-2" stroke="#5a5650" stroke-width="3" fill="none" stroke-dasharray="10 7"/>
<ellipse cx="1346.8" cy="884.5" rx="3" ry="12" fill="#f4f4f2"/>
<ellipse cx="1370.8" cy="862.5" rx="4.5" ry="5" fill="#eef3f4"/>
<ellipse cx="1373.8" cy="895.5" rx="5.5" ry="5" fill="#eef3f4"/>
<path d="M1320.8,878.5 l10,-7 M1318.8,893.5 l12,5" stroke="#eeeeea" stroke-width="2"/>
<rect x="1309.5" y="907.0" width="120.5" height="82.0" fill="#cfd1d0"/>
<rect x="1309.5" y="907.0" width="120.5" height="82.0" fill="url(#labg)" opacity="0.25"/>
<rect x="1309.5" y="920.0" width="20" height="69.0" fill="#9a978f"/>
<rect x="1430.0" y="909.0" width="8" height="232.0" fill="#cfcec9"/>
<path d="M1289.5,911.0v26 M1296.5,909.0v30" stroke="#dedcd6" stroke-width="2.2"/>
<linearGradient id="lq7" x1="0" y1="0" x2="1" y2="0"><stop offset="0" stop-color="rgb(10,24,22)"/><stop offset="0.1" stop-color="rgb(18,44,40)"/><stop offset="0.28" stop-color="rgb(24,58,52)"/><stop offset="0.62" stop-color="rgb(27,75,66)"/><stop offset="0.9" stop-color="rgb(30,92,80)"/><stop offset="1" stop-color="rgb(20,58,51)"/></linearGradient>
<path d="M1278.5,989.0 L1438.0,989.0 L1438.0,1164.0 Q1438.0,1175.0 1424.0,1175.0 L1292.5,1175.0 Q1278.5,1175.0 1278.5,1164.0 Z" fill="url(#lq7)"/>
<rect x="1310.4" y="999.0" width="12.8" height="115" fill="#000" opacity="0.07" filter="url(#blur4)"/>
<rect x="1345.5" y="999.0" width="12.8" height="115" fill="#000" opacity="0.05" filter="url(#blur4)"/>
<rect x="1390.2" y="999.0" width="12.8" height="115" fill="#000" opacity="0.05" filter="url(#blur4)"/>
<rect x="1278.5" y="989.0" width="159.5" height="16" fill="url(#menis)"/>
<rect x="1278.5" y="985.0" width="159.5" height="6" fill="rgb(85,75,64)"/>
<path d="M1286.5,984.0 L1430.0,984.0" stroke="#d8d4cc" stroke-width="1.5" opacity="0.7"/>
<path d="M1278.5,1164.0 L1278.5,1139.0 Q1304.0,1149.0 1333.5,1122.0 Q1354.7,1147.0 1375.8,1128.0 Q1385.4,1161.0 1407.7,1164.0 L1438.0,1166.0 L1438.0,1164.0 Q1438.0,1173.0 1424.0,1173.0 L1292.5,1173.0 Q1278.5,1173.0 1278.5,1164.0 Z" fill="rgb(90,106,104)"/>
<rect x="1272.5" y="1174.0" width="172.5" height="9" fill="#e6eeee"/>
<path d="M1283.5,1175.0 L1433.0,1175.0" stroke="#c4cccc" stroke-width="2.5"/>
<path d="M1279.5,733.0 Q1279.5,723.0 1289.5,723.0 L1428.0,723.0 Q1438.0,723.0 1438.0,733.0 L1438.0,811.0 Q1438.0,815.0 1434.0,815.0 L1283.5,815.0 Q1279.5,815.0 1279.5,811.0 Z" fill="url(#capg)"/>
<path d="M1279.5,733.0 Q1279.5,723.0 1289.5,723.0 L1428.0,723.0 Q1438.0,723.0 1438.0,733.0 L1438.0,811.0 Q1438.0,815.0 1434.0,815.0 L1283.5,815.0 Q1279.5,815.0 1279.5,811.0 Z" fill="url(#capv)"/>
<rect x="1311.2" y="733.0" width="2.2" height="74" fill="#1558b8" opacity="0.25"/>
<rect x="1327.0" y="733.0" width="2.2" height="74" fill="#1558b8" opacity="0.25"/>
<rect x="1368.3" y="733.0" width="2.2" height="74" fill="#1558b8" opacity="0.25"/>
<rect x="1387.3" y="733.0" width="2.2" height="74" fill="#1558b8" opacity="0.25"/>
<rect x="1406.3" y="733.0" width="2.2" height="74" fill="#1558b8" opacity="0.25"/>
</g></g>
<clipPath id="clp8"><rect x="1445.0" y="718.5" width="170.0" height="464.5"/></clipPath>
<g clip-path="url(#clp8)"><g filter="url(#soft)">
<rect x="1442.0" y="715.5" width="176.0" height="470.5" fill="url(#wallg)"/>
<rect x="1445.0" y="718.5" width="170.0" height="52" fill="#161514"/>
<rect x="1445.0" y="770.5" width="170.0" height="13" fill="#bdb2a0"/>
<path d="M1474.0,815.0 L1595.0,815.0 L1595.0,846.5 C1595.0,876.5 1609.0,871.5 1609.0,900.5 L1609.0,1164.0 Q1609.0,1176.0 1595.0,1176.0 L1464.0,1176.0 Q1450.0,1176.0 1450.0,1164.0 L1450.0,900.5 C1450.0,871.5 1474.0,876.5 1474.0,846.5 Z" fill="url(#glassg)" stroke="#dcdad4" stroke-width="1.4"/>
<path d="M1586.0,815.0 L1586.0,846.5 C1586.0,876.5 1602.0,871.5 1602.0,900.5 L1602.0,907.0" fill="none" stroke="#ecebe6" stroke-width="2.4"/>
<path d="M1591.0,815.0 L1591.0,846.5 C1591.0,876.5 1607.0,871.5 1607.0,900.5" fill="none" stroke="#46433f" stroke-width="1.5"/>
<path d="M1487.0,856.5 q-9,16 -15,40 l6,2 q5,-22 14,-38 z" fill="#3a3733"/>
<path d="M1485.0,905.5 q30,-8 60,-2 q20,3 36,-2" stroke="#5a5650" stroke-width="3" fill="none" stroke-dasharray="10 7"/>
<ellipse cx="1518.0" cy="884.5" rx="3" ry="12" fill="#f4f4f2"/>
<ellipse cx="1542.0" cy="862.5" rx="4.5" ry="5" fill="#eef3f4"/>
<ellipse cx="1545.0" cy="895.5" rx="5.5" ry="5" fill="#eef3f4"/>
<path d="M1492.0,878.5 l10,-7 M1490.0,893.5 l12,5" stroke="#eeeeea" stroke-width="2"/>
<rect x="1482.0" y="907.0" width="118.0" height="82.0" fill="#cfd1d0"/>
<rect x="1482.0" y="907.0" width="118.0" height="82.0" fill="url(#labg)" opacity="0.25"/>
<rect x="1482.0" y="920.0" width="20" height="69.0" fill="#9a978f"/>
<rect x="1600.0" y="909.0" width="8" height="232.0" fill="#cfcec9"/>
<path d="M1462.0,911.0v26 M1469.0,909.0v30" stroke="#dedcd6" stroke-width="2.2"/>
<linearGradient id="lq8" x1="0" y1="0" x2="1" y2="0"><stop offset="0" stop-color="rgb(18,28,22)"/><stop offset="0.1" stop-color="rgb(31,51,40)"/><stop offset="0.28" stop-color="rgb(40,66,52)"/><stop offset="0.62" stop-color="rgb(48,74,57)"/><stop offset="0.9" stop-color="rgb(56,82,62)"/><stop offset="1" stop-color="rgb(37,55,42)"/></linearGradient>
<path d="M1451.0,989.0 L1608.0,989.0 L1608.0,1164.0 Q1608.0,1175.0 1594.0,1175.0 L1465.0,1175.0 Q1451.0,1175.0 1451.0,1164.0 Z" fill="url(#lq8)"/>
<rect x="1482.4" y="999.0" width="12.6" height="115" fill="#000" opacity="0.07" filter="url(#blur4)"/>
<rect x="1516.9" y="999.0" width="12.6" height="115" fill="#000" opacity="0.05" filter="url(#blur4)"/>
<rect x="1560.9" y="999.0" width="12.6" height="115" fill="#000" opacity="0.05" filter="url(#blur4)"/>
<rect x="1451.0" y="989.0" width="157.0" height="16" fill="url(#menis)"/>
<rect x="1451.0" y="985.0" width="157.0" height="6" fill="rgb(87,76,64)"/>
<path d="M1459.0,984.0 L1600.0,984.0" stroke="#d8d4cc" stroke-width="1.5" opacity="0.7"/>
<path d="M1451.0,1164.0 L1451.0,1139.0 Q1476.1,1149.0 1505.2,1122.0 Q1526.0,1147.0 1546.8,1128.0 Q1556.2,1161.0 1578.2,1164.0 L1608.0,1166.0 L1608.0,1164.0 Q1608.0,1173.0 1594.0,1173.0 L1465.0,1173.0 Q1451.0,1173.0 1451.0,1164.0 Z" fill="rgb(99,109,106)"/>
<rect x="1445.0" y="1174.0" width="170.0" height="9" fill="#e6eeee"/>
<path d="M1456.0,1175.0 L1603.0,1175.0" stroke="#c4cccc" stroke-width="2.5"/>
<path d="M1452.0,733.0 Q1452.0,723.0 1462.0,723.0 L1598.0,723.0 Q1608.0,723.0 1608.0,733.0 L1608.0,811.0 Q1608.0,815.0 1604.0,815.0 L1456.0,815.0 Q1452.0,815.0 1452.0,811.0 Z" fill="url(#capg)"/>
<path d="M1452.0,733.0 Q1452.0,723.0 1462.0,723.0 L1598.0,723.0 Q1608.0,723.0 1608.0,733.0 L1608.0,811.0 Q1608.0,815.0 1604.0,815.0 L1456.0,815.0 Q1452.0,815.0 1452.0,811.0 Z" fill="url(#capv)"/>
<rect x="1483.2" y="733.0" width="2.2" height="74" fill="#1558b8" opacity="0.25"/>
<rect x="1498.8" y="733.0" width="2.2" height="74" fill="#1558b8" opacity="0.25"/>
<rect x="1539.4" y="733.0" width="2.2" height="74" fill="#1558b8" opacity="0.25"/>
<rect x="1558.1" y="733.0" width="2.2" height="74" fill="#1558b8" opacity="0.25"/>
<rect x="1576.8" y="733.0" width="2.2" height="74" fill="#1558b8" opacity="0.25"/>
</g></g>
<rect x="1102.2" y="718.5" width="1.6" height="464.5" fill="#8a8a86"/>
<rect x="1271.7" y="718.5" width="1.6" height="464.5" fill="#8a8a86"/>
<rect x="1444.2" y="718.5" width="1.6" height="464.5" fill="#8a8a86"/>
<clipPath id="clp9"><rect x="1721.0" y="718.5" width="171.5" height="463.5"/></clipPath>
<g clip-path="url(#clp9)"><g filter="url(#soft)">
<rect x="1718.0" y="715.5" width="177.5" height="469.5" fill="url(#wallg)"/>
<rect x="1721.0" y="718.5" width="171.5" height="52" fill="#161514"/>
<rect x="1721.0" y="770.5" width="171.5" height="13" fill="#bdb2a0"/>
<path d="M1750.0,815.0 L1872.5,815.0 L1872.5,846.5 C1872.5,876.5 1886.5,871.5 1886.5,900.5 L1886.5,1163.0 Q1886.5,1175.0 1872.5,1175.0 L1740.0,1175.0 Q1726.0,1175.0 1726.0,1163.0 L1726.0,900.5 C1726.0,871.5 1750.0,876.5 1750.0,846.5 Z" fill="url(#glassg)" stroke="#dcdad4" stroke-width="1.4"/>
<path d="M1863.5,815.0 L1863.5,846.5 C1863.5,876.5 1879.5,871.5 1879.5,900.5 L1879.5,914.0" fill="none" stroke="#ecebe6" stroke-width="2.4"/>
<path d="M1868.5,815.0 L1868.5,846.5 C1868.5,876.5 1884.5,871.5 1884.5,900.5" fill="none" stroke="#46433f" stroke-width="1.5"/>
<path d="M1763.0,856.5 q-9,16 -15,40 l6,2 q5,-22 14,-38 z" fill="#3a3733"/>
<path d="M1761.0,905.5 q30,-8 60,-2 q20,3 36,-2" stroke="#5a5650" stroke-width="3" fill="none" stroke-dasharray="10 7"/>
<ellipse cx="1794.8" cy="884.5" rx="3" ry="12" fill="#f4f4f2"/>
<ellipse cx="1818.8" cy="862.5" rx="4.5" ry="5" fill="#eef3f4"/>
<ellipse cx="1821.8" cy="895.5" rx="5.5" ry="5" fill="#eef3f4"/>
<path d="M1768.8,878.5 l10,-7 M1766.8,893.5 l12,5" stroke="#eeeeea" stroke-width="2"/>
<rect x="1766.0" y="914.0" width="111.5" height="85.0" fill="#d6d6d2"/>
<rect x="1766.0" y="914.0" width="111.5" height="85.0" fill="url(#labg)" opacity="0.25"/>
<rect x="1766.0" y="927.0" width="20" height="72.0" fill="#9a978f"/>
<rect x="1877.5" y="916.0" width="8" height="235.0" fill="#cfcec9"/>
<path d="M1738.0,918.0v26 M1745.0,916.0v30" stroke="#dedcd6" stroke-width="2.2"/>
<linearGradient id="lq9" x1="0" y1="0" x2="1" y2="0"><stop offset="0" stop-color="rgb(14,40,74)"/><stop offset="0.1" stop-color="rgb(16,74,82)"/><stop offset="0.28" stop-color="rgb(18,96,88)"/><stop offset="0.62" stop-color="rgb(20,107,92)"/><stop offset="0.9" stop-color="rgb(22,118,96)"/><stop offset="1" stop-color="rgb(18,79,85)"/></linearGradient>
<path d="M1727.0,999.0 L1885.5,999.0 L1885.5,1163.0 Q1885.5,1174.0 1871.5,1174.0 L1741.0,1174.0 Q1727.0,1174.0 1727.0,1163.0 Z" fill="url(#lq9)"/>
<rect x="1758.7" y="1009.0" width="12.7" height="115" fill="#000" opacity="0.07" filter="url(#blur4)"/>
<rect x="1793.6" y="1009.0" width="12.7" height="115" fill="#000" opacity="0.05" filter="url(#blur4)"/>
<rect x="1838.0" y="1009.0" width="12.7" height="115" fill="#000" opacity="0.05" filter="url(#blur4)"/>
<rect x="1727.0" y="999.0" width="158.5" height="16" fill="url(#menis)"/>
<rect x="1727.0" y="995.0" width="158.5" height="6" fill="rgb(86,79,77)"/>
<path d="M1735.0,994.0 L1877.5,994.0" stroke="#d8d4cc" stroke-width="1.5" opacity="0.7"/>
<path d="M1727.0,1163.0 L1727.0,1149.0 Q1752.4,1159.0 1781.7,1132.0 Q1802.7,1157.0 1823.7,1138.0 Q1833.2,1171.0 1855.4,1174.0 L1885.5,1176.0 L1885.5,1163.0 Q1885.5,1172.0 1871.5,1172.0 L1741.0,1172.0 Q1727.0,1172.0 1727.0,1163.0 Z" fill="rgb(108,136,162)"/>
<rect x="1721.0" y="1173.0" width="171.5" height="9" fill="#e6eeee"/>
<path d="M1732.0,1174.0 L1880.5,1174.0" stroke="#c4cccc" stroke-width="2.5"/>
<path d="M1728.0,733.0 Q1728.0,723.0 1738.0,723.0 L1875.5,723.0 Q1885.5,723.0 1885.5,733.0 L1885.5,811.0 Q1885.5,815.0 1881.5,815.0 L1732.0,815.0 Q1728.0,815.0 1728.0,811.0 Z" fill="url(#capg)"/>
<path d="M1728.0,733.0 Q1728.0,723.0 1738.0,723.0 L1875.5,723.0 Q1885.5,723.0 1885.5,733.0 L1885.5,811.0 Q1885.5,815.0 1881.5,815.0 L1732.0,815.0 Q1728.0,815.0 1728.0,811.0 Z" fill="url(#capv)"/>
<rect x="1759.5" y="733.0" width="2.2" height="74" fill="#1558b8" opacity="0.25"/>
<rect x="1775.2" y="733.0" width="2.2" height="74" fill="#1558b8" opacity="0.25"/>
<rect x="1816.2" y="733.0" width="2.2" height="74" fill="#1558b8" opacity="0.25"/>
<rect x="1835.1" y="733.0" width="2.2" height="74" fill="#1558b8" opacity="0.25"/>
<rect x="1854.0" y="733.0" width="2.2" height="74" fill="#1558b8" opacity="0.25"/>
</g></g>
<clipPath id="clp10"><rect x="1892.5" y="718.5" width="172.5" height="463.5"/></clipPath>
<g clip-path="url(#clp10)"><g filter="url(#soft)">
<rect x="1889.5" y="715.5" width="178.5" height="469.5" fill="url(#wallg)"/>
<rect x="1892.5" y="718.5" width="172.5" height="52" fill="#161514"/>
<rect x="1892.5" y="770.5" width="172.5" height="13" fill="#bdb2a0"/>
<path d="M1921.5,815.0 L2045.0,815.0 L2045.0,846.5 C2045.0,876.5 2059.0,871.5 2059.0,900.5 L2059.0,1163.0 Q2059.0,1175.0 2045.0,1175.0 L1911.5,1175.0 Q1897.5,1175.0 1897.5,1163.0 L1897.5,900.5 C1897.5,871.5 1921.5,876.5 1921.5,846.5 Z" fill="url(#glassg)" stroke="#dcdad4" stroke-width="1.4"/>
<path d="M2036.0,815.0 L2036.0,846.5 C2036.0,876.5 2052.0,871.5 2052.0,900.5 L2052.0,914.0" fill="none" stroke="#ecebe6" stroke-width="2.4"/>
<path d="M2041.0,815.0 L2041.0,846.5 C2041.0,876.5 2057.0,871.5 2057.0,900.5" fill="none" stroke="#46433f" stroke-width="1.5"/>
<path d="M1934.5,856.5 q-9,16 -15,40 l6,2 q5,-22 14,-38 z" fill="#3a3733"/>
<path d="M1932.5,905.5 q30,-8 60,-2 q20,3 36,-2" stroke="#5a5650" stroke-width="3" fill="none" stroke-dasharray="10 7"/>
<ellipse cx="1966.8" cy="884.5" rx="3" ry="12" fill="#f4f4f2"/>
<ellipse cx="1990.8" cy="862.5" rx="4.5" ry="5" fill="#eef3f4"/>
<ellipse cx="1993.8" cy="895.5" rx="5.5" ry="5" fill="#eef3f4"/>
<path d="M1940.8,878.5 l10,-7 M1938.8,893.5 l12,5" stroke="#eeeeea" stroke-width="2"/>
<rect x="1937.5" y="914.0" width="112.5" height="85.0" fill="#d6d6d2"/>
<rect x="1937.5" y="914.0" width="112.5" height="85.0" fill="url(#labg)" opacity="0.25"/>
<rect x="1937.5" y="927.0" width="20" height="72.0" fill="#9a978f"/>
<rect x="2050.0" y="916.0" width="8" height="235.0" fill="#cfcec9"/>
<path d="M1909.5,918.0v26 M1916.5,916.0v30" stroke="#dedcd6" stroke-width="2.2"/>
<linearGradient id="lq10" x1="0" y1="0" x2="1" y2="0"><stop offset="0" stop-color="rgb(14,50,44)"/><stop offset="0.1" stop-color="rgb(30,103,60)"/><stop offset="0.28" stop-color="rgb(40,138,70)"/><stop offset="0.62" stop-color="rgb(42,153,66)"/><stop offset="0.9" stop-color="rgb(44,168,62)"/><stop offset="1" stop-color="rgb(29,109,53)"/></linearGradient>
<path d="M1898.5,999.0 L2058.0,999.0 L2058.0,1163.0 Q2058.0,1174.0 2044.0,1174.0 L1912.5,1174.0 Q1898.5,1174.0 1898.5,1163.0 Z" fill="url(#lq10)"/>
<rect x="1930.4" y="1009.0" width="12.8" height="115" fill="#000" opacity="0.07" filter="url(#blur4)"/>
<rect x="1965.5" y="1009.0" width="12.8" height="115" fill="#000" opacity="0.05" filter="url(#blur4)"/>
<rect x="2010.2" y="1009.0" width="12.8" height="115" fill="#000" opacity="0.05" filter="url(#blur4)"/>
<rect x="1898.5" y="999.0" width="159.5" height="16" fill="url(#menis)"/>
<rect x="1898.5" y="995.0" width="159.5" height="6" fill="rgb(86,82,70)"/>
<path d="M1906.5,994.0 L2050.0,994.0" stroke="#d8d4cc" stroke-width="1.5" opacity="0.7"/>
<path d="M1898.5,1163.0 L1898.5,1149.0 Q1924.0,1159.0 1953.5,1132.0 Q1974.7,1157.0 1995.8,1138.0 Q2005.4,1171.0 2027.7,1174.0 L2058.0,1176.0 L2058.0,1163.0 Q2058.0,1172.0 2044.0,1172.0 L1912.5,1172.0 Q1898.5,1172.0 1898.5,1163.0 Z" fill="rgb(118,152,145)"/>
<rect x="1892.5" y="1173.0" width="172.5" height="9" fill="#e6eeee"/>
<path d="M1903.5,1174.0 L2053.0,1174.0" stroke="#c4cccc" stroke-width="2.5"/>
<path d="M1899.5,733.0 Q1899.5,723.0 1909.5,723.0 L2048.0,723.0 Q2058.0,723.0 2058.0,733.0 L2058.0,811.0 Q2058.0,815.0 2054.0,815.0 L1903.5,815.0 Q1899.5,815.0 1899.5,811.0 Z" fill="url(#capg)"/>
<path d="M1899.5,733.0 Q1899.5,723.0 1909.5,723.0 L2048.0,723.0 Q2058.0,723.0 2058.0,733.0 L2058.0,811.0 Q2058.0,815.0 2054.0,815.0 L1903.5,815.0 Q1899.5,815.0 1899.5,811.0 Z" fill="url(#capv)"/>
<rect x="1931.2" y="733.0" width="2.2" height="74" fill="#1558b8" opacity="0.25"/>
<rect x="1947.0" y="733.0" width="2.2" height="74" fill="#1558b8" opacity="0.25"/>
<rect x="1988.3" y="733.0" width="2.2" height="74" fill="#1558b8" opacity="0.25"/>
<rect x="2007.3" y="733.0" width="2.2" height="74" fill="#1558b8" opacity="0.25"/>
<rect x="2026.3" y="733.0" width="2.2" height="74" fill="#1558b8" opacity="0.25"/>
</g></g>
<clipPath id="clp11"><rect x="2065.0" y="718.5" width="170.0" height="463.5"/></clipPath>
<g clip-path="url(#clp11)"><g filter="url(#soft)">
<rect x="2062.0" y="715.5" width="176.0" height="469.5" fill="url(#wallg)"/>
<rect x="2065.0" y="718.5" width="170.0" height="52" fill="#161514"/>
<rect x="2065.0" y="770.5" width="170.0" height="13" fill="#bdb2a0"/>
<path d="M2094.0,815.0 L2215.0,815.0 L2215.0,846.5 C2215.0,876.5 2229.0,871.5 2229.0,900.5 L2229.0,1163.0 Q2229.0,1175.0 2215.0,1175.0 L2084.0,1175.0 Q2070.0,1175.0 2070.0,1163.0 L2070.0,900.5 C2070.0,871.5 2094.0,876.5 2094.0,846.5 Z" fill="url(#glassg)" stroke="#dcdad4" stroke-width="1.4"/>
<path d="M2206.0,815.0 L2206.0,846.5 C2206.0,876.5 2222.0,871.5 2222.0,900.5 L2222.0,914.0" fill="none" stroke="#ecebe6" stroke-width="2.4"/>
<path d="M2211.0,815.0 L2211.0,846.5 C2211.0,876.5 2227.0,871.5 2227.0,900.5" fill="none" stroke="#46433f" stroke-width="1.5"/>
<path d="M2107.0,856.5 q-9,16 -15,40 l6,2 q5,-22 14,-38 z" fill="#3a3733"/>
<path d="M2105.0,905.5 q30,-8 60,-2 q20,3 36,-2" stroke="#5a5650" stroke-width="3" fill="none" stroke-dasharray="10 7"/>
<ellipse cx="2138.0" cy="884.5" rx="3" ry="12" fill="#f4f4f2"/>
<ellipse cx="2162.0" cy="862.5" rx="4.5" ry="5" fill="#eef3f4"/>
<ellipse cx="2165.0" cy="895.5" rx="5.5" ry="5" fill="#eef3f4"/>
<path d="M2112.0,878.5 l10,-7 M2110.0,893.5 l12,5" stroke="#eeeeea" stroke-width="2"/>
<rect x="2110.0" y="914.0" width="110.0" height="85.0" fill="#d6d6d2"/>
<rect x="2110.0" y="914.0" width="110.0" height="85.0" fill="url(#labg)" opacity="0.25"/>
<rect x="2110.0" y="927.0" width="20" height="72.0" fill="#9a978f"/>
<rect x="2220.0" y="916.0" width="8" height="235.0" fill="#cfcec9"/>
<path d="M2082.0,918.0v26 M2089.0,916.0v30" stroke="#dedcd6" stroke-width="2.2"/>
<linearGradient id="lq11" x1="0" y1="0" x2="1" y2="0"><stop offset="0" stop-color="rgb(30,68,40)"/><stop offset="0.1" stop-color="rgb(66,117,41)"/><stop offset="0.28" stop-color="rgb(90,150,42)"/><stop offset="0.62" stop-color="rgb(106,164,41)"/><stop offset="0.9" stop-color="rgb(122,178,40)"/><stop offset="1" stop-color="rgb(76,123,40)"/></linearGradient>
<path d="M2071.0,999.0 L2228.0,999.0 L2228.0,1163.0 Q2228.0,1174.0 2214.0,1174.0 L2085.0,1174.0 Q2071.0,1174.0 2071.0,1163.0 Z" fill="url(#lq11)"/>
<rect x="2102.4" y="1009.0" width="12.6" height="115" fill="#000" opacity="0.07" filter="url(#blur4)"/>
<rect x="2136.9" y="1009.0" width="12.6" height="115" fill="#000" opacity="0.05" filter="url(#blur4)"/>
<rect x="2180.9" y="1009.0" width="12.6" height="115" fill="#000" opacity="0.05" filter="url(#blur4)"/>
<rect x="2071.0" y="999.0" width="157.0" height="16" fill="url(#menis)"/>
<rect x="2071.0" y="995.0" width="157.0" height="6" fill="rgb(90,86,68)"/>
<path d="M2079.0,994.0 L2220.0,994.0" stroke="#d8d4cc" stroke-width="1.5" opacity="0.7"/>
<path d="M2071.0,1163.0 L2071.0,1149.0 Q2096.1,1159.0 2125.2,1132.0 Q2146.0,1157.0 2166.8,1138.0 Q2176.2,1171.0 2198.2,1174.0 L2228.0,1176.0 L2228.0,1163.0 Q2228.0,1172.0 2214.0,1172.0 L2085.0,1172.0 Q2071.0,1172.0 2071.0,1163.0 Z" fill="rgb(133,152,137)"/>
<rect x="2065.0" y="1173.0" width="170.0" height="9" fill="#e6eeee"/>
<path d="M2076.0,1174.0 L2223.0,1174.0" stroke="#c4cccc" stroke-width="2.5"/>
<path d="M2072.0,733.0 Q2072.0,723.0 2082.0,723.0 L2218.0,723.0 Q2228.0,723.0 2228.0,733.0 L2228.0,811.0 Q2228.0,815.0 2224.0,815.0 L2076.0,815.0 Q2072.0,815.0 2072.0,811.0 Z" fill="url(#capg)"/>
<path d="M2072.0,733.0 Q2072.0,723.0 2082.0,723.0 L2218.0,723.0 Q2228.0,723.0 2228.0,733.0 L2228.0,811.0 Q2228.0,815.0 2224.0,815.0 L2076.0,815.0 Q2072.0,815.0 2072.0,811.0 Z" fill="url(#capv)"/>
<rect x="2103.2" y="733.0" width="2.2" height="74" fill="#1558b8" opacity="0.25"/>
<rect x="2118.8" y="733.0" width="2.2" height="74" fill="#1558b8" opacity="0.25"/>
<rect x="2159.4" y="733.0" width="2.2" height="74" fill="#1558b8" opacity="0.25"/>
<rect x="2178.1" y="733.0" width="2.2" height="74" fill="#1558b8" opacity="0.25"/>
<rect x="2196.8" y="733.0" width="2.2" height="74" fill="#1558b8" opacity="0.25"/>
</g></g>
<clipPath id="clp12"><rect x="2235.0" y="718.5" width="169.0" height="463.5"/></clipPath>
<g clip-path="url(#clp12)"><g filter="url(#soft)">
<rect x="2232.0" y="715.5" width="175.0" height="469.5" fill="url(#wallg)"/>
<rect x="2235.0" y="718.5" width="169.0" height="52" fill="#161514"/>
<rect x="2235.0" y="770.5" width="169.0" height="13" fill="#bdb2a0"/>
<path d="M2264.0,815.0 L2384.0,815.0 L2384.0,846.5 C2384.0,876.5 2398.0,871.5 2398.0,900.5 L2398.0,1163.0 Q2398.0,1175.0 2384.0,1175.0 L2254.0,1175.0 Q2240.0,1175.0 2240.0,1163.0 L2240.0,900.5 C2240.0,871.5 2264.0,876.5 2264.0,846.5 Z" fill="url(#glassg)" stroke="#dcdad4" stroke-width="1.4"/>
<path d="M2375.0,815.0 L2375.0,846.5 C2375.0,876.5 2391.0,871.5 2391.0,900.5 L2391.0,914.0" fill="none" stroke="#ecebe6" stroke-width="2.4"/>
<path d="M2380.0,815.0 L2380.0,846.5 C2380.0,876.5 2396.0,871.5 2396.0,900.5" fill="none" stroke="#46433f" stroke-width="1.5"/>
<path d="M2277.0,856.5 q-9,16 -15,40 l6,2 q5,-22 14,-38 z" fill="#3a3733"/>
<path d="M2275.0,905.5 q30,-8 60,-2 q20,3 36,-2" stroke="#5a5650" stroke-width="3" fill="none" stroke-dasharray="10 7"/>
<ellipse cx="2307.5" cy="884.5" rx="3" ry="12" fill="#f4f4f2"/>
<ellipse cx="2331.5" cy="862.5" rx="4.5" ry="5" fill="#eef3f4"/>
<ellipse cx="2334.5" cy="895.5" rx="5.5" ry="5" fill="#eef3f4"/>
<path d="M2281.5,878.5 l10,-7 M2279.5,893.5 l12,5" stroke="#eeeeea" stroke-width="2"/>
<rect x="2280.0" y="914.0" width="109.0" height="85.0" fill="#d6d6d2"/>
<rect x="2280.0" y="914.0" width="109.0" height="85.0" fill="url(#labg)" opacity="0.25"/>
<rect x="2280.0" y="927.0" width="20" height="72.0" fill="#9a978f"/>
<rect x="2389.0" y="916.0" width="8" height="235.0" fill="#cfcec9"/>
<path d="M2252.0,918.0v26 M2259.0,916.0v30" stroke="#dedcd6" stroke-width="2.2"/>
<linearGradient id="lq12" x1="0" y1="0" x2="1" y2="0"><stop offset="0" stop-color="rgb(40,70,46)"/><stop offset="0.1" stop-color="rgb(88,88,46)"/><stop offset="0.28" stop-color="rgb(120,100,46)"/><stop offset="0.62" stop-color="rgb(130,103,47)"/><stop offset="0.9" stop-color="rgb(140,106,48)"/><stop offset="1" stop-color="rgb(90,88,47)"/></linearGradient>
<path d="M2241.0,999.0 L2397.0,999.0 L2397.0,1163.0 Q2397.0,1174.0 2383.0,1174.0 L2255.0,1174.0 Q2241.0,1174.0 2241.0,1163.0 Z" fill="url(#lq12)"/>
<rect x="2272.2" y="1009.0" width="12.5" height="115" fill="#000" opacity="0.07" filter="url(#blur4)"/>
<rect x="2306.5" y="1009.0" width="12.5" height="115" fill="#000" opacity="0.05" filter="url(#blur4)"/>
<rect x="2350.2" y="1009.0" width="12.5" height="115" fill="#000" opacity="0.05" filter="url(#blur4)"/>
<rect x="2241.0" y="999.0" width="156.0" height="16" fill="url(#menis)"/>
<rect x="2241.0" y="995.0" width="156.0" height="6" fill="rgb(92,86,70)"/>
<path d="M2249.0,994.0 L2389.0,994.0" stroke="#d8d4cc" stroke-width="1.5" opacity="0.7"/>
<path d="M2241.0,1163.0 L2241.0,1149.0 Q2266.0,1159.0 2294.8,1132.0 Q2315.5,1157.0 2336.2,1138.0 Q2345.5,1171.0 2367.4,1174.0 L2397.0,1176.0 L2397.0,1163.0 Q2397.0,1172.0 2383.0,1172.0 L2255.0,1172.0 Q2241.0,1172.0 2241.0,1163.0 Z" fill="rgb(135,143,137)"/>
<rect x="2235.0" y="1173.0" width="169.0" height="9" fill="#e6eeee"/>
<path d="M2246.0,1174.0 L2392.0,1174.0" stroke="#c4cccc" stroke-width="2.5"/>
<path d="M2242.0,733.0 Q2242.0,723.0 2252.0,723.0 L2387.0,723.0 Q2397.0,723.0 2397.0,733.0 L2397.0,811.0 Q2397.0,815.0 2393.0,815.0 L2246.0,815.0 Q2242.0,815.0 2242.0,811.0 Z" fill="url(#capg)"/>
<path d="M2242.0,733.0 Q2242.0,723.0 2252.0,723.0 L2387.0,723.0 Q2397.0,723.0 2397.0,733.0 L2397.0,811.0 Q2397.0,815.0 2393.0,815.0 L2246.0,815.0 Q2242.0,815.0 2242.0,811.0 Z" fill="url(#capv)"/>
<rect x="2273.0" y="733.0" width="2.2" height="74" fill="#1558b8" opacity="0.25"/>
<rect x="2288.5" y="733.0" width="2.2" height="74" fill="#1558b8" opacity="0.25"/>
<rect x="2328.8" y="733.0" width="2.2" height="74" fill="#1558b8" opacity="0.25"/>
<rect x="2347.4" y="733.0" width="2.2" height="74" fill="#1558b8" opacity="0.25"/>
<rect x="2366.0" y="733.0" width="2.2" height="74" fill="#1558b8" opacity="0.25"/>
</g></g>
<rect x="1891.7" y="718.5" width="1.6" height="463.5" fill="#8a8a86"/>
<rect x="2064.2" y="718.5" width="1.6" height="463.5" fill="#8a8a86"/>
<rect x="2234.2" y="718.5" width="1.6" height="463.5" fill="#8a8a86"/>
<clipPath id="clp13"><rect x="135.0" y="1885.5" width="171.0" height="463.5"/></clipPath>
<g clip-path="url(#clp13)"><g filter="url(#soft)">
<rect x="132.0" y="1882.5" width="177.0" height="469.5" fill="url(#wallg)"/>
<rect x="135.0" y="1885.5" width="171.0" height="52" fill="#161514"/>
<rect x="135.0" y="1937.5" width="171.0" height="13" fill="#bdb2a0"/>
<path d="M164.0,1982.0 L286.0,1982.0 L286.0,2013.5 C286.0,2043.5 300.0,2038.5 300.0,2067.5 L300.0,2330.0 Q300.0,2342.0 286.0,2342.0 L154.0,2342.0 Q140.0,2342.0 140.0,2330.0 L140.0,2067.5 C140.0,2038.5 164.0,2043.5 164.0,2013.5 Z" fill="url(#glassg)" stroke="#dcdad4" stroke-width="1.4"/>
<path d="M277.0,1982.0 L277.0,2013.5 C277.0,2043.5 293.0,2038.5 293.0,2067.5 L293.0,2080.0" fill="none" stroke="#ecebe6" stroke-width="2.4"/>
<path d="M282.0,1982.0 L282.0,2013.5 C282.0,2043.5 298.0,2038.5 298.0,2067.5" fill="none" stroke="#46433f" stroke-width="1.5"/>
<path d="M177.0,2023.5 q-9,16 -15,40 l6,2 q5,-22 14,-38 z" fill="#3a3733"/>
<path d="M175.0,2072.5 q30,-8 60,-2 q20,3 36,-2" stroke="#5a5650" stroke-width="3" fill="none" stroke-dasharray="10 7"/>
<ellipse cx="208.5" cy="2051.5" rx="3" ry="12" fill="#f4f4f2"/>
<ellipse cx="232.5" cy="2029.5" rx="4.5" ry="5" fill="#eef3f4"/>
<ellipse cx="235.5" cy="2062.5" rx="5.5" ry="5" fill="#eef3f4"/>
<path d="M182.5,2045.5 l10,-7 M180.5,2060.5 l12,5" stroke="#eeeeea" stroke-width="2"/>
<rect x="172.0" y="2080.0" width="119.0" height="82.0" fill="#c6c6c2"/>
<rect x="172.0" y="2080.0" width="119.0" height="82.0" fill="url(#labg)" opacity="0.25"/>
<rect x="172.0" y="2093.0" width="20" height="69.0" fill="#9a978f"/>
<rect x="291.0" y="2082.0" width="8" height="232.0" fill="#cfcec9"/>
<path d="M152.0,2084.0v26 M159.0,2082.0v30" stroke="#dedcd6" stroke-width="2.2"/>
<linearGradient id="lq13" x1="0" y1="0" x2="1" y2="0"><stop offset="0" stop-color="rgb(10,28,48)"/><stop offset="0.1" stop-color="rgb(16,51,74)"/><stop offset="0.28" stop-color="rgb(20,66,92)"/><stop offset="0.62" stop-color="rgb(19,75,97)"/><stop offset="0.9" stop-color="rgb(18,84,102)"/><stop offset="1" stop-color="rgb(14,56,75)"/></linearGradient>
<path d="M141.0,2162.0 L299.0,2162.0 L299.0,2330.0 Q299.0,2341.0 285.0,2341.0 L155.0,2341.0 Q141.0,2341.0 141.0,2330.0 Z" fill="url(#lq13)"/>
<rect x="172.6" y="2172.0" width="12.6" height="115" fill="#000" opacity="0.07" filter="url(#blur4)"/>
<rect x="207.4" y="2172.0" width="12.6" height="115" fill="#000" opacity="0.05" filter="url(#blur4)"/>
<rect x="251.6" y="2172.0" width="12.6" height="115" fill="#000" opacity="0.05" filter="url(#blur4)"/>
<rect x="141.0" y="2162.0" width="158.0" height="16" fill="url(#menis)"/>
<rect x="141.0" y="2158.0" width="158.0" height="6" fill="rgb(85,76,70)"/>
<path d="M149.0,2157.0 L291.0,2157.0" stroke="#d8d4cc" stroke-width="1.5" opacity="0.7"/>
<path d="M141.0,2330.0 L141.0,2312.0 Q166.3,2322.0 195.5,2295.0 Q216.4,2320.0 237.4,2301.0 Q246.9,2334.0 269.0,2337.0 L299.0,2339.0 L299.0,2330.0 Q299.0,2339.0 285.0,2339.0 L155.0,2339.0 Q141.0,2339.0 141.0,2330.0 Z" fill="rgb(101,128,155)"/>
<rect x="135.0" y="2340.0" width="171.0" height="9" fill="#e6eeee"/>
<path d="M146.0,2341.0 L294.0,2341.0" stroke="#c4cccc" stroke-width="2.5"/>
<path d="M142.0,1900.0 Q142.0,1890.0 152.0,1890.0 L289.0,1890.0 Q299.0,1890.0 299.0,1900.0 L299.0,1978.0 Q299.0,1982.0 295.0,1982.0 L146.0,1982.0 Q142.0,1982.0 142.0,1978.0 Z" fill="url(#capg)"/>
<path d="M142.0,1900.0 Q142.0,1890.0 152.0,1890.0 L289.0,1890.0 Q299.0,1890.0 299.0,1900.0 L299.0,1978.0 Q299.0,1982.0 295.0,1982.0 L146.0,1982.0 Q142.0,1982.0 142.0,1978.0 Z" fill="url(#capv)"/>
<rect x="173.4" y="1900.0" width="2.2" height="74" fill="#1558b8" opacity="0.25"/>
<rect x="189.1" y="1900.0" width="2.2" height="74" fill="#1558b8" opacity="0.25"/>
<rect x="229.9" y="1900.0" width="2.2" height="74" fill="#1558b8" opacity="0.25"/>
<rect x="248.8" y="1900.0" width="2.2" height="74" fill="#1558b8" opacity="0.25"/>
<rect x="267.6" y="1900.0" width="2.2" height="74" fill="#1558b8" opacity="0.25"/>
</g></g>
<clipPath id="clp14"><rect x="306.0" y="1885.5" width="171.0" height="463.5"/></clipPath>
<g clip-path="url(#clp14)"><g filter="url(#soft)">
<rect x="303.0" y="1882.5" width="177.0" height="469.5" fill="url(#wallg)"/>
<rect x="306.0" y="1885.5" width="171.0" height="52" fill="#161514"/>
<rect x="306.0" y="1937.5" width="171.0" height="13" fill="#bdb2a0"/>
<path d="M335.0,1982.0 L457.0,1982.0 L457.0,2013.5 C457.0,2043.5 471.0,2038.5 471.0,2067.5 L471.0,2330.0 Q471.0,2342.0 457.0,2342.0 L325.0,2342.0 Q311.0,2342.0 311.0,2330.0 L311.0,2067.5 C311.0,2038.5 335.0,2043.5 335.0,2013.5 Z" fill="url(#glassg)" stroke="#dcdad4" stroke-width="1.4"/>
<path d="M448.0,1982.0 L448.0,2013.5 C448.0,2043.5 464.0,2038.5 464.0,2067.5 L464.0,2080.0" fill="none" stroke="#ecebe6" stroke-width="2.4"/>
<path d="M453.0,1982.0 L453.0,2013.5 C453.0,2043.5 469.0,2038.5 469.0,2067.5" fill="none" stroke="#46433f" stroke-width="1.5"/>
<path d="M348.0,2023.5 q-9,16 -15,40 l6,2 q5,-22 14,-38 z" fill="#3a3733"/>
<path d="M346.0,2072.5 q30,-8 60,-2 q20,3 36,-2" stroke="#5a5650" stroke-width="3" fill="none" stroke-dasharray="10 7"/>
<ellipse cx="379.5" cy="2051.5" rx="3" ry="12" fill="#f4f4f2"/>
<ellipse cx="403.5" cy="2029.5" rx="4.5" ry="5" fill="#eef3f4"/>
<ellipse cx="406.5" cy="2062.5" rx="5.5" ry="5" fill="#eef3f4"/>
<path d="M353.5,2045.5 l10,-7 M351.5,2060.5 l12,5" stroke="#eeeeea" stroke-width="2"/>
<rect x="343.0" y="2080.0" width="119.0" height="82.0" fill="#c6c6c2"/>
<rect x="343.0" y="2080.0" width="119.0" height="82.0" fill="url(#labg)" opacity="0.25"/>
<rect x="343.0" y="2093.0" width="20" height="69.0" fill="#9a978f"/>
<rect x="462.0" y="2082.0" width="8" height="232.0" fill="#cfcec9"/>
<path d="M323.0,2084.0v26 M330.0,2082.0v30" stroke="#dedcd6" stroke-width="2.2"/>
<linearGradient id="lq14" x1="0" y1="0" x2="1" y2="0"><stop offset="0" stop-color="rgb(14,50,40)"/><stop offset="0.1" stop-color="rgb(24,85,53)"/><stop offset="0.28" stop-color="rgb(30,108,62)"/><stop offset="0.62" stop-color="rgb(35,119,57)"/><stop offset="0.9" stop-color="rgb(40,130,52)"/><stop offset="1" stop-color="rgb(27,90,46)"/></linearGradient>
<path d="M312.0,2162.0 L470.0,2162.0 L470.0,2330.0 Q470.0,2341.0 456.0,2341.0 L326.0,2341.0 Q312.0,2341.0 312.0,2330.0 Z" fill="url(#lq14)"/>
<rect x="343.6" y="2172.0" width="12.6" height="115" fill="#000" opacity="0.07" filter="url(#blur4)"/>
<rect x="378.4" y="2172.0" width="12.6" height="115" fill="#000" opacity="0.05" filter="url(#blur4)"/>
<rect x="422.6" y="2172.0" width="12.6" height="115" fill="#000" opacity="0.05" filter="url(#blur4)"/>
<rect x="312.0" y="2162.0" width="158.0" height="16" fill="url(#menis)"/>
<rect x="312.0" y="2158.0" width="158.0" height="6" fill="rgb(86,82,68)"/>
<path d="M320.0,2157.0 L462.0,2157.0" stroke="#d8d4cc" stroke-width="1.5" opacity="0.7"/>
<path d="M312.0,2330.0 L312.0,2312.0 Q337.3,2322.0 366.5,2295.0 Q387.4,2320.0 408.4,2301.0 Q417.9,2334.0 440.0,2337.0 L470.0,2339.0 L470.0,2330.0 Q470.0,2339.0 456.0,2339.0 L326.0,2339.0 Q312.0,2339.0 312.0,2330.0 Z" fill="rgb(118,152,145)"/>
<rect x="306.0" y="2340.0" width="171.0" height="9" fill="#e6eeee"/>
<path d="M317.0,2341.0 L465.0,2341.0" stroke="#c4cccc" stroke-width="2.5"/>
<path d="M313.0,1900.0 Q313.0,1890.0 323.0,1890.0 L460.0,1890.0 Q470.0,1890.0 470.0,1900.0 L470.0,1978.0 Q470.0,1982.0 466.0,1982.0 L317.0,1982.0 Q313.0,1982.0 313.0,1978.0 Z" fill="url(#capg)"/>
<path d="M313.0,1900.0 Q313.0,1890.0 323.0,1890.0 L460.0,1890.0 Q470.0,1890.0 470.0,1900.0 L470.0,1978.0 Q470.0,1982.0 466.0,1982.0 L317.0,1982.0 Q313.0,1982.0 313.0,1978.0 Z" fill="url(#capv)"/>
<rect x="344.4" y="1900.0" width="2.2" height="74" fill="#1558b8" opacity="0.25"/>
<rect x="360.1" y="1900.0" width="2.2" height="74" fill="#1558b8" opacity="0.25"/>
<rect x="400.9" y="1900.0" width="2.2" height="74" fill="#1558b8" opacity="0.25"/>
<rect x="419.8" y="1900.0" width="2.2" height="74" fill="#1558b8" opacity="0.25"/>
<rect x="438.6" y="1900.0" width="2.2" height="74" fill="#1558b8" opacity="0.25"/>
</g></g>
<clipPath id="clp15"><rect x="477.0" y="1885.5" width="172.0" height="463.5"/></clipPath>
<g clip-path="url(#clp15)"><g filter="url(#soft)">
<rect x="474.0" y="1882.5" width="178.0" height="469.5" fill="url(#wallg)"/>
<rect x="477.0" y="1885.5" width="172.0" height="52" fill="#161514"/>
<rect x="477.0" y="1937.5" width="172.0" height="13" fill="#bdb2a0"/>
<path d="M506.0,1982.0 L629.0,1982.0 L629.0,2013.5 C629.0,2043.5 643.0,2038.5 643.0,2067.5 L643.0,2330.0 Q643.0,2342.0 629.0,2342.0 L496.0,2342.0 Q482.0,2342.0 482.0,2330.0 L482.0,2067.5 C482.0,2038.5 506.0,2043.5 506.0,2013.5 Z" fill="url(#glassg)" stroke="#dcdad4" stroke-width="1.4"/>
<path d="M620.0,1982.0 L620.0,2013.5 C620.0,2043.5 636.0,2038.5 636.0,2067.5 L636.0,2080.0" fill="none" stroke="#ecebe6" stroke-width="2.4"/>
<path d="M625.0,1982.0 L625.0,2013.5 C625.0,2043.5 641.0,2038.5 641.0,2067.5" fill="none" stroke="#46433f" stroke-width="1.5"/>
<path d="M519.0,2023.5 q-9,16 -15,40 l6,2 q5,-22 14,-38 z" fill="#3a3733"/>
<path d="M517.0,2072.5 q30,-8 60,-2 q20,3 36,-2" stroke="#5a5650" stroke-width="3" fill="none" stroke-dasharray="10 7"/>
<ellipse cx="551.0" cy="2051.5" rx="3" ry="12" fill="#f4f4f2"/>
<ellipse cx="575.0" cy="2029.5" rx="4.5" ry="5" fill="#eef3f4"/>
<ellipse cx="578.0" cy="2062.5" rx="5.5" ry="5" fill="#eef3f4"/>
<path d="M525.0,2045.5 l10,-7 M523.0,2060.5 l12,5" stroke="#eeeeea" stroke-width="2"/>
<rect x="514.0" y="2080.0" width="120.0" height="82.0" fill="#c6c6c2"/>
<rect x="514.0" y="2080.0" width="120.0" height="82.0" fill="url(#labg)" opacity="0.25"/>
<rect x="514.0" y="2093.0" width="20" height="69.0" fill="#9a978f"/>
<rect x="634.0" y="2082.0" width="8" height="232.0" fill="#cfcec9"/>
<path d="M494.0,2084.0v26 M501.0,2082.0v30" stroke="#dedcd6" stroke-width="2.2"/>
<linearGradient id="lq15" x1="0" y1="0" x2="1" y2="0"><stop offset="0" stop-color="rgb(30,70,40)"/><stop offset="0.1" stop-color="rgb(72,118,40)"/><stop offset="0.28" stop-color="rgb(100,150,40)"/><stop offset="0.62" stop-color="rgb(111,160,40)"/><stop offset="0.9" stop-color="rgb(122,170,40)"/><stop offset="1" stop-color="rgb(76,120,40)"/></linearGradient>
<path d="M483.0,2162.0 L642.0,2162.0 L642.0,2330.0 Q642.0,2341.0 628.0,2341.0 L497.0,2341.0 Q483.0,2341.0 483.0,2330.0 Z" fill="url(#lq15)"/>
<rect x="514.8" y="2172.0" width="12.7" height="115" fill="#000" opacity="0.07" filter="url(#blur4)"/>
<rect x="549.8" y="2172.0" width="12.7" height="115" fill="#000" opacity="0.05" filter="url(#blur4)"/>
<rect x="594.3" y="2172.0" width="12.7" height="115" fill="#000" opacity="0.05" filter="url(#blur4)"/>
<rect x="483.0" y="2162.0" width="159.0" height="16" fill="url(#menis)"/>
<rect x="483.0" y="2158.0" width="159.0" height="6" fill="rgb(90,86,68)"/>
<path d="M491.0,2157.0 L634.0,2157.0" stroke="#d8d4cc" stroke-width="1.5" opacity="0.7"/>
<path d="M483.0,2330.0 L483.0,2312.0 Q508.4,2322.0 537.9,2295.0 Q558.9,2320.0 580.0,2301.0 Q589.5,2334.0 611.8,2337.0 L642.0,2339.0 L642.0,2330.0 Q642.0,2339.0 628.0,2339.0 L497.0,2339.0 Q483.0,2339.0 483.0,2330.0 Z" fill="rgb(126,143,130)"/>
<rect x="477.0" y="2340.0" width="172.0" height="9" fill="#e6eeee"/>
<path d="M488.0,2341.0 L637.0,2341.0" stroke="#c4cccc" stroke-width="2.5"/>
<path d="M484.0,1900.0 Q484.0,1890.0 494.0,1890.0 L632.0,1890.0 Q642.0,1890.0 642.0,1900.0 L642.0,1978.0 Q642.0,1982.0 638.0,1982.0 L488.0,1982.0 Q484.0,1982.0 484.0,1978.0 Z" fill="url(#capg)"/>
<path d="M484.0,1900.0 Q484.0,1890.0 494.0,1890.0 L632.0,1890.0 Q642.0,1890.0 642.0,1900.0 L642.0,1978.0 Q642.0,1982.0 638.0,1982.0 L488.0,1982.0 Q484.0,1982.0 484.0,1978.0 Z" fill="url(#capv)"/>
<rect x="515.6" y="1900.0" width="2.2" height="74" fill="#1558b8" opacity="0.25"/>
<rect x="531.4" y="1900.0" width="2.2" height="74" fill="#1558b8" opacity="0.25"/>
<rect x="572.5" y="1900.0" width="2.2" height="74" fill="#1558b8" opacity="0.25"/>
<rect x="591.4" y="1900.0" width="2.2" height="74" fill="#1558b8" opacity="0.25"/>
<rect x="610.4" y="1900.0" width="2.2" height="74" fill="#1558b8" opacity="0.25"/>
</g></g>
<clipPath id="clp16"><rect x="649.0" y="1885.5" width="169.0" height="463.5"/></clipPath>
<g clip-path="url(#clp16)"><g filter="url(#soft)">
<rect x="646.0" y="1882.5" width="175.0" height="469.5" fill="url(#wallg)"/>
<rect x="649.0" y="1885.5" width="169.0" height="52" fill="#161514"/>
<rect x="649.0" y="1937.5" width="169.0" height="13" fill="#bdb2a0"/>
<path d="M678.0,1982.0 L798.0,1982.0 L798.0,2013.5 C798.0,2043.5 812.0,2038.5 812.0,2067.5 L812.0,2330.0 Q812.0,2342.0 798.0,2342.0 L668.0,2342.0 Q654.0,2342.0 654.0,2330.0 L654.0,2067.5 C654.0,2038.5 678.0,2043.5 678.0,2013.5 Z" fill="url(#glassg)" stroke="#dcdad4" stroke-width="1.4"/>
<path d="M789.0,1982.0 L789.0,2013.5 C789.0,2043.5 805.0,2038.5 805.0,2067.5 L805.0,2080.0" fill="none" stroke="#ecebe6" stroke-width="2.4"/>
<path d="M794.0,1982.0 L794.0,2013.5 C794.0,2043.5 810.0,2038.5 810.0,2067.5" fill="none" stroke="#46433f" stroke-width="1.5"/>
<path d="M691.0,2023.5 q-9,16 -15,40 l6,2 q5,-22 14,-38 z" fill="#3a3733"/>
<path d="M689.0,2072.5 q30,-8 60,-2 q20,3 36,-2" stroke="#5a5650" stroke-width="3" fill="none" stroke-dasharray="10 7"/>
<ellipse cx="721.5" cy="2051.5" rx="3" ry="12" fill="#f4f4f2"/>
<ellipse cx="745.5" cy="2029.5" rx="4.5" ry="5" fill="#eef3f4"/>
<ellipse cx="748.5" cy="2062.5" rx="5.5" ry="5" fill="#eef3f4"/>
<path d="M695.5,2045.5 l10,-7 M693.5,2060.5 l12,5" stroke="#eeeeea" stroke-width="2"/>
<rect x="686.0" y="2080.0" width="117.0" height="82.0" fill="#c6c6c2"/>
<rect x="686.0" y="2080.0" width="117.0" height="82.0" fill="url(#labg)" opacity="0.25"/>
<rect x="686.0" y="2093.0" width="20" height="69.0" fill="#9a978f"/>
<rect x="803.0" y="2082.0" width="8" height="232.0" fill="#cfcec9"/>
<path d="M666.0,2084.0v26 M673.0,2082.0v30" stroke="#dedcd6" stroke-width="2.2"/>
<linearGradient id="lq16" x1="0" y1="0" x2="1" y2="0"><stop offset="0" stop-color="rgb(20,50,40)"/><stop offset="0.1" stop-color="rgb(44,80,41)"/><stop offset="0.28" stop-color="rgb(60,100,42)"/><stop offset="0.62" stop-color="rgb(74,114,42)"/><stop offset="0.9" stop-color="rgb(88,128,42)"/><stop offset="1" stop-color="rgb(54,89,41)"/></linearGradient>
<path d="M655.0,2162.0 L811.0,2162.0 L811.0,2330.0 Q811.0,2341.0 797.0,2341.0 L669.0,2341.0 Q655.0,2341.0 655.0,2330.0 Z" fill="url(#lq16)"/>
<rect x="686.2" y="2172.0" width="12.5" height="115" fill="#000" opacity="0.07" filter="url(#blur4)"/>
<rect x="720.5" y="2172.0" width="12.5" height="115" fill="#000" opacity="0.05" filter="url(#blur4)"/>
<rect x="764.2" y="2172.0" width="12.5" height="115" fill="#000" opacity="0.05" filter="url(#blur4)"/>
<rect x="655.0" y="2162.0" width="156.0" height="16" fill="url(#menis)"/>
<rect x="655.0" y="2158.0" width="156.0" height="6" fill="rgb(88,82,68)"/>
<path d="M663.0,2157.0 L803.0,2157.0" stroke="#d8d4cc" stroke-width="1.5" opacity="0.7"/>
<path d="M655.0,2330.0 L655.0,2312.0 Q680.0,2322.0 708.8,2295.0 Q729.5,2320.0 750.2,2301.0 Q759.5,2334.0 781.4,2337.0 L811.0,2339.0 L811.0,2330.0 Q811.0,2339.0 797.0,2339.0 L669.0,2339.0 Q655.0,2339.0 655.0,2330.0 Z" fill="rgb(108,126,120)"/>
<rect x="649.0" y="2340.0" width="169.0" height="9" fill="#e6eeee"/>
<path d="M660.0,2341.0 L806.0,2341.0" stroke="#c4cccc" stroke-width="2.5"/>
<path d="M656.0,1900.0 Q656.0,1890.0 666.0,1890.0 L801.0,1890.0 Q811.0,1890.0 811.0,1900.0 L811.0,1978.0 Q811.0,1982.0 807.0,1982.0 L660.0,1982.0 Q656.0,1982.0 656.0,1978.0 Z" fill="url(#capg)"/>
<path d="M656.0,1900.0 Q656.0,1890.0 666.0,1890.0 L801.0,1890.0 Q811.0,1890.0 811.0,1900.0 L811.0,1978.0 Q811.0,1982.0 807.0,1982.0 L660.0,1982.0 Q656.0,1982.0 656.0,1978.0 Z" fill="url(#capv)"/>
<rect x="687.0" y="1900.0" width="2.2" height="74" fill="#1558b8" opacity="0.25"/>
<rect x="702.5" y="1900.0" width="2.2" height="74" fill="#1558b8" opacity="0.25"/>
<rect x="742.8" y="1900.0" width="2.2" height="74" fill="#1558b8" opacity="0.25"/>
<rect x="761.4" y="1900.0" width="2.2" height="74" fill="#1558b8" opacity="0.25"/>
<rect x="780.0" y="1900.0" width="2.2" height="74" fill="#1558b8" opacity="0.25"/>
</g></g>
<rect x="305.2" y="1885.5" width="1.6" height="463.5" fill="#8a8a86"/>
<rect x="476.2" y="1885.5" width="1.6" height="463.5" fill="#8a8a86"/>
<rect x="648.2" y="1885.5" width="1.6" height="463.5" fill="#8a8a86"/>
<clipPath id="clp17"><rect x="928.6" y="1884.0" width="173.4" height="465.0"/></clipPath>
<g clip-path="url(#clp17)"><g filter="url(#soft)">
<rect x="925.6" y="1881.0" width="179.4" height="471.0" fill="url(#wallg)"/>
<rect x="928.6" y="1884.0" width="173.4" height="52" fill="#161514"/>
<rect x="928.6" y="1936.0" width="173.4" height="13" fill="#bdb2a0"/>
<path d="M957.6,1980.5 L1082.0,1980.5 L1082.0,2012.0 C1082.0,2042.0 1096.0,2037.0 1096.0,2066.0 L1096.0,2330.0 Q1096.0,2342.0 1082.0,2342.0 L947.6,2342.0 Q933.6,2342.0 933.6,2330.0 L933.6,2066.0 C933.6,2037.0 957.6,2042.0 957.6,2012.0 Z" fill="url(#glassg)" stroke="#dcdad4" stroke-width="1.4"/>
<path d="M1073.0,1980.5 L1073.0,2012.0 C1073.0,2042.0 1089.0,2037.0 1089.0,2066.0 L1089.0,2077.0" fill="none" stroke="#ecebe6" stroke-width="2.4"/>
<path d="M1078.0,1980.5 L1078.0,2012.0 C1078.0,2042.0 1094.0,2037.0 1094.0,2066.0" fill="none" stroke="#46433f" stroke-width="1.5"/>
<path d="M970.6,2022.0 q-9,16 -15,40 l6,2 q5,-22 14,-38 z" fill="#3a3733"/>
<path d="M968.6,2071.0 q30,-8 60,-2 q20,3 36,-2" stroke="#5a5650" stroke-width="3" fill="none" stroke-dasharray="10 7"/>
<ellipse cx="1003.3" cy="2050.0" rx="3" ry="12" fill="#f4f4f2"/>
<ellipse cx="1027.3" cy="2028.0" rx="4.5" ry="5" fill="#eef3f4"/>
<ellipse cx="1030.3" cy="2061.0" rx="5.5" ry="5" fill="#eef3f4"/>
<path d="M977.3,2044.0 l10,-7 M975.3,2059.0 l12,5" stroke="#eeeeea" stroke-width="2"/>
<rect x="977.6" y="2077.0" width="109.4" height="84.0" fill="#bdbcb6"/>
<rect x="977.6" y="2077.0" width="109.4" height="84.0" fill="url(#labg)" opacity="0.25"/>
<rect x="977.6" y="2090.0" width="20" height="71.0" fill="#9a978f"/>
<rect x="1087.0" y="2079.0" width="8" height="234.0" fill="#cfcec9"/>
<path d="M945.6,2081.0v26 M952.6,2079.0v30" stroke="#dedcd6" stroke-width="2.2"/>
<linearGradient id="lq17" x1="0" y1="0" x2="1" y2="0"><stop offset="0" stop-color="rgb(14,16,46)"/><stop offset="0.1" stop-color="rgb(25,30,86)"/><stop offset="0.28" stop-color="rgb(32,40,112)"/><stop offset="0.62" stop-color="rgb(34,43,129)"/><stop offset="0.9" stop-color="rgb(36,46,146)"/><stop offset="1" stop-color="rgb(25,31,96)"/></linearGradient>
<path d="M934.6,2161.0 L1095.0,2161.0 L1095.0,2330.0 Q1095.0,2341.0 1081.0,2341.0 L948.6,2341.0 Q934.6,2341.0 934.6,2330.0 Z" fill="url(#lq17)"/>
<rect x="966.7" y="2171.0" width="12.8" height="115" fill="#000" opacity="0.07" filter="url(#blur4)"/>
<rect x="1002.0" y="2171.0" width="12.8" height="115" fill="#000" opacity="0.05" filter="url(#blur4)"/>
<rect x="1046.9" y="2171.0" width="12.8" height="115" fill="#000" opacity="0.05" filter="url(#blur4)"/>
<rect x="934.6" y="2161.0" width="160.4" height="16" fill="url(#menis)"/>
<rect x="934.6" y="2157.0" width="160.4" height="6" fill="rgb(86,73,70)"/>
<path d="M942.6,2156.0 L1087.0,2156.0" stroke="#d8d4cc" stroke-width="1.5" opacity="0.7"/>
<path d="M934.6,2330.0 L934.6,2311.0 Q960.3,2321.0 989.9,2294.0 Q1011.2,2319.0 1032.4,2300.0 Q1042.1,2333.0 1064.5,2336.0 L1095.0,2338.0 L1095.0,2330.0 Q1095.0,2339.0 1081.0,2339.0 L948.6,2339.0 Q934.6,2339.0 934.6,2330.0 Z" fill="rgb(101,109,145)"/>
<rect x="928.6" y="2340.0" width="173.4" height="9" fill="#e6eeee"/>
<path d="M939.6,2341.0 L1090.0,2341.0" stroke="#c4cccc" stroke-width="2.5"/>
<path d="M935.6,1898.5 Q935.6,1888.5 945.6,1888.5 L1085.0,1888.5 Q1095.0,1888.5 1095.0,1898.5 L1095.0,1976.5 Q1095.0,1980.5 1091.0,1980.5 L939.6,1980.5 Q935.6,1980.5 935.6,1976.5 Z" fill="url(#capg)"/>
<path d="M935.6,1898.5 Q935.6,1888.5 945.6,1888.5 L1085.0,1888.5 Q1095.0,1888.5 1095.0,1898.5 L1095.0,1976.5 Q1095.0,1980.5 1091.0,1980.5 L939.6,1980.5 Q935.6,1980.5 935.6,1976.5 Z" fill="url(#capv)"/>
<rect x="967.5" y="1898.5" width="2.2" height="74" fill="#1558b8" opacity="0.25"/>
<rect x="983.4" y="1898.5" width="2.2" height="74" fill="#1558b8" opacity="0.25"/>
<rect x="1024.9" y="1898.5" width="2.2" height="74" fill="#1558b8" opacity="0.25"/>
<rect x="1044.0" y="1898.5" width="2.2" height="74" fill="#1558b8" opacity="0.25"/>
<rect x="1063.1" y="1898.5" width="2.2" height="74" fill="#1558b8" opacity="0.25"/>
</g></g>
<clipPath id="clp18"><rect x="1102.0" y="1884.0" width="172.0" height="465.0"/></clipPath>
<g clip-path="url(#clp18)"><g filter="url(#soft)">
<rect x="1099.0" y="1881.0" width="178.0" height="471.0" fill="url(#wallg)"/>
<rect x="1102.0" y="1884.0" width="172.0" height="52" fill="#161514"/>
<rect x="1102.0" y="1936.0" width="172.0" height="13" fill="#bdb2a0"/>
<path d="M1131.0,1980.5 L1254.0,1980.5 L1254.0,2012.0 C1254.0,2042.0 1268.0,2037.0 1268.0,2066.0 L1268.0,2330.0 Q1268.0,2342.0 1254.0,2342.0 L1121.0,2342.0 Q1107.0,2342.0 1107.0,2330.0 L1107.0,2066.0 C1107.0,2037.0 1131.0,2042.0 1131.0,2012.0 Z" fill="url(#glassg)" stroke="#dcdad4" stroke-width="1.4"/>
<path d="M1245.0,1980.5 L1245.0,2012.0 C1245.0,2042.0 1261.0,2037.0 1261.0,2066.0 L1261.0,2077.0" fill="none" stroke="#ecebe6" stroke-width="2.4"/>
<path d="M1250.0,1980.5 L1250.0,2012.0 C1250.0,2042.0 1266.0,2037.0 1266.0,2066.0" fill="none" stroke="#46433f" stroke-width="1.5"/>
<path d="M1144.0,2022.0 q-9,16 -15,40 l6,2 q5,-22 14,-38 z" fill="#3a3733"/>
<path d="M1142.0,2071.0 q30,-8 60,-2 q20,3 36,-2" stroke="#5a5650" stroke-width="3" fill="none" stroke-dasharray="10 7"/>
<ellipse cx="1176.0" cy="2050.0" rx="3" ry="12" fill="#f4f4f2"/>
<ellipse cx="1200.0" cy="2028.0" rx="4.5" ry="5" fill="#eef3f4"/>
<ellipse cx="1203.0" cy="2061.0" rx="5.5" ry="5" fill="#eef3f4"/>
<path d="M1150.0,2044.0 l10,-7 M1148.0,2059.0 l12,5" stroke="#eeeeea" stroke-width="2"/>
<rect x="1151.0" y="2077.0" width="108.0" height="84.0" fill="#bdbcb6"/>
<rect x="1151.0" y="2077.0" width="108.0" height="84.0" fill="url(#labg)" opacity="0.25"/>
<rect x="1151.0" y="2090.0" width="20" height="71.0" fill="#9a978f"/>
<rect x="1259.0" y="2079.0" width="8" height="234.0" fill="#cfcec9"/>
<path d="M1119.0,2081.0v26 M1126.0,2079.0v30" stroke="#dedcd6" stroke-width="2.2"/>
<linearGradient id="lq18" x1="0" y1="0" x2="1" y2="0"><stop offset="0" stop-color="rgb(14,30,60)"/><stop offset="0.1" stop-color="rgb(24,60,96)"/><stop offset="0.28" stop-color="rgb(30,80,120)"/><stop offset="0.62" stop-color="rgb(31,71,140)"/><stop offset="0.9" stop-color="rgb(32,62,160)"/><stop offset="1" stop-color="rgb(23,46,110)"/></linearGradient>
<path d="M1108.0,2161.0 L1267.0,2161.0 L1267.0,2330.0 Q1267.0,2341.0 1253.0,2341.0 L1122.0,2341.0 Q1108.0,2341.0 1108.0,2330.0 Z" fill="url(#lq18)"/>
<rect x="1139.8" y="2171.0" width="12.7" height="115" fill="#000" opacity="0.07" filter="url(#blur4)"/>
<rect x="1174.8" y="2171.0" width="12.7" height="115" fill="#000" opacity="0.05" filter="url(#blur4)"/>
<rect x="1219.3" y="2171.0" width="12.7" height="115" fill="#000" opacity="0.05" filter="url(#blur4)"/>
<rect x="1108.0" y="2161.0" width="159.0" height="16" fill="url(#menis)"/>
<rect x="1108.0" y="2157.0" width="159.0" height="6" fill="rgb(86,76,74)"/>
<path d="M1116.0,2156.0 L1259.0,2156.0" stroke="#d8d4cc" stroke-width="1.5" opacity="0.7"/>
<path d="M1108.0,2330.0 L1108.0,2311.0 Q1133.4,2321.0 1162.9,2294.0 Q1183.9,2319.0 1205.0,2300.0 Q1214.5,2333.0 1236.8,2336.0 L1267.0,2338.0 L1267.0,2330.0 Q1267.0,2339.0 1253.0,2339.0 L1122.0,2339.0 Q1108.0,2339.0 1108.0,2330.0 Z" fill="rgb(108,126,154)"/>
<rect x="1102.0" y="2340.0" width="172.0" height="9" fill="#e6eeee"/>
<path d="M1113.0,2341.0 L1262.0,2341.0" stroke="#c4cccc" stroke-width="2.5"/>
<path d="M1109.0,1898.5 Q1109.0,1888.5 1119.0,1888.5 L1257.0,1888.5 Q1267.0,1888.5 1267.0,1898.5 L1267.0,1976.5 Q1267.0,1980.5 1263.0,1980.5 L1113.0,1980.5 Q1109.0,1980.5 1109.0,1976.5 Z" fill="url(#capg)"/>
<path d="M1109.0,1898.5 Q1109.0,1888.5 1119.0,1888.5 L1257.0,1888.5 Q1267.0,1888.5 1267.0,1898.5 L1267.0,1976.5 Q1267.0,1980.5 1263.0,1980.5 L1113.0,1980.5 Q1109.0,1980.5 1109.0,1976.5 Z" fill="url(#capv)"/>
<rect x="1140.6" y="1898.5" width="2.2" height="74" fill="#1558b8" opacity="0.25"/>
<rect x="1156.4" y="1898.5" width="2.2" height="74" fill="#1558b8" opacity="0.25"/>
<rect x="1197.5" y="1898.5" width="2.2" height="74" fill="#1558b8" opacity="0.25"/>
<rect x="1216.4" y="1898.5" width="2.2" height="74" fill="#1558b8" opacity="0.25"/>
<rect x="1235.4" y="1898.5" width="2.2" height="74" fill="#1558b8" opacity="0.25"/>
</g></g>
<clipPath id="clp19"><rect x="1274.0" y="1884.0" width="172.0" height="465.0"/></clipPath>
<g clip-path="url(#clp19)"><g filter="url(#soft)">
<rect x="1271.0" y="1881.0" width="178.0" height="471.0" fill="url(#wallg)"/>
<rect x="1274.0" y="1884.0" width="172.0" height="52" fill="#161514"/>
<rect x="1274.0" y="1936.0" width="172.0" height="13" fill="#bdb2a0"/>
<path d="M1303.0,1980.5 L1426.0,1980.5 L1426.0,2012.0 C1426.0,2042.0 1440.0,2037.0 1440.0,2066.0 L1440.0,2330.0 Q1440.0,2342.0 1426.0,2342.0 L1293.0,2342.0 Q1279.0,2342.0 1279.0,2330.0 L1279.0,2066.0 C1279.0,2037.0 1303.0,2042.0 1303.0,2012.0 Z" fill="url(#glassg)" stroke="#dcdad4" stroke-width="1.4"/>
<path d="M1417.0,1980.5 L1417.0,2012.0 C1417.0,2042.0 1433.0,2037.0 1433.0,2066.0 L1433.0,2077.0" fill="none" stroke="#ecebe6" stroke-width="2.4"/>
<path d="M1422.0,1980.5 L1422.0,2012.0 C1422.0,2042.0 1438.0,2037.0 1438.0,2066.0" fill="none" stroke="#46433f" stroke-width="1.5"/>
<path d="M1316.0,2022.0 q-9,16 -15,40 l6,2 q5,-22 14,-38 z" fill="#3a3733"/>
<path d="M1314.0,2071.0 q30,-8 60,-2 q20,3 36,-2" stroke="#5a5650" stroke-width="3" fill="none" stroke-dasharray="10 7"/>
<ellipse cx="1348.0" cy="2050.0" rx="3" ry="12" fill="#f4f4f2"/>
<ellipse cx="1372.0" cy="2028.0" rx="4.5" ry="5" fill="#eef3f4"/>
<ellipse cx="1375.0" cy="2061.0" rx="5.5" ry="5" fill="#eef3f4"/>
<path d="M1322.0,2044.0 l10,-7 M1320.0,2059.0 l12,5" stroke="#eeeeea" stroke-width="2"/>
<rect x="1323.0" y="2077.0" width="108.0" height="84.0" fill="#bdbcb6"/>
<rect x="1323.0" y="2077.0" width="108.0" height="84.0" fill="url(#labg)" opacity="0.25"/>
<rect x="1323.0" y="2090.0" width="20" height="71.0" fill="#9a978f"/>
<rect x="1431.0" y="2079.0" width="8" height="234.0" fill="#cfcec9"/>
<path d="M1291.0,2081.0v26 M1298.0,2079.0v30" stroke="#dedcd6" stroke-width="2.2"/>
<linearGradient id="lq19" x1="0" y1="0" x2="1" y2="0"><stop offset="0" stop-color="rgb(24,42,36)"/><stop offset="0.1" stop-color="rgb(38,79,59)"/><stop offset="0.28" stop-color="rgb(48,104,74)"/><stop offset="0.62" stop-color="rgb(49,108,75)"/><stop offset="0.9" stop-color="rgb(50,112,76)"/><stop offset="1" stop-color="rgb(37,77,56)"/></linearGradient>
<path d="M1280.0,2161.0 L1439.0,2161.0 L1439.0,2330.0 Q1439.0,2341.0 1425.0,2341.0 L1294.0,2341.0 Q1280.0,2341.0 1280.0,2330.0 Z" fill="url(#lq19)"/>
<rect x="1311.8" y="2171.0" width="12.7" height="115" fill="#000" opacity="0.07" filter="url(#blur4)"/>
<rect x="1346.8" y="2171.0" width="12.7" height="115" fill="#000" opacity="0.05" filter="url(#blur4)"/>
<rect x="1391.3" y="2171.0" width="12.7" height="115" fill="#000" opacity="0.05" filter="url(#blur4)"/>
<rect x="1280.0" y="2161.0" width="159.0" height="16" fill="url(#menis)"/>
<rect x="1280.0" y="2157.0" width="159.0" height="6" fill="rgb(88,80,68)"/>
<path d="M1288.0,2156.0 L1431.0,2156.0" stroke="#d8d4cc" stroke-width="1.5" opacity="0.7"/>
<path d="M1280.0,2330.0 L1280.0,2311.0 Q1305.4,2321.0 1334.9,2294.0 Q1355.9,2319.0 1377.0,2300.0 Q1386.5,2333.0 1408.8,2336.0 L1439.0,2338.0 L1439.0,2330.0 Q1439.0,2339.0 1425.0,2339.0 L1294.0,2339.0 Q1280.0,2339.0 1280.0,2330.0 Z" fill="rgb(101,121,115)"/>
<rect x="1274.0" y="2340.0" width="172.0" height="9" fill="#e6eeee"/>
<path d="M1285.0,2341.0 L1434.0,2341.0" stroke="#c4cccc" stroke-width="2.5"/>
<path d="M1281.0,1898.5 Q1281.0,1888.5 1291.0,1888.5 L1429.0,1888.5 Q1439.0,1888.5 1439.0,1898.5 L1439.0,1976.5 Q1439.0,1980.5 1435.0,1980.5 L1285.0,1980.5 Q1281.0,1980.5 1281.0,1976.5 Z" fill="url(#capg)"/>
<path d="M1281.0,1898.5 Q1281.0,1888.5 1291.0,1888.5 L1429.0,1888.5 Q1439.0,1888.5 1439.0,1898.5 L1439.0,1976.5 Q1439.0,1980.5 1435.0,1980.5 L1285.0,1980.5 Q1281.0,1980.5 1281.0,1976.5 Z" fill="url(#capv)"/>
<rect x="1312.6" y="1898.5" width="2.2" height="74" fill="#1558b8" opacity="0.25"/>
<rect x="1328.4" y="1898.5" width="2.2" height="74" fill="#1558b8" opacity="0.25"/>
<rect x="1369.5" y="1898.5" width="2.2" height="74" fill="#1558b8" opacity="0.25"/>
<rect x="1388.4" y="1898.5" width="2.2" height="74" fill="#1558b8" opacity="0.25"/>
<rect x="1407.4" y="1898.5" width="2.2" height="74" fill="#1558b8" opacity="0.25"/>
</g></g>
<clipPath id="clp20"><rect x="1446.0" y="1884.0" width="169.0" height="465.0"/></clipPath>
<g clip-path="url(#clp20)"><g filter="url(#soft)">
<rect x="1443.0" y="1881.0" width="175.0" height="471.0" fill="url(#wallg)"/>
<rect x="1446.0" y="1884.0" width="169.0" height="52" fill="#161514"/>
<rect x="1446.0" y="1936.0" width="169.0" height="13" fill="#bdb2a0"/>
<path d="M1475.0,1980.5 L1595.0,1980.5 L1595.0,2012.0 C1595.0,2042.0 1609.0,2037.0 1609.0,2066.0 L1609.0,2330.0 Q1609.0,2342.0 1595.0,2342.0 L1465.0,2342.0 Q1451.0,2342.0 1451.0,2330.0 L1451.0,2066.0 C1451.0,2037.0 1475.0,2042.0 1475.0,2012.0 Z" fill="url(#glassg)" stroke="#dcdad4" stroke-width="1.4"/>
<path d="M1586.0,1980.5 L1586.0,2012.0 C1586.0,2042.0 1602.0,2037.0 1602.0,2066.0 L1602.0,2077.0" fill="none" stroke="#ecebe6" stroke-width="2.4"/>
<path d="M1591.0,1980.5 L1591.0,2012.0 C1591.0,2042.0 1607.0,2037.0 1607.0,2066.0" fill="none" stroke="#46433f" stroke-width="1.5"/>
<path d="M1488.0,2022.0 q-9,16 -15,40 l6,2 q5,-22 14,-38 z" fill="#3a3733"/>
<path d="M1486.0,2071.0 q30,-8 60,-2 q20,3 36,-2" stroke="#5a5650" stroke-width="3" fill="none" stroke-dasharray="10 7"/>
<ellipse cx="1518.5" cy="2050.0" rx="3" ry="12" fill="#f4f4f2"/>
<ellipse cx="1542.5" cy="2028.0" rx="4.5" ry="5" fill="#eef3f4"/>
<ellipse cx="1545.5" cy="2061.0" rx="5.5" ry="5" fill="#eef3f4"/>
<path d="M1492.5,2044.0 l10,-7 M1490.5,2059.0 l12,5" stroke="#eeeeea" stroke-width="2"/>
<rect x="1495.0" y="2077.0" width="105.0" height="84.0" fill="#bdbcb6"/>
<rect x="1495.0" y="2077.0" width="105.0" height="84.0" fill="url(#labg)" opacity="0.25"/>
<rect x="1495.0" y="2090.0" width="20" height="71.0" fill="#9a978f"/>
<rect x="1600.0" y="2079.0" width="8" height="234.0" fill="#cfcec9"/>
<path d="M1463.0,2081.0v26 M1470.0,2079.0v30" stroke="#dedcd6" stroke-width="2.2"/>
<linearGradient id="lq20" x1="0" y1="0" x2="1" y2="0"><stop offset="0" stop-color="rgb(24,36,30)"/><stop offset="0.1" stop-color="rgb(37,59,48)"/><stop offset="0.28" stop-color="rgb(46,74,60)"/><stop offset="0.62" stop-color="rgb(49,78,62)"/><stop offset="0.9" stop-color="rgb(52,82,64)"/><stop offset="1" stop-color="rgb(38,59,47)"/></linearGradient>
<path d="M1452.0,2161.0 L1608.0,2161.0 L1608.0,2330.0 Q1608.0,2341.0 1594.0,2341.0 L1466.0,2341.0 Q1452.0,2341.0 1452.0,2330.0 Z" fill="url(#lq20)"/>
<rect x="1483.2" y="2171.0" width="12.5" height="115" fill="#000" opacity="0.07" filter="url(#blur4)"/>
<rect x="1517.5" y="2171.0" width="12.5" height="115" fill="#000" opacity="0.05" filter="url(#blur4)"/>
<rect x="1561.2" y="2171.0" width="12.5" height="115" fill="#000" opacity="0.05" filter="url(#blur4)"/>
<rect x="1452.0" y="2161.0" width="156.0" height="16" fill="url(#menis)"/>
<rect x="1452.0" y="2157.0" width="156.0" height="6" fill="rgb(88,78,66)"/>
<path d="M1460.0,2156.0 L1600.0,2156.0" stroke="#d8d4cc" stroke-width="1.5" opacity="0.7"/>
<path d="M1452.0,2330.0 L1452.0,2311.0 Q1477.0,2321.0 1505.8,2294.0 Q1526.5,2319.0 1547.2,2300.0 Q1556.5,2333.0 1578.4,2336.0 L1608.0,2338.0 L1608.0,2330.0 Q1608.0,2339.0 1594.0,2339.0 L1466.0,2339.0 Q1452.0,2339.0 1452.0,2330.0 Z" fill="rgb(102,112,110)"/>
<rect x="1446.0" y="2340.0" width="169.0" height="9" fill="#e6eeee"/>
<path d="M1457.0,2341.0 L1603.0,2341.0" stroke="#c4cccc" stroke-width="2.5"/>
<path d="M1453.0,1898.5 Q1453.0,1888.5 1463.0,1888.5 L1598.0,1888.5 Q1608.0,1888.5 1608.0,1898.5 L1608.0,1976.5 Q1608.0,1980.5 1604.0,1980.5 L1457.0,1980.5 Q1453.0,1980.5 1453.0,1976.5 Z" fill="url(#capg)"/>
<path d="M1453.0,1898.5 Q1453.0,1888.5 1463.0,1888.5 L1598.0,1888.5 Q1608.0,1888.5 1608.0,1898.5 L1608.0,1976.5 Q1608.0,1980.5 1604.0,1980.5 L1457.0,1980.5 Q1453.0,1980.5 1453.0,1976.5 Z" fill="url(#capv)"/>
<rect x="1484.0" y="1898.5" width="2.2" height="74" fill="#1558b8" opacity="0.25"/>
<rect x="1499.5" y="1898.5" width="2.2" height="74" fill="#1558b8" opacity="0.25"/>
<rect x="1539.8" y="1898.5" width="2.2" height="74" fill="#1558b8" opacity="0.25"/>
<rect x="1558.4" y="1898.5" width="2.2" height="74" fill="#1558b8" opacity="0.25"/>
<rect x="1577.0" y="1898.5" width="2.2" height="74" fill="#1558b8" opacity="0.25"/>
</g></g>
<rect x="1101.2" y="1884.0" width="1.6" height="465.0" fill="#8a8a86"/>
<rect x="1273.2" y="1884.0" width="1.6" height="465.0" fill="#8a8a86"/>
<rect x="1445.2" y="1884.0" width="1.6" height="465.0" fill="#8a8a86"/>
<clipPath id="clp21"><rect x="1721.0" y="1883.0" width="171.5" height="466.0"/></clipPath>
<g clip-path="url(#clp21)"><g filter="url(#soft)">
<rect x="1718.0" y="1880.0" width="177.5" height="472.0" fill="url(#wallg)"/>
<rect x="1721.0" y="1883.0" width="171.5" height="52" fill="#161514"/>
<rect x="1721.0" y="1935.0" width="171.5" height="13" fill="#bdb2a0"/>
<path d="M1750.0,1979.5 L1872.5,1979.5 L1872.5,2011.0 C1872.5,2041.0 1886.5,2036.0 1886.5,2065.0 L1886.5,2330.0 Q1886.5,2342.0 1872.5,2342.0 L1740.0,2342.0 Q1726.0,2342.0 1726.0,2330.0 L1726.0,2065.0 C1726.0,2036.0 1750.0,2041.0 1750.0,2011.0 Z" fill="url(#glassg)" stroke="#dcdad4" stroke-width="1.4"/>
<path d="M1863.5,1979.5 L1863.5,2011.0 C1863.5,2041.0 1879.5,2036.0 1879.5,2065.0 L1879.5,2076.0" fill="none" stroke="#ecebe6" stroke-width="2.4"/>
<path d="M1868.5,1979.5 L1868.5,2011.0 C1868.5,2041.0 1884.5,2036.0 1884.5,2065.0" fill="none" stroke="#46433f" stroke-width="1.5"/>
<path d="M1763.0,2021.0 q-9,16 -15,40 l6,2 q5,-22 14,-38 z" fill="#3a3733"/>
<path d="M1761.0,2070.0 q30,-8 60,-2 q20,3 36,-2" stroke="#5a5650" stroke-width="3" fill="none" stroke-dasharray="10 7"/>
<ellipse cx="1794.8" cy="2049.0" rx="3" ry="12" fill="#f4f4f2"/>
<ellipse cx="1818.8" cy="2027.0" rx="4.5" ry="5" fill="#eef3f4"/>
<ellipse cx="1821.8" cy="2060.0" rx="5.5" ry="5" fill="#eef3f4"/>
<path d="M1768.8,2043.0 l10,-7 M1766.8,2058.0 l12,5" stroke="#eeeeea" stroke-width="2"/>
<rect x="1761.0" y="2076.0" width="116.5" height="86.0" fill="#cacac6"/>
<rect x="1761.0" y="2076.0" width="116.5" height="86.0" fill="url(#labg)" opacity="0.25"/>
<rect x="1761.0" y="2089.0" width="20" height="73.0" fill="#9a978f"/>
<rect x="1877.5" y="2078.0" width="8" height="236.0" fill="#cfcec9"/>
<path d="M1738.0,2080.0v26 M1745.0,2078.0v30" stroke="#dedcd6" stroke-width="2.2"/>
<linearGradient id="lq21" x1="0" y1="0" x2="1" y2="0"><stop offset="0" stop-color="rgb(14,14,50)"/><stop offset="0.1" stop-color="rgb(24,24,98)"/><stop offset="0.28" stop-color="rgb(30,30,130)"/><stop offset="0.62" stop-color="rgb(33,33,141)"/><stop offset="0.9" stop-color="rgb(36,36,152)"/><stop offset="1" stop-color="rgb(25,25,101)"/></linearGradient>
<path d="M1727.0,2162.0 L1885.5,2162.0 L1885.5,2330.0 Q1885.5,2341.0 1871.5,2341.0 L1741.0,2341.0 Q1727.0,2341.0 1727.0,2330.0 Z" fill="url(#lq21)"/>
<rect x="1758.7" y="2172.0" width="12.7" height="115" fill="#000" opacity="0.07" filter="url(#blur4)"/>
<rect x="1793.6" y="2172.0" width="12.7" height="115" fill="#000" opacity="0.05" filter="url(#blur4)"/>
<rect x="1838.0" y="2172.0" width="12.7" height="115" fill="#000" opacity="0.05" filter="url(#blur4)"/>
<rect x="1727.0" y="2162.0" width="158.5" height="16" fill="url(#menis)"/>
<rect x="1727.0" y="2158.0" width="158.5" height="6" fill="rgb(86,72,71)"/>
<path d="M1735.0,2157.0 L1877.5,2157.0" stroke="#d8d4cc" stroke-width="1.5" opacity="0.7"/>
<path d="M1727.0,2330.0 L1727.0,2312.0 Q1752.4,2322.0 1781.7,2295.0 Q1802.7,2320.0 1823.7,2301.0 Q1833.2,2334.0 1855.4,2337.0 L1885.5,2339.0 L1885.5,2330.0 Q1885.5,2339.0 1871.5,2339.0 L1741.0,2339.0 Q1727.0,2339.0 1727.0,2330.0 Z" fill="rgb(109,118,162)"/>
<rect x="1721.0" y="2340.0" width="171.5" height="9" fill="#e6eeee"/>
<path d="M1732.0,2341.0 L1880.5,2341.0" stroke="#c4cccc" stroke-width="2.5"/>
<path d="M1728.0,1897.5 Q1728.0,1887.5 1738.0,1887.5 L1875.5,1887.5 Q1885.5,1887.5 1885.5,1897.5 L1885.5,1975.5 Q1885.5,1979.5 1881.5,1979.5 L1732.0,1979.5 Q1728.0,1979.5 1728.0,1975.5 Z" fill="url(#capg)"/>
<path d="M1728.0,1897.5 Q1728.0,1887.5 1738.0,1887.5 L1875.5,1887.5 Q1885.5,1887.5 1885.5,1897.5 L1885.5,1975.5 Q1885.5,1979.5 1881.5,1979.5 L1732.0,1979.5 Q1728.0,1979.5 1728.0,1975.5 Z" fill="url(#capv)"/>
<rect x="1759.5" y="1897.5" width="2.2" height="74" fill="#1558b8" opacity="0.25"/>
<rect x="1775.2" y="1897.5" width="2.2" height="74" fill="#1558b8" opacity="0.25"/>
<rect x="1816.2" y="1897.5" width="2.2" height="74" fill="#1558b8" opacity="0.25"/>
<rect x="1835.1" y="1897.5" width="2.2" height="74" fill="#1558b8" opacity="0.25"/>
<rect x="1854.0" y="1897.5" width="2.2" height="74" fill="#1558b8" opacity="0.25"/>
</g></g>
<clipPath id="clp22"><rect x="1892.5" y="1883.0" width="173.5" height="466.0"/></clipPath>
<g clip-path="url(#clp22)"><g filter="url(#soft)">
<rect x="1889.5" y="1880.0" width="179.5" height="472.0" fill="url(#wallg)"/>
<rect x="1892.5" y="1883.0" width="173.5" height="52" fill="#161514"/>
<rect x="1892.5" y="1935.0" width="173.5" height="13" fill="#bdb2a0"/>
<path d="M1921.5,1979.5 L2046.0,1979.5 L2046.0,2011.0 C2046.0,2041.0 2060.0,2036.0 2060.0,2065.0 L2060.0,2330.0 Q2060.0,2342.0 2046.0,2342.0 L1911.5,2342.0 Q1897.5,2342.0 1897.5,2330.0 L1897.5,2065.0 C1897.5,2036.0 1921.5,2041.0 1921.5,2011.0 Z" fill="url(#glassg)" stroke="#dcdad4" stroke-width="1.4"/>
<path d="M2037.0,1979.5 L2037.0,2011.0 C2037.0,2041.0 2053.0,2036.0 2053.0,2065.0 L2053.0,2076.0" fill="none" stroke="#ecebe6" stroke-width="2.4"/>
<path d="M2042.0,1979.5 L2042.0,2011.0 C2042.0,2041.0 2058.0,2036.0 2058.0,2065.0" fill="none" stroke="#46433f" stroke-width="1.5"/>
<path d="M1934.5,2021.0 q-9,16 -15,40 l6,2 q5,-22 14,-38 z" fill="#3a3733"/>
<path d="M1932.5,2070.0 q30,-8 60,-2 q20,3 36,-2" stroke="#5a5650" stroke-width="3" fill="none" stroke-dasharray="10 7"/>
<ellipse cx="1967.2" cy="2049.0" rx="3" ry="12" fill="#f4f4f2"/>
<ellipse cx="1991.2" cy="2027.0" rx="4.5" ry="5" fill="#eef3f4"/>
<ellipse cx="1994.2" cy="2060.0" rx="5.5" ry="5" fill="#eef3f4"/>
<path d="M1941.2,2043.0 l10,-7 M1939.2,2058.0 l12,5" stroke="#eeeeea" stroke-width="2"/>
<rect x="1932.5" y="2076.0" width="118.5" height="86.0" fill="#cacac6"/>
<rect x="1932.5" y="2076.0" width="118.5" height="86.0" fill="url(#labg)" opacity="0.25"/>
<rect x="1932.5" y="2089.0" width="20" height="73.0" fill="#9a978f"/>
<rect x="2051.0" y="2078.0" width="8" height="236.0" fill="#cfcec9"/>
<path d="M1909.5,2080.0v26 M1916.5,2078.0v30" stroke="#dedcd6" stroke-width="2.2"/>
<linearGradient id="lq22" x1="0" y1="0" x2="1" y2="0"><stop offset="0" stop-color="rgb(20,20,70)"/><stop offset="0.1" stop-color="rgb(36,38,124)"/><stop offset="0.28" stop-color="rgb(46,50,160)"/><stop offset="0.62" stop-color="rgb(49,53,173)"/><stop offset="0.9" stop-color="rgb(52,56,186)"/><stop offset="1" stop-color="rgb(36,38,128)"/></linearGradient>
<path d="M1898.5,2162.0 L2059.0,2162.0 L2059.0,2330.0 Q2059.0,2341.0 2045.0,2341.0 L1912.5,2341.0 Q1898.5,2341.0 1898.5,2330.0 Z" fill="url(#lq22)"/>
<rect x="1930.6" y="2172.0" width="12.8" height="115" fill="#000" opacity="0.07" filter="url(#blur4)"/>
<rect x="1965.9" y="2172.0" width="12.8" height="115" fill="#000" opacity="0.05" filter="url(#blur4)"/>
<rect x="2010.8" y="2172.0" width="12.8" height="115" fill="#000" opacity="0.05" filter="url(#blur4)"/>
<rect x="1898.5" y="2162.0" width="160.5" height="16" fill="url(#menis)"/>
<rect x="1898.5" y="2158.0" width="160.5" height="6" fill="rgb(88,74,76)"/>
<path d="M1906.5,2157.0 L2051.0,2157.0" stroke="#d8d4cc" stroke-width="1.5" opacity="0.7"/>
<path d="M1898.5,2330.0 L1898.5,2312.0 Q1924.2,2322.0 1953.9,2295.0 Q1975.1,2320.0 1996.4,2301.0 Q2006.0,2334.0 2028.5,2337.0 L2059.0,2339.0 L2059.0,2330.0 Q2059.0,2339.0 2045.0,2339.0 L1912.5,2339.0 Q1898.5,2339.0 1898.5,2330.0 Z" fill="rgb(118,126,171)"/>
<rect x="1892.5" y="2340.0" width="173.5" height="9" fill="#e6eeee"/>
<path d="M1903.5,2341.0 L2054.0,2341.0" stroke="#c4cccc" stroke-width="2.5"/>
<path d="M1899.5,1897.5 Q1899.5,1887.5 1909.5,1887.5 L2049.0,1887.5 Q2059.0,1887.5 2059.0,1897.5 L2059.0,1975.5 Q2059.0,1979.5 2055.0,1979.5 L1903.5,1979.5 Q1899.5,1979.5 1899.5,1975.5 Z" fill="url(#capg)"/>
<path d="M1899.5,1897.5 Q1899.5,1887.5 1909.5,1887.5 L2049.0,1887.5 Q2059.0,1887.5 2059.0,1897.5 L2059.0,1975.5 Q2059.0,1979.5 2055.0,1979.5 L1903.5,1979.5 Q1899.5,1979.5 1899.5,1975.5 Z" fill="url(#capv)"/>
<rect x="1931.4" y="1897.5" width="2.2" height="74" fill="#1558b8" opacity="0.25"/>
<rect x="1947.3" y="1897.5" width="2.2" height="74" fill="#1558b8" opacity="0.25"/>
<rect x="1988.8" y="1897.5" width="2.2" height="74" fill="#1558b8" opacity="0.25"/>
<rect x="2008.0" y="1897.5" width="2.2" height="74" fill="#1558b8" opacity="0.25"/>
<rect x="2027.1" y="1897.5" width="2.2" height="74" fill="#1558b8" opacity="0.25"/>
</g></g>
<clipPath id="clp23"><rect x="2066.0" y="1883.0" width="170.0" height="466.0"/></clipPath>
<g clip-path="url(#clp23)"><g filter="url(#soft)">
<rect x="2063.0" y="1880.0" width="176.0" height="472.0" fill="url(#wallg)"/>
<rect x="2066.0" y="1883.0" width="170.0" height="52" fill="#161514"/>
<rect x="2066.0" y="1935.0" width="170.0" height="13" fill="#bdb2a0"/>
<path d="M2095.0,1979.5 L2216.0,1979.5 L2216.0,2011.0 C2216.0,2041.0 2230.0,2036.0 2230.0,2065.0 L2230.0,2330.0 Q2230.0,2342.0 2216.0,2342.0 L2085.0,2342.0 Q2071.0,2342.0 2071.0,2330.0 L2071.0,2065.0 C2071.0,2036.0 2095.0,2041.0 2095.0,2011.0 Z" fill="url(#glassg)" stroke="#dcdad4" stroke-width="1.4"/>
<path d="M2207.0,1979.5 L2207.0,2011.0 C2207.0,2041.0 2223.0,2036.0 2223.0,2065.0 L2223.0,2076.0" fill="none" stroke="#ecebe6" stroke-width="2.4"/>
<path d="M2212.0,1979.5 L2212.0,2011.0 C2212.0,2041.0 2228.0,2036.0 2228.0,2065.0" fill="none" stroke="#46433f" stroke-width="1.5"/>
<path d="M2108.0,2021.0 q-9,16 -15,40 l6,2 q5,-22 14,-38 z" fill="#3a3733"/>
<path d="M2106.0,2070.0 q30,-8 60,-2 q20,3 36,-2" stroke="#5a5650" stroke-width="3" fill="none" stroke-dasharray="10 7"/>
<ellipse cx="2139.0" cy="2049.0" rx="3" ry="12" fill="#f4f4f2"/>
<ellipse cx="2163.0" cy="2027.0" rx="4.5" ry="5" fill="#eef3f4"/>
<ellipse cx="2166.0" cy="2060.0" rx="5.5" ry="5" fill="#eef3f4"/>
<path d="M2113.0,2043.0 l10,-7 M2111.0,2058.0 l12,5" stroke="#eeeeea" stroke-width="2"/>
<rect x="2106.0" y="2076.0" width="115.0" height="86.0" fill="#cacac6"/>
<rect x="2106.0" y="2076.0" width="115.0" height="86.0" fill="url(#labg)" opacity="0.25"/>
<rect x="2106.0" y="2089.0" width="20" height="73.0" fill="#9a978f"/>
<rect x="2221.0" y="2078.0" width="8" height="236.0" fill="#cfcec9"/>
<path d="M2083.0,2080.0v26 M2090.0,2078.0v30" stroke="#dedcd6" stroke-width="2.2"/>
<linearGradient id="lq23" x1="0" y1="0" x2="1" y2="0"><stop offset="0" stop-color="rgb(24,46,50)"/><stop offset="0.1" stop-color="rgb(37,72,80)"/><stop offset="0.28" stop-color="rgb(46,90,100)"/><stop offset="0.62" stop-color="rgb(48,95,103)"/><stop offset="0.9" stop-color="rgb(50,100,106)"/><stop offset="1" stop-color="rgb(37,73,78)"/></linearGradient>
<path d="M2072.0,2162.0 L2229.0,2162.0 L2229.0,2330.0 Q2229.0,2341.0 2215.0,2341.0 L2086.0,2341.0 Q2072.0,2341.0 2072.0,2330.0 Z" fill="url(#lq23)"/>
<rect x="2103.4" y="2172.0" width="12.6" height="115" fill="#000" opacity="0.07" filter="url(#blur4)"/>
<rect x="2137.9" y="2172.0" width="12.6" height="115" fill="#000" opacity="0.05" filter="url(#blur4)"/>
<rect x="2181.9" y="2172.0" width="12.6" height="115" fill="#000" opacity="0.05" filter="url(#blur4)"/>
<rect x="2072.0" y="2162.0" width="157.0" height="16" fill="url(#menis)"/>
<rect x="2072.0" y="2158.0" width="157.0" height="6" fill="rgb(88,80,71)"/>
<path d="M2080.0,2157.0 L2221.0,2157.0" stroke="#d8d4cc" stroke-width="1.5" opacity="0.7"/>
<path d="M2072.0,2330.0 L2072.0,2312.0 Q2097.1,2322.0 2126.2,2295.0 Q2147.0,2320.0 2167.8,2301.0 Q2177.2,2334.0 2199.2,2337.0 L2229.0,2339.0 L2229.0,2330.0 Q2229.0,2339.0 2215.0,2339.0 L2086.0,2339.0 Q2072.0,2339.0 2072.0,2330.0 Z" fill="rgb(109,126,137)"/>
<rect x="2066.0" y="2340.0" width="170.0" height="9" fill="#e6eeee"/>
<path d="M2077.0,2341.0 L2224.0,2341.0" stroke="#c4cccc" stroke-width="2.5"/>
<path d="M2073.0,1897.5 Q2073.0,1887.5 2083.0,1887.5 L2219.0,1887.5 Q2229.0,1887.5 2229.0,1897.5 L2229.0,1975.5 Q2229.0,1979.5 2225.0,1979.5 L2077.0,1979.5 Q2073.0,1979.5 2073.0,1975.5 Z" fill="url(#capg)"/>
<path d="M2073.0,1897.5 Q2073.0,1887.5 2083.0,1887.5 L2219.0,1887.5 Q2229.0,1887.5 2229.0,1897.5 L2229.0,1975.5 Q2229.0,1979.5 2225.0,1979.5 L2077.0,1979.5 Q2073.0,1979.5 2073.0,1975.5 Z" fill="url(#capv)"/>
<rect x="2104.2" y="1897.5" width="2.2" height="74" fill="#1558b8" opacity="0.25"/>
<rect x="2119.8" y="1897.5" width="2.2" height="74" fill="#1558b8" opacity="0.25"/>
<rect x="2160.4" y="1897.5" width="2.2" height="74" fill="#1558b8" opacity="0.25"/>
<rect x="2179.1" y="1897.5" width="2.2" height="74" fill="#1558b8" opacity="0.25"/>
<rect x="2197.8" y="1897.5" width="2.2" height="74" fill="#1558b8" opacity="0.25"/>
</g></g>
<clipPath id="clp24"><rect x="2236.0" y="1883.0" width="172.0" height="466.0"/></clipPath>
<g clip-path="url(#clp24)"><g filter="url(#soft)">
<rect x="2233.0" y="1880.0" width="178.0" height="472.0" fill="url(#wallg)"/>
<rect x="2236.0" y="1883.0" width="172.0" height="52" fill="#161514"/>
<rect x="2236.0" y="1935.0" width="172.0" height="13" fill="#bdb2a0"/>
<path d="M2265.0,1979.5 L2388.0,1979.5 L2388.0,2011.0 C2388.0,2041.0 2402.0,2036.0 2402.0,2065.0 L2402.0,2330.0 Q2402.0,2342.0 2388.0,2342.0 L2255.0,2342.0 Q2241.0,2342.0 2241.0,2330.0 L2241.0,2065.0 C2241.0,2036.0 2265.0,2041.0 2265.0,2011.0 Z" fill="url(#glassg)" stroke="#dcdad4" stroke-width="1.4"/>
<path d="M2379.0,1979.5 L2379.0,2011.0 C2379.0,2041.0 2395.0,2036.0 2395.0,2065.0 L2395.0,2076.0" fill="none" stroke="#ecebe6" stroke-width="2.4"/>
<path d="M2384.0,1979.5 L2384.0,2011.0 C2384.0,2041.0 2400.0,2036.0 2400.0,2065.0" fill="none" stroke="#46433f" stroke-width="1.5"/>
<path d="M2278.0,2021.0 q-9,16 -15,40 l6,2 q5,-22 14,-38 z" fill="#3a3733"/>
<path d="M2276.0,2070.0 q30,-8 60,-2 q20,3 36,-2" stroke="#5a5650" stroke-width="3" fill="none" stroke-dasharray="10 7"/>
<ellipse cx="2310.0" cy="2049.0" rx="3" ry="12" fill="#f4f4f2"/>
<ellipse cx="2334.0" cy="2027.0" rx="4.5" ry="5" fill="#eef3f4"/>
<ellipse cx="2337.0" cy="2060.0" rx="5.5" ry="5" fill="#eef3f4"/>
<path d="M2284.0,2043.0 l10,-7 M2282.0,2058.0 l12,5" stroke="#eeeeea" stroke-width="2"/>
<rect x="2276.0" y="2076.0" width="117.0" height="86.0" fill="#cacac6"/>
<rect x="2276.0" y="2076.0" width="117.0" height="86.0" fill="url(#labg)" opacity="0.25"/>
<rect x="2276.0" y="2089.0" width="20" height="73.0" fill="#9a978f"/>
<rect x="2393.0" y="2078.0" width="8" height="236.0" fill="#cfcec9"/>
<path d="M2253.0,2080.0v26 M2260.0,2078.0v30" stroke="#dedcd6" stroke-width="2.2"/>
<linearGradient id="lq24" x1="0" y1="0" x2="1" y2="0"><stop offset="0" stop-color="rgb(46,60,46)"/><stop offset="0.1" stop-color="rgb(78,92,66)"/><stop offset="0.28" stop-color="rgb(100,114,80)"/><stop offset="0.62" stop-color="rgb(105,117,83)"/><stop offset="0.9" stop-color="rgb(110,120,86)"/><stop offset="1" stop-color="rgb(78,90,66)"/></linearGradient>
<path d="M2242.0,2162.0 L2401.0,2162.0 L2401.0,2330.0 Q2401.0,2341.0 2387.0,2341.0 L2256.0,2341.0 Q2242.0,2341.0 2242.0,2330.0 Z" fill="url(#lq24)"/>
<rect x="2273.8" y="2172.0" width="12.7" height="115" fill="#000" opacity="0.07" filter="url(#blur4)"/>
<rect x="2308.8" y="2172.0" width="12.7" height="115" fill="#000" opacity="0.05" filter="url(#blur4)"/>
<rect x="2353.3" y="2172.0" width="12.7" height="115" fill="#000" opacity="0.05" filter="url(#blur4)"/>
<rect x="2242.0" y="2162.0" width="159.0" height="16" fill="url(#menis)"/>
<rect x="2242.0" y="2158.0" width="159.0" height="6" fill="rgb(94,84,70)"/>
<path d="M2250.0,2157.0 L2393.0,2157.0" stroke="#d8d4cc" stroke-width="1.5" opacity="0.7"/>
<path d="M2242.0,2330.0 L2242.0,2312.0 Q2267.4,2322.0 2296.9,2295.0 Q2317.9,2320.0 2339.0,2301.0 Q2348.5,2334.0 2370.8,2337.0 L2401.0,2339.0 L2401.0,2330.0 Q2401.0,2339.0 2387.0,2339.0 L2256.0,2339.0 Q2242.0,2339.0 2242.0,2330.0 Z" fill="rgb(142,147,137)"/>
<rect x="2236.0" y="2340.0" width="172.0" height="9" fill="#e6eeee"/>
<path d="M2247.0,2341.0 L2396.0,2341.0" stroke="#c4cccc" stroke-width="2.5"/>
<path d="M2243.0,1897.5 Q2243.0,1887.5 2253.0,1887.5 L2391.0,1887.5 Q2401.0,1887.5 2401.0,1897.5 L2401.0,1975.5 Q2401.0,1979.5 2397.0,1979.5 L2247.0,1979.5 Q2243.0,1979.5 2243.0,1975.5 Z" fill="url(#capg)"/>
<path d="M2243.0,1897.5 Q2243.0,1887.5 2253.0,1887.5 L2391.0,1887.5 Q2401.0,1887.5 2401.0,1897.5 L2401.0,1975.5 Q2401.0,1979.5 2397.0,1979.5 L2247.0,1979.5 Q2243.0,1979.5 2243.0,1975.5 Z" fill="url(#capv)"/>
<rect x="2274.6" y="1897.5" width="2.2" height="74" fill="#1558b8" opacity="0.25"/>
<rect x="2290.4" y="1897.5" width="2.2" height="74" fill="#1558b8" opacity="0.25"/>
<rect x="2331.5" y="1897.5" width="2.2" height="74" fill="#1558b8" opacity="0.25"/>
<rect x="2350.4" y="1897.5" width="2.2" height="74" fill="#1558b8" opacity="0.25"/>
<rect x="2369.4" y="1897.5" width="2.2" height="74" fill="#1558b8" opacity="0.25"/>
</g></g>
<rect x="1891.7" y="1883.0" width="1.6" height="466.0" fill="#8a8a86"/>
<rect x="2065.2" y="1883.0" width="1.6" height="466.0" fill="#8a8a86"/>
<rect x="2235.2" y="1883.0" width="1.6" height="466.0" fill="#8a8a86"/>
<clipPath id="clp25"><rect x="135.0" y="3047.0" width="169.5" height="465.0"/></clipPath>
<g clip-path="url(#clp25)"><g filter="url(#soft)">
<rect x="132.0" y="3044.0" width="175.5" height="471.0" fill="url(#wallg)"/>
<rect x="135.0" y="3047.0" width="169.5" height="52" fill="#161514"/>
<rect x="135.0" y="3099.0" width="169.5" height="13" fill="#bdb2a0"/>
<path d="M164.0,3143.5 L284.5,3143.5 L284.5,3175.0 C284.5,3205.0 298.5,3200.0 298.5,3229.0 L298.5,3493.0 Q298.5,3505.0 284.5,3505.0 L154.0,3505.0 Q140.0,3505.0 140.0,3493.0 L140.0,3229.0 C140.0,3200.0 164.0,3205.0 164.0,3175.0 Z" fill="url(#glassg)" stroke="#dcdad4" stroke-width="1.4"/>
<path d="M275.5,3143.5 L275.5,3175.0 C275.5,3205.0 291.5,3200.0 291.5,3229.0 L291.5,3239.0" fill="none" stroke="#ecebe6" stroke-width="2.4"/>
<path d="M280.5,3143.5 L280.5,3175.0 C280.5,3205.0 296.5,3200.0 296.5,3229.0" fill="none" stroke="#46433f" stroke-width="1.5"/>
<path d="M177.0,3185.0 q-9,16 -15,40 l6,2 q5,-22 14,-38 z" fill="#3a3733"/>
<path d="M175.0,3234.0 q30,-8 60,-2 q20,3 36,-2" stroke="#5a5650" stroke-width="3" fill="none" stroke-dasharray="10 7"/>
<ellipse cx="207.8" cy="3213.0" rx="3" ry="12" fill="#f4f4f2"/>
<ellipse cx="231.8" cy="3191.0" rx="4.5" ry="5" fill="#eef3f4"/>
<ellipse cx="234.8" cy="3224.0" rx="5.5" ry="5" fill="#eef3f4"/>
<path d="M181.8,3207.0 l10,-7 M179.8,3222.0 l12,5" stroke="#eeeeea" stroke-width="2"/>
<rect x="172.0" y="3239.0" width="117.5" height="75.0" fill="#c2c2bd"/>
<rect x="172.0" y="3239.0" width="117.5" height="75.0" fill="url(#labg)" opacity="0.25"/>
<rect x="172.0" y="3252.0" width="20" height="62.0" fill="#9a978f"/>
<rect x="289.5" y="3241.0" width="8" height="225.0" fill="#cfcec9"/>
<path d="M152.0,3243.0v26 M159.0,3241.0v30" stroke="#dedcd6" stroke-width="2.2"/>
<linearGradient id="lq25" x1="0" y1="0" x2="1" y2="0"><stop offset="0" stop-color="rgb(6,30,30)"/><stop offset="0.1" stop-color="rgb(8,55,46)"/><stop offset="0.28" stop-color="rgb(10,72,56)"/><stop offset="0.62" stop-color="rgb(13,86,63)"/><stop offset="0.9" stop-color="rgb(16,100,70)"/><stop offset="1" stop-color="rgb(11,65,50)"/></linearGradient>
<path d="M141.0,3314.0 L297.5,3314.0 L297.5,3493.0 Q297.5,3504.0 283.5,3504.0 L155.0,3504.0 Q141.0,3504.0 141.0,3493.0 Z" fill="url(#lq25)"/>
<rect x="172.3" y="3324.0" width="12.5" height="115" fill="#000" opacity="0.07" filter="url(#blur4)"/>
<rect x="206.7" y="3324.0" width="12.5" height="115" fill="#000" opacity="0.05" filter="url(#blur4)"/>
<rect x="250.6" y="3324.0" width="12.5" height="115" fill="#000" opacity="0.05" filter="url(#blur4)"/>
<rect x="141.0" y="3314.0" width="156.5" height="16" fill="url(#menis)"/>
<rect x="141.0" y="3310.0" width="156.5" height="6" fill="rgb(84,76,66)"/>
<path d="M149.0,3309.0 L289.5,3309.0" stroke="#d8d4cc" stroke-width="1.5" opacity="0.7"/>
<path d="M141.0,3493.0 L141.0,3464.0 Q166.0,3474.0 195.0,3447.0 Q215.7,3472.0 236.5,3453.0 Q245.9,3486.0 267.8,3489.0 L297.5,3491.0 L297.5,3493.0 Q297.5,3502.0 283.5,3502.0 L155.0,3502.0 Q141.0,3502.0 141.0,3493.0 Z" fill="rgb(67,109,111)"/>
<rect x="135.0" y="3503.0" width="169.5" height="9" fill="#e6eeee"/>
<path d="M146.0,3504.0 L292.5,3504.0" stroke="#c4cccc" stroke-width="2.5"/>
<path d="M142.0,3061.5 Q142.0,3051.5 152.0,3051.5 L287.5,3051.5 Q297.5,3051.5 297.5,3061.5 L297.5,3139.5 Q297.5,3143.5 293.5,3143.5 L146.0,3143.5 Q142.0,3143.5 142.0,3139.5 Z" fill="url(#capg)"/>
<path d="M142.0,3061.5 Q142.0,3051.5 152.0,3051.5 L287.5,3051.5 Q297.5,3051.5 297.5,3061.5 L297.5,3139.5 Q297.5,3143.5 293.5,3143.5 L146.0,3143.5 Q142.0,3143.5 142.0,3139.5 Z" fill="url(#capv)"/>
<rect x="173.1" y="3061.5" width="2.2" height="74" fill="#1558b8" opacity="0.25"/>
<rect x="188.7" y="3061.5" width="2.2" height="74" fill="#1558b8" opacity="0.25"/>
<rect x="229.1" y="3061.5" width="2.2" height="74" fill="#1558b8" opacity="0.25"/>
<rect x="247.7" y="3061.5" width="2.2" height="74" fill="#1558b8" opacity="0.25"/>
<rect x="266.4" y="3061.5" width="2.2" height="74" fill="#1558b8" opacity="0.25"/>
</g></g>
<clipPath id="clp26"><rect x="304.5" y="3047.0" width="171.5" height="465.0"/></clipPath>
<g clip-path="url(#clp26)"><g filter="url(#soft)">
<rect x="301.5" y="3044.0" width="177.5" height="471.0" fill="url(#wallg)"/>
<rect x="304.5" y="3047.0" width="171.5" height="52" fill="#161514"/>
<rect x="304.5" y="3099.0" width="171.5" height="13" fill="#bdb2a0"/>
<path d="M333.5,3143.5 L456.0,3143.5 L456.0,3175.0 C456.0,3205.0 470.0,3200.0 470.0,3229.0 L470.0,3493.0 Q470.0,3505.0 456.0,3505.0 L323.5,3505.0 Q309.5,3505.0 309.5,3493.0 L309.5,3229.0 C309.5,3200.0 333.5,3205.0 333.5,3175.0 Z" fill="url(#glassg)" stroke="#dcdad4" stroke-width="1.4"/>
<path d="M447.0,3143.5 L447.0,3175.0 C447.0,3205.0 463.0,3200.0 463.0,3229.0 L463.0,3239.0" fill="none" stroke="#ecebe6" stroke-width="2.4"/>
<path d="M452.0,3143.5 L452.0,3175.0 C452.0,3205.0 468.0,3200.0 468.0,3229.0" fill="none" stroke="#46433f" stroke-width="1.5"/>
<path d="M346.5,3185.0 q-9,16 -15,40 l6,2 q5,-22 14,-38 z" fill="#3a3733"/>
<path d="M344.5,3234.0 q30,-8 60,-2 q20,3 36,-2" stroke="#5a5650" stroke-width="3" fill="none" stroke-dasharray="10 7"/>
<ellipse cx="378.2" cy="3213.0" rx="3" ry="12" fill="#f4f4f2"/>
<ellipse cx="402.2" cy="3191.0" rx="4.5" ry="5" fill="#eef3f4"/>
<ellipse cx="405.2" cy="3224.0" rx="5.5" ry="5" fill="#eef3f4"/>
<path d="M352.2,3207.0 l10,-7 M350.2,3222.0 l12,5" stroke="#eeeeea" stroke-width="2"/>
<rect x="341.5" y="3239.0" width="119.5" height="75.0" fill="#c2c2bd"/>
<rect x="341.5" y="3239.0" width="119.5" height="75.0" fill="url(#labg)" opacity="0.25"/>
<rect x="341.5" y="3252.0" width="20" height="62.0" fill="#9a978f"/>
<rect x="461.0" y="3241.0" width="8" height="225.0" fill="#cfcec9"/>
<path d="M321.5,3243.0v26 M328.5,3241.0v30" stroke="#dedcd6" stroke-width="2.2"/>
<linearGradient id="lq26" x1="0" y1="0" x2="1" y2="0"><stop offset="0" stop-color="rgb(20,70,40)"/><stop offset="0.1" stop-color="rgb(62,122,38)"/><stop offset="0.28" stop-color="rgb(90,156,36)"/><stop offset="0.62" stop-color="rgb(80,163,34)"/><stop offset="0.9" stop-color="rgb(70,170,32)"/><stop offset="1" stop-color="rgb(45,120,36)"/></linearGradient>
<path d="M310.5,3314.0 L469.0,3314.0 L469.0,3493.0 Q469.0,3504.0 455.0,3504.0 L324.5,3504.0 Q310.5,3504.0 310.5,3493.0 Z" fill="url(#lq26)"/>
<rect x="342.2" y="3324.0" width="12.7" height="115" fill="#000" opacity="0.07" filter="url(#blur4)"/>
<rect x="377.1" y="3324.0" width="12.7" height="115" fill="#000" opacity="0.05" filter="url(#blur4)"/>
<rect x="421.4" y="3324.0" width="12.7" height="115" fill="#000" opacity="0.05" filter="url(#blur4)"/>
<rect x="310.5" y="3314.0" width="158.5" height="16" fill="url(#menis)"/>
<rect x="310.5" y="3310.0" width="158.5" height="6" fill="rgb(88,86,68)"/>
<path d="M318.5,3309.0 L461.0,3309.0" stroke="#d8d4cc" stroke-width="1.5" opacity="0.7"/>
<path d="M310.5,3493.0 L310.5,3464.0 Q335.9,3474.0 365.2,3447.0 Q386.2,3472.0 407.2,3453.0 Q416.7,3486.0 438.9,3489.0 L469.0,3491.0 L469.0,3493.0 Q469.0,3502.0 455.0,3502.0 L324.5,3502.0 Q310.5,3502.0 310.5,3493.0 Z" fill="rgb(108,152,120)"/>
<rect x="304.5" y="3503.0" width="171.5" height="9" fill="#e6eeee"/>
<path d="M315.5,3504.0 L464.0,3504.0" stroke="#c4cccc" stroke-width="2.5"/>
<path d="M311.5,3061.5 Q311.5,3051.5 321.5,3051.5 L459.0,3051.5 Q469.0,3051.5 469.0,3061.5 L469.0,3139.5 Q469.0,3143.5 465.0,3143.5 L315.5,3143.5 Q311.5,3143.5 311.5,3139.5 Z" fill="url(#capg)"/>
<path d="M311.5,3061.5 Q311.5,3051.5 321.5,3051.5 L459.0,3051.5 Q469.0,3051.5 469.0,3061.5 L469.0,3139.5 Q469.0,3143.5 465.0,3143.5 L315.5,3143.5 Q311.5,3143.5 311.5,3139.5 Z" fill="url(#capv)"/>
<rect x="343.0" y="3061.5" width="2.2" height="74" fill="#1558b8" opacity="0.25"/>
<rect x="358.8" y="3061.5" width="2.2" height="74" fill="#1558b8" opacity="0.25"/>
<rect x="399.7" y="3061.5" width="2.2" height="74" fill="#1558b8" opacity="0.25"/>
<rect x="418.6" y="3061.5" width="2.2" height="74" fill="#1558b8" opacity="0.25"/>
<rect x="437.5" y="3061.5" width="2.2" height="74" fill="#1558b8" opacity="0.25"/>
</g></g>
<clipPath id="clp27"><rect x="476.0" y="3047.0" width="171.0" height="465.0"/></clipPath>
<g clip-path="url(#clp27)"><g filter="url(#soft)">
<rect x="473.0" y="3044.0" width="177.0" height="471.0" fill="url(#wallg)"/>
<rect x="476.0" y="3047.0" width="171.0" height="52" fill="#161514"/>
<rect x="476.0" y="3099.0" width="171.0" height="13" fill="#bdb2a0"/>
<path d="M505.0,3143.5 L627.0,3143.5 L627.0,3175.0 C627.0,3205.0 641.0,3200.0 641.0,3229.0 L641.0,3493.0 Q641.0,3505.0 627.0,3505.0 L495.0,3505.0 Q481.0,3505.0 481.0,3493.0 L481.0,3229.0 C481.0,3200.0 505.0,3205.0 505.0,3175.0 Z" fill="url(#glassg)" stroke="#dcdad4" stroke-width="1.4"/>
<path d="M618.0,3143.5 L618.0,3175.0 C618.0,3205.0 634.0,3200.0 634.0,3229.0 L634.0,3239.0" fill="none" stroke="#ecebe6" stroke-width="2.4"/>
<path d="M623.0,3143.5 L623.0,3175.0 C623.0,3205.0 639.0,3200.0 639.0,3229.0" fill="none" stroke="#46433f" stroke-width="1.5"/>
<path d="M518.0,3185.0 q-9,16 -15,40 l6,2 q5,-22 14,-38 z" fill="#3a3733"/>
<path d="M516.0,3234.0 q30,-8 60,-2 q20,3 36,-2" stroke="#5a5650" stroke-width="3" fill="none" stroke-dasharray="10 7"/>
<ellipse cx="549.5" cy="3213.0" rx="3" ry="12" fill="#f4f4f2"/>
<ellipse cx="573.5" cy="3191.0" rx="4.5" ry="5" fill="#eef3f4"/>
<ellipse cx="576.5" cy="3224.0" rx="5.5" ry="5" fill="#eef3f4"/>
<path d="M523.5,3207.0 l10,-7 M521.5,3222.0 l12,5" stroke="#eeeeea" stroke-width="2"/>
<rect x="513.0" y="3239.0" width="119.0" height="75.0" fill="#c2c2bd"/>
<rect x="513.0" y="3239.0" width="119.0" height="75.0" fill="url(#labg)" opacity="0.25"/>
<rect x="513.0" y="3252.0" width="20" height="62.0" fill="#9a978f"/>
<rect x="632.0" y="3241.0" width="8" height="225.0" fill="#cfcec9"/>
<path d="M493.0,3243.0v26 M500.0,3241.0v30" stroke="#dedcd6" stroke-width="2.2"/>
<linearGradient id="lq27" x1="0" y1="0" x2="1" y2="0"><stop offset="0" stop-color="rgb(30,80,40)"/><stop offset="0.1" stop-color="rgb(100,105,35)"/><stop offset="0.28" stop-color="rgb(146,122,32)"/><stop offset="0.62" stop-color="rgb(123,136,31)"/><stop offset="0.9" stop-color="rgb(100,150,30)"/><stop offset="1" stop-color="rgb(65,115,35)"/></linearGradient>
<path d="M482.0,3314.0 L640.0,3314.0 L640.0,3493.0 Q640.0,3504.0 626.0,3504.0 L496.0,3504.0 Q482.0,3504.0 482.0,3493.0 Z" fill="url(#lq27)"/>
<rect x="513.6" y="3324.0" width="12.6" height="115" fill="#000" opacity="0.07" filter="url(#blur4)"/>
<rect x="548.4" y="3324.0" width="12.6" height="115" fill="#000" opacity="0.05" filter="url(#blur4)"/>
<rect x="592.6" y="3324.0" width="12.6" height="115" fill="#000" opacity="0.05" filter="url(#blur4)"/>
<rect x="482.0" y="3314.0" width="158.0" height="16" fill="url(#menis)"/>
<rect x="482.0" y="3310.0" width="158.0" height="6" fill="rgb(90,89,68)"/>
<path d="M490.0,3309.0 L632.0,3309.0" stroke="#d8d4cc" stroke-width="1.5" opacity="0.7"/>
<path d="M482.0,3493.0 L482.0,3464.0 Q507.3,3474.0 536.5,3447.0 Q557.4,3472.0 578.4,3453.0 Q587.9,3486.0 610.0,3489.0 L640.0,3491.0 L640.0,3493.0 Q640.0,3502.0 626.0,3502.0 L496.0,3502.0 Q482.0,3502.0 482.0,3493.0 Z" fill="rgb(124,143,120)"/>
<rect x="476.0" y="3503.0" width="171.0" height="9" fill="#e6eeee"/>
<path d="M487.0,3504.0 L635.0,3504.0" stroke="#c4cccc" stroke-width="2.5"/>
<path d="M483.0,3061.5 Q483.0,3051.5 493.0,3051.5 L630.0,3051.5 Q640.0,3051.5 640.0,3061.5 L640.0,3139.5 Q640.0,3143.5 636.0,3143.5 L487.0,3143.5 Q483.0,3143.5 483.0,3139.5 Z" fill="url(#capg)"/>
<path d="M483.0,3061.5 Q483.0,3051.5 493.0,3051.5 L630.0,3051.5 Q640.0,3051.5 640.0,3061.5 L640.0,3139.5 Q640.0,3143.5 636.0,3143.5 L487.0,3143.5 Q483.0,3143.5 483.0,3139.5 Z" fill="url(#capv)"/>
<rect x="514.4" y="3061.5" width="2.2" height="74" fill="#1558b8" opacity="0.25"/>
<rect x="530.1" y="3061.5" width="2.2" height="74" fill="#1558b8" opacity="0.25"/>
<rect x="570.9" y="3061.5" width="2.2" height="74" fill="#1558b8" opacity="0.25"/>
<rect x="589.8" y="3061.5" width="2.2" height="74" fill="#1558b8" opacity="0.25"/>
<rect x="608.6" y="3061.5" width="2.2" height="74" fill="#1558b8" opacity="0.25"/>
</g></g>
<clipPath id="clp28"><rect x="647.0" y="3047.0" width="171.0" height="465.0"/></clipPath>
<g clip-path="url(#clp28)"><g filter="url(#soft)">
<rect x="644.0" y="3044.0" width="177.0" height="471.0" fill="url(#wallg)"/>
<rect x="647.0" y="3047.0" width="171.0" height="52" fill="#161514"/>
<rect x="647.0" y="3099.0" width="171.0" height="13" fill="#bdb2a0"/>
<path d="M676.0,3143.5 L798.0,3143.5 L798.0,3175.0 C798.0,3205.0 812.0,3200.0 812.0,3229.0 L812.0,3493.0 Q812.0,3505.0 798.0,3505.0 L666.0,3505.0 Q652.0,3505.0 652.0,3493.0 L652.0,3229.0 C652.0,3200.0 676.0,3205.0 676.0,3175.0 Z" fill="url(#glassg)" stroke="#dcdad4" stroke-width="1.4"/>
<path d="M789.0,3143.5 L789.0,3175.0 C789.0,3205.0 805.0,3200.0 805.0,3229.0 L805.0,3239.0" fill="none" stroke="#ecebe6" stroke-width="2.4"/>
<path d="M794.0,3143.5 L794.0,3175.0 C794.0,3205.0 810.0,3200.0 810.0,3229.0" fill="none" stroke="#46433f" stroke-width="1.5"/>
<path d="M689.0,3185.0 q-9,16 -15,40 l6,2 q5,-22 14,-38 z" fill="#3a3733"/>
<path d="M687.0,3234.0 q30,-8 60,-2 q20,3 36,-2" stroke="#5a5650" stroke-width="3" fill="none" stroke-dasharray="10 7"/>
<ellipse cx="720.5" cy="3213.0" rx="3" ry="12" fill="#f4f4f2"/>
<ellipse cx="744.5" cy="3191.0" rx="4.5" ry="5" fill="#eef3f4"/>
<ellipse cx="747.5" cy="3224.0" rx="5.5" ry="5" fill="#eef3f4"/>
<path d="M694.5,3207.0 l10,-7 M692.5,3222.0 l12,5" stroke="#eeeeea" stroke-width="2"/>
<rect x="684.0" y="3239.0" width="119.0" height="75.0" fill="#c2c2bd"/>
<rect x="684.0" y="3239.0" width="119.0" height="75.0" fill="url(#labg)" opacity="0.25"/>
<rect x="684.0" y="3252.0" width="20" height="62.0" fill="#9a978f"/>
<rect x="803.0" y="3241.0" width="8" height="225.0" fill="#cfcec9"/>
<path d="M664.0,3243.0v26 M671.0,3241.0v30" stroke="#dedcd6" stroke-width="2.2"/>
<linearGradient id="lq28" x1="0" y1="0" x2="1" y2="0"><stop offset="0" stop-color="rgb(40,60,40)"/><stop offset="0.1" stop-color="rgb(88,73,40)"/><stop offset="0.28" stop-color="rgb(120,82,40)"/><stop offset="0.62" stop-color="rgb(122,83,41)"/><stop offset="0.9" stop-color="rgb(124,84,42)"/><stop offset="1" stop-color="rgb(82,72,41)"/></linearGradient>
<path d="M653.0,3314.0 L811.0,3314.0 L811.0,3493.0 Q811.0,3504.0 797.0,3504.0 L667.0,3504.0 Q653.0,3504.0 653.0,3493.0 Z" fill="url(#lq28)"/>
<rect x="684.6" y="3324.0" width="12.6" height="115" fill="#000" opacity="0.07" filter="url(#blur4)"/>
<rect x="719.4" y="3324.0" width="12.6" height="115" fill="#000" opacity="0.05" filter="url(#blur4)"/>
<rect x="763.6" y="3324.0" width="12.6" height="115" fill="#000" opacity="0.05" filter="url(#blur4)"/>
<rect x="653.0" y="3314.0" width="158.0" height="16" fill="url(#menis)"/>
<rect x="653.0" y="3310.0" width="158.0" height="6" fill="rgb(92,84,68)"/>
<path d="M661.0,3309.0 L803.0,3309.0" stroke="#d8d4cc" stroke-width="1.5" opacity="0.7"/>
<path d="M653.0,3493.0 L653.0,3464.0 Q678.3,3474.0 707.5,3447.0 Q728.4,3472.0 749.4,3453.0 Q758.9,3486.0 781.0,3489.0 L811.0,3491.0 L811.0,3493.0 Q811.0,3502.0 797.0,3502.0 L667.0,3502.0 Q653.0,3502.0 653.0,3493.0 Z" fill="rgb(142,134,128)"/>
<rect x="647.0" y="3503.0" width="171.0" height="9" fill="#e6eeee"/>
<path d="M658.0,3504.0 L806.0,3504.0" stroke="#c4cccc" stroke-width="2.5"/>
<path d="M654.0,3061.5 Q654.0,3051.5 664.0,3051.5 L801.0,3051.5 Q811.0,3051.5 811.0,3061.5 L811.0,3139.5 Q811.0,3143.5 807.0,3143.5 L658.0,3143.5 Q654.0,3143.5 654.0,3139.5 Z" fill="url(#capg)"/>
<path d="M654.0,3061.5 Q654.0,3051.5 664.0,3051.5 L801.0,3051.5 Q811.0,3051.5 811.0,3061.5 L811.0,3139.5 Q811.0,3143.5 807.0,3143.5 L658.0,3143.5 Q654.0,3143.5 654.0,3139.5 Z" fill="url(#capv)"/>
<rect x="685.4" y="3061.5" width="2.2" height="74" fill="#1558b8" opacity="0.25"/>
<rect x="701.1" y="3061.5" width="2.2" height="74" fill="#1558b8" opacity="0.25"/>
<rect x="741.9" y="3061.5" width="2.2" height="74" fill="#1558b8" opacity="0.25"/>
<rect x="760.8" y="3061.5" width="2.2" height="74" fill="#1558b8" opacity="0.25"/>
<rect x="779.6" y="3061.5" width="2.2" height="74" fill="#1558b8" opacity="0.25"/>
</g></g>
<rect x="303.7" y="3047.0" width="1.6" height="465.0" fill="#8a8a86"/>
<rect x="475.2" y="3047.0" width="1.6" height="465.0" fill="#f2f4f4"/>
<rect x="646.2" y="3047.0" width="1.6" height="465.0" fill="#8a8a86"/>
</svg>
</body></html>
